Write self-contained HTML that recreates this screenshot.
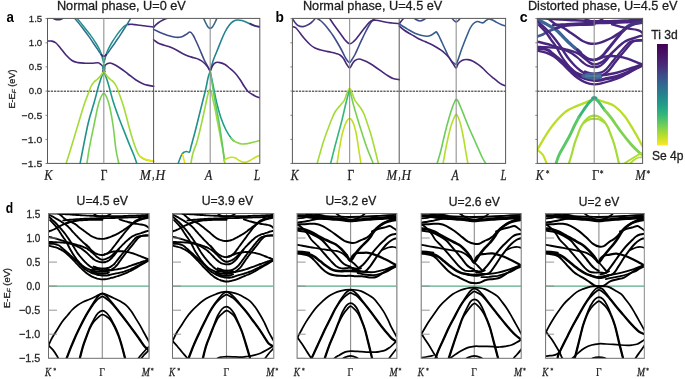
<!DOCTYPE html>
<html><head><meta charset="utf-8"><style>
html,body{margin:0;padding:0;background:#fff;}
svg{display:block;will-change:transform;}
</style></head><body>
<svg width="685" height="379" viewBox="0 0 685 379">
<rect width="685" height="379" fill="#fff"/>
<defs><clipPath id="ca"><rect x="47.50" y="18.40" width="212.30" height="145.00"/></clipPath><clipPath id="cb"><rect x="292.40" y="18.40" width="213.20" height="145.00"/></clipPath><clipPath id="cc"><rect x="537.30" y="18.40" width="105.30" height="145.00"/></clipPath><clipPath id="cd0"><rect x="48.50" y="213.50" width="100.60" height="144.80"/></clipPath><clipPath id="cd1"><rect x="172.50" y="213.50" width="101.20" height="144.80"/></clipPath><clipPath id="cd2"><rect x="297.10" y="213.50" width="99.70" height="144.80"/></clipPath><clipPath id="cd3"><rect x="421.20" y="213.50" width="100.10" height="144.80"/></clipPath><clipPath id="cd4"><rect x="545.60" y="213.50" width="98.80" height="144.80"/></clipPath>
<linearGradient id="vir" x1="0" y1="1" x2="0" y2="0">
<stop offset="0" stop-color="#fde725"/><stop offset="0.1" stop-color="#b5de2b"/><stop offset="0.2" stop-color="#6ece58"/>
<stop offset="0.3" stop-color="#35b779"/><stop offset="0.4" stop-color="#1f9e89"/><stop offset="0.5" stop-color="#26828e"/>
<stop offset="0.6" stop-color="#31688e"/><stop offset="0.7" stop-color="#3e4989"/><stop offset="0.8" stop-color="#482878"/>
<stop offset="0.9" stop-color="#471365"/><stop offset="1" stop-color="#440154"/>
</linearGradient></defs>
<line x1="47.50" y1="91.20" x2="259.80" y2="91.20" stroke="#1e1e1e" stroke-width="1.00" stroke-dasharray="2.3,0.95"/>
<line x1="292.40" y1="91.20" x2="505.60" y2="91.20" stroke="#1e1e1e" stroke-width="1.00" stroke-dasharray="2.3,0.95"/>
<line x1="537.30" y1="91.20" x2="642.60" y2="91.20" stroke="#1e1e1e" stroke-width="1.00" stroke-dasharray="2.3,0.95"/>
<line x1="48.50" y1="286.10" x2="149.10" y2="286.10" stroke="#5aad88" stroke-width="1.30"/>
<line x1="172.50" y1="286.10" x2="273.70" y2="286.10" stroke="#5aad88" stroke-width="1.30"/>
<line x1="297.10" y1="286.10" x2="396.80" y2="286.10" stroke="#5aad88" stroke-width="1.30"/>
<line x1="421.20" y1="286.10" x2="521.30" y2="286.10" stroke="#5aad88" stroke-width="1.30"/>
<line x1="545.60" y1="286.10" x2="644.40" y2="286.10" stroke="#5aad88" stroke-width="1.30"/>
<line x1="102.30" y1="213.50" x2="102.30" y2="358.30" stroke="#8c8c8c" stroke-width="1.10"/>
<line x1="226.50" y1="213.50" x2="226.50" y2="358.30" stroke="#8c8c8c" stroke-width="1.10"/>
<line x1="350.60" y1="213.50" x2="350.60" y2="358.30" stroke="#8c8c8c" stroke-width="1.10"/>
<line x1="474.30" y1="213.50" x2="474.30" y2="358.30" stroke="#8c8c8c" stroke-width="1.10"/>
<line x1="598.90" y1="213.50" x2="598.90" y2="358.30" stroke="#8c8c8c" stroke-width="1.10"/>
<g clip-path="url(#ca)">
<path d="M52.0,17.6 C52.5,17.9 54.0,18.9 55.0,19.3 C56.0,19.7 57.0,19.8 58.0,19.8 C59.0,19.8 60.0,19.7 61.0,19.3 C62.0,18.9 63.5,17.9 64.0,17.6" stroke="#472878" stroke-width="1.60" fill="none" stroke-linecap="round" stroke-linejoin="round"/>
<path d="M47.0,41.1 C47.8,41.1 50.5,40.8 52.0,41.1 C53.5,41.4 54.7,41.9 56.0,43.0 C57.3,44.1 58.3,45.5 60.0,47.5 C61.7,49.5 64.0,52.8 66.0,55.0 C68.0,57.2 70.0,59.2 72.0,60.5 C74.0,61.8 75.8,62.1 78.0,62.6 C80.2,63.1 82.7,63.1 85.0,63.2 C87.3,63.3 89.8,63.3 92.0,63.2 C94.2,63.1 96.5,62.6 98.0,62.8 C99.5,63.0 100.0,63.7 101.0,64.5 C102.0,65.3 103.3,67.2 103.8,67.7" stroke="#472878" stroke-width="1.60" fill="none" stroke-linecap="round" stroke-linejoin="round"/>
<path d="M103.8,67.7 C104.2,67.2 105.2,65.2 106.0,64.5 C106.8,63.8 107.5,63.5 108.5,63.3 C109.5,63.1 110.1,62.7 112.0,63.5 C113.9,64.3 117.3,66.2 120.0,68.0 C122.7,69.8 125.3,72.0 128.0,74.0 C130.7,76.0 133.3,78.3 136.0,80.0 C138.7,81.7 141.1,83.2 144.0,84.2 C146.9,85.2 152.1,86.0 153.7,86.3" stroke="#472878" stroke-width="1.60" fill="none" stroke-linecap="round" stroke-linejoin="round"/>
<path d="M73.8,17.5 C74.4,18.1 76.1,20.0 77.2,21.3 C78.3,22.6 79.4,24.0 80.6,25.5 C81.8,27.0 83.1,28.7 84.4,30.5 C85.7,32.3 87.2,34.2 88.6,36.1 C90.0,38.0 91.4,40.2 92.6,42.0 C93.8,43.8 95.0,45.6 96.0,47.0 C97.0,48.4 97.7,49.6 98.4,50.6 C99.1,51.6 99.7,52.5 100.3,53.3 C100.9,54.1 101.4,54.8 102.0,55.3 C102.6,55.8 103.2,56.3 103.8,56.3 C104.4,56.3 105.0,55.8 105.6,55.3 C106.2,54.8 106.8,54.1 107.5,53.3 C108.2,52.5 108.8,51.6 109.5,50.6 C110.2,49.6 111.0,48.4 112.0,47.0 C113.0,45.6 114.3,43.8 115.5,42.0 C116.7,40.2 118.2,38.1 119.4,36.4 C120.6,34.6 121.5,33.1 122.5,31.5 C123.5,29.9 124.4,28.5 125.4,27.0 C126.4,25.5 127.3,23.9 128.3,22.3 C129.3,20.7 130.7,18.3 131.2,17.5" stroke="#2d6f8e" stroke-width="1.50" fill="none" stroke-linecap="round" stroke-linejoin="round"/>
<path d="M76.4,17.5 C77.0,18.2 78.7,20.2 79.8,21.6 C80.9,23.0 82.1,24.5 83.3,26.0 C84.5,27.5 85.5,28.8 86.8,30.5 C88.1,32.2 89.8,34.1 91.2,36.1 C92.7,38.1 94.2,40.5 95.5,42.5 C96.8,44.5 97.9,46.4 98.8,48.1 C99.7,49.8 100.3,51.2 100.8,52.5 C101.3,53.8 101.6,54.9 101.9,56.0 C102.2,57.1 102.5,58.5 102.6,59.0" stroke="#22908c" stroke-width="1.50" fill="none" stroke-linecap="round" stroke-linejoin="round"/>
<path d="M105.0,59.0 C105.1,58.5 105.4,57.1 105.7,56.0 C106.0,54.9 106.3,53.8 106.8,52.5 C107.3,51.2 107.9,49.8 108.8,48.1 C109.7,46.4 110.7,44.5 111.9,42.5 C113.1,40.5 114.6,38.3 115.9,36.4 C117.2,34.5 118.6,32.5 119.8,31.0 C121.0,29.5 122.1,28.2 123.1,27.2 C124.1,26.2 124.9,25.7 125.8,25.2 C126.7,24.7 128.1,24.5 128.5,24.4" stroke="#22908c" stroke-width="1.50" fill="none" stroke-linecap="round" stroke-linejoin="round"/>
<path d="M102.6,59.0 C102.7,59.4 103.0,60.7 103.2,61.5 C103.4,62.3 103.6,62.9 103.8,63.6 C104.0,64.3 104.2,64.9 104.4,65.7 C104.6,66.5 105.0,67.5 105.0,68.3 C105.0,69.1 104.6,69.8 104.4,70.3 C104.2,70.8 103.9,71.0 103.8,71.2" stroke="#2a9a8a" stroke-width="1.40" fill="none" stroke-linecap="round" stroke-linejoin="round"/>
<path d="M105.0,59.0 C104.9,59.4 104.6,60.7 104.4,61.5 C104.2,62.3 104.0,62.9 103.8,63.6 C103.6,64.3 103.4,64.9 103.2,65.7 C103.0,66.5 102.6,67.5 102.6,68.3 C102.6,69.1 103.0,69.8 103.2,70.3 C103.4,70.8 103.7,71.0 103.8,71.2" stroke="#2a9a8a" stroke-width="1.40" fill="none" stroke-linecap="round" stroke-linejoin="round"/>
<path d="M102.9,71.2 C103.1,71.3 103.5,71.6 103.8,71.6 C104.1,71.6 104.5,71.3 104.7,71.2" stroke="#3b1c6e" stroke-width="2.00" fill="none" stroke-linecap="round" stroke-linejoin="round"/>
<path d="M101.2,54.6 C101.4,54.8 102.1,55.6 102.5,55.9 C102.9,56.2 103.4,56.4 103.8,56.4 C104.2,56.4 104.7,56.2 105.1,55.9 C105.5,55.6 106.2,54.8 106.4,54.6" stroke="#3a2a75" stroke-width="1.60" fill="none" stroke-linecap="round" stroke-linejoin="round"/>
<path d="M128.5,24.4 C129.2,24.4 131.1,24.2 133.0,24.4 C134.9,24.5 137.7,25.0 140.0,25.3 C142.3,25.6 144.7,26.0 147.0,26.3 C149.3,26.6 152.6,26.9 153.7,27.0" stroke="#472878" stroke-width="1.60" fill="none" stroke-linecap="round" stroke-linejoin="round"/>
<path d="M103.8,71.2 C103.4,72.2 102.2,75.0 101.5,77.0 C100.8,79.0 100.1,81.2 99.5,83.0 C98.9,84.8 98.9,84.7 98.0,88.0 C97.1,91.3 95.7,97.0 94.0,103.0 C92.3,109.0 90.3,113.8 88.0,124.0 C85.7,134.2 81.3,157.3 80.0,164.0" stroke="#21918c" stroke-width="1.60" fill="none" stroke-linecap="round" stroke-linejoin="round"/>
<path d="M103.8,71.2 C104.2,72.2 105.3,75.0 106.0,77.0 C106.7,79.0 107.2,80.5 108.0,83.0 C108.8,85.5 109.7,89.0 110.5,92.0 C111.3,95.0 111.8,97.1 113.0,101.0 C114.2,104.9 116.1,110.4 118.0,115.5 C119.9,120.6 122.2,126.4 124.2,131.4 C126.2,136.4 128.2,141.6 129.8,145.5 C131.4,149.4 132.6,152.0 133.8,155.0 C135.0,158.0 136.2,161.7 136.8,163.5 C137.4,165.3 137.4,165.6 137.5,166.0" stroke="#1f9a8a" stroke-width="1.60" fill="none" stroke-linecap="round" stroke-linejoin="round"/>
<path d="M103.8,71.2 C103.2,72.0 101.6,74.6 100.5,76.0 C99.4,77.4 98.1,78.5 97.0,79.5 C95.9,80.5 95.0,80.8 94.0,82.0 C93.0,83.2 91.9,84.7 91.0,86.5 C90.1,88.3 89.7,89.9 88.5,93.0 C87.3,96.1 85.9,99.2 84.0,105.0 C82.1,110.8 79.2,120.8 77.0,128.0 C74.8,135.2 72.8,142.0 71.0,148.0 C69.2,154.0 66.8,161.3 66.0,164.0" stroke="#a5db36" stroke-width="1.60" fill="none" stroke-linecap="round" stroke-linejoin="round"/>
<path d="M103.8,71.2 C104.3,72.0 105.9,74.6 107.0,76.0 C108.1,77.4 109.4,78.5 110.5,79.5 C111.6,80.5 112.5,80.8 113.5,82.0 C114.5,83.2 115.6,84.7 116.5,86.5 C117.4,88.3 117.8,89.4 119.0,93.0 C120.2,96.6 122.0,101.2 124.0,108.0 C126.0,114.8 129.0,127.2 131.0,134.0 C133.0,140.8 134.5,145.2 136.0,149.0 C137.5,152.8 138.3,154.7 140.0,156.5 C141.7,158.3 143.7,159.2 146.0,160.0 C148.3,160.8 152.4,161.0 153.7,161.2" stroke="#a5db36" stroke-width="1.60" fill="none" stroke-linecap="round" stroke-linejoin="round"/>
<path d="M86.0,170.0 C86.5,166.7 87.7,157.5 89.0,150.0 C90.3,142.5 92.5,132.3 94.0,125.0 C95.5,117.7 96.8,110.7 98.0,106.0 C99.2,101.3 100.0,99.1 101.0,97.0 C102.0,94.9 102.9,93.2 103.8,93.2 C104.7,93.2 105.5,94.9 106.5,97.0 C107.5,99.1 108.4,101.3 109.5,106.0 C110.6,110.7 111.9,117.7 113.0,125.0 C114.1,132.3 115.0,143.5 116.0,150.0 C117.0,156.5 118.5,161.7 119.0,164.0" stroke="#7ad151" stroke-width="1.60" fill="none" stroke-linecap="round" stroke-linejoin="round"/>
<path d="M103.3,63.6 L104.3,63.6" stroke="#c8e020" stroke-width="1.60" fill="none" stroke-linecap="round" stroke-linejoin="round"/>
</g>
<g clip-path="url(#ca)">
<path d="M153.6,27.2 C154.3,26.5 156.4,24.2 158.0,23.0 C159.6,21.8 161.3,20.8 163.0,20.0 C164.7,19.2 166.5,18.6 168.0,18.0 C169.5,17.4 171.3,16.8 172.0,16.5" stroke="#472878" stroke-width="1.60" fill="none" stroke-linecap="round" stroke-linejoin="round"/>
<path d="M153.6,29.4 C154.3,29.8 156.3,30.7 158.0,31.5 C159.7,32.3 162.0,33.2 164.0,34.0 C166.0,34.8 168.0,35.5 170.0,36.0 C172.0,36.5 174.2,37.1 176.0,37.3 C177.8,37.5 179.3,37.5 181.0,37.0 C182.7,36.5 184.5,35.3 186.0,34.5 C187.5,33.7 188.8,31.9 190.0,32.0 C191.2,32.1 192.0,33.5 193.0,35.0 C194.0,36.5 194.8,38.5 196.0,41.0 C197.2,43.5 198.7,46.9 200.0,50.0 C201.3,53.1 202.8,56.8 204.0,59.5 C205.2,62.2 206.5,64.0 207.5,66.0 C208.5,68.0 209.8,70.3 210.2,71.2" stroke="#3e4c8a" stroke-width="1.60" fill="none" stroke-linecap="round" stroke-linejoin="round"/>
<path d="M153.6,39.8 C154.3,40.3 156.3,42.1 158.0,43.0 C159.7,43.9 162.0,44.5 164.0,45.2 C166.0,45.9 168.0,46.2 170.0,47.0 C172.0,47.8 174.0,48.8 176.0,49.8 C178.0,50.8 180.0,52.3 182.0,53.3 C184.0,54.3 186.0,55.2 188.0,56.0 C190.0,56.8 192.2,57.2 194.0,57.8 C195.8,58.4 197.5,58.8 199.0,59.5 C200.5,60.2 201.7,60.9 203.0,62.0 C204.3,63.1 205.8,64.5 207.0,66.0 C208.2,67.5 209.7,70.3 210.2,71.2" stroke="#472878" stroke-width="1.60" fill="none" stroke-linecap="round" stroke-linejoin="round"/>
<path d="M210.2,71.2 C210.7,69.5 211.9,64.4 213.0,61.0 C214.1,57.6 215.7,54.3 217.0,51.0 C218.3,47.7 219.7,44.2 221.0,41.0 C222.3,37.8 223.7,34.6 225.0,32.0 C226.3,29.4 227.7,27.2 229.0,25.5 C230.3,23.8 231.7,22.4 233.0,21.5 C234.3,20.6 235.5,20.2 237.0,20.0 C238.5,19.8 240.3,20.1 242.0,20.5 C243.7,20.9 245.3,21.8 247.0,22.5 C248.7,23.2 250.5,24.4 252.0,25.0 C253.5,25.6 254.7,26.0 256.0,26.3 C257.3,26.6 259.3,26.7 260.0,26.8" stroke="#26828e" stroke-width="1.60" fill="none" stroke-linecap="round" stroke-linejoin="round"/>
<path d="M250.0,23.5 C250.8,23.9 253.3,25.2 255.0,25.8 C256.7,26.4 259.2,26.6 260.0,26.8" stroke="#472878" stroke-width="1.60" fill="none" stroke-linecap="round" stroke-linejoin="round"/>
<path d="M210.2,71.2 C210.7,70.2 212.0,66.5 213.0,65.0 C214.0,63.5 214.8,62.9 216.0,62.5 C217.2,62.1 218.5,62.3 220.0,62.6 C221.5,62.9 223.3,63.5 225.0,64.5 C226.7,65.5 228.3,67.1 230.0,68.5 C231.7,69.9 233.3,71.2 235.0,73.0 C236.7,74.8 238.5,77.3 240.0,79.5 C241.5,81.7 242.7,84.0 244.0,86.0 C245.3,88.0 246.7,90.1 248.0,91.5 C249.3,92.9 250.7,93.4 252.0,94.2 C253.3,95.0 254.7,95.9 256.0,96.5 C257.3,97.1 259.3,97.6 260.0,97.8" stroke="#472878" stroke-width="1.60" fill="none" stroke-linecap="round" stroke-linejoin="round"/>
<path d="M203.0,17.0 C203.4,17.9 204.7,20.8 205.5,22.5 C206.3,24.2 207.2,26.0 208.0,27.0 C208.8,28.0 209.5,28.4 210.2,28.4 C210.9,28.4 211.6,28.0 212.4,27.0 C213.2,26.0 214.2,24.2 215.0,22.5 C215.8,20.8 217.1,17.9 217.5,17.0" stroke="#31688e" stroke-width="1.60" fill="none" stroke-linecap="round" stroke-linejoin="round"/>
<path d="M210.2,71.2 C209.8,72.3 208.7,75.2 208.0,78.0 C207.3,80.8 206.8,84.3 206.0,88.0 C205.2,91.7 204.2,95.3 203.0,100.0 C201.8,104.7 200.3,110.7 199.0,116.0 C197.7,121.3 196.3,127.0 195.0,132.0 C193.7,137.0 192.1,142.7 191.2,146.0 C190.3,149.3 190.3,151.1 189.5,152.0 C188.7,152.9 187.5,151.4 186.5,151.5 C185.5,151.6 184.4,151.8 183.5,152.5 C182.6,153.2 181.9,154.1 181.0,156.0 C180.1,157.9 178.5,162.7 178.0,164.0" stroke="#21918c" stroke-width="1.60" fill="none" stroke-linecap="round" stroke-linejoin="round"/>
<path d="M190.5,166.0 C190.7,165.0 191.1,162.2 191.5,160.0 C191.9,157.8 192.2,155.8 193.0,153.0 C193.8,150.2 195.5,146.5 196.6,143.0 C197.7,139.5 198.6,135.7 199.5,132.0 C200.4,128.3 201.3,124.5 202.1,120.8 C202.9,117.1 203.8,113.2 204.5,110.0 C205.2,106.8 205.7,104.2 206.3,101.5 C206.9,98.8 207.6,95.5 208.2,93.5 C208.8,91.5 209.3,89.3 209.9,89.3 C210.5,89.3 211.0,91.5 211.6,93.5 C212.2,95.5 212.8,98.8 213.4,101.5 C214.0,104.2 214.7,106.8 215.3,110.0 C216.0,113.2 216.6,117.1 217.3,120.8 C218.0,124.5 218.8,128.3 219.5,132.0 C220.2,135.7 220.9,139.7 221.5,143.0 C222.1,146.3 222.9,149.5 223.3,152.0 C223.8,154.5 223.9,156.2 224.2,158.0 C224.4,159.8 224.7,162.2 224.8,163.0" stroke="#9bd93c" stroke-width="1.60" fill="none" stroke-linecap="round" stroke-linejoin="round"/>
<path d="M210.2,71.2 C210.5,72.7 211.4,76.9 212.0,80.0 C212.6,83.1 213.2,86.0 214.0,90.0 C214.8,94.0 215.8,99.3 217.0,104.0 C218.2,108.7 219.5,113.7 221.0,118.0 C222.5,122.3 224.3,126.7 226.0,130.0 C227.7,133.3 229.7,136.2 231.0,138.0 C232.3,139.8 233.5,140.5 234.0,141.0" stroke="#1f9e89" stroke-width="1.60" fill="none" stroke-linecap="round" stroke-linejoin="round"/>
<path d="M231.0,138.0 C231.5,138.5 233.2,140.3 234.0,141.0 C234.8,141.7 234.7,141.5 236.0,142.0 C237.3,142.5 240.0,143.8 242.0,144.0 C244.0,144.2 246.0,143.8 248.0,143.5 C250.0,143.2 252.0,142.5 254.0,142.0 C256.0,141.5 259.0,140.8 260.0,140.5" stroke="#8ed645" stroke-width="1.60" fill="none" stroke-linecap="round" stroke-linejoin="round"/>
<path d="M210.2,71.2 C210.4,72.7 210.9,76.5 211.5,80.0 C212.1,83.5 212.8,87.7 213.5,92.0 C214.2,96.3 215.1,101.0 216.0,106.0 C216.9,111.0 218.0,116.0 219.0,122.0 C220.0,128.0 221.1,135.7 222.0,142.0 C222.9,148.3 223.9,157.0 224.3,160.0" stroke="#5ec962" stroke-width="1.60" fill="none" stroke-linecap="round" stroke-linejoin="round"/>
<path d="M223.5,161.0 C223.6,160.8 223.7,160.4 224.3,160.0 C224.9,159.6 225.9,158.9 227.0,158.5 C228.1,158.1 229.7,157.4 231.0,157.3 C232.3,157.2 233.5,157.1 235.0,157.7 C236.5,158.3 238.3,160.2 240.0,161.0 C241.7,161.8 243.3,162.5 245.0,162.4 C246.7,162.3 248.3,161.3 250.0,160.5 C251.7,159.7 253.3,158.4 255.0,157.5 C256.7,156.6 259.2,155.6 260.0,155.2" stroke="#c8e020" stroke-width="1.60" fill="none" stroke-linecap="round" stroke-linejoin="round"/>
<path d="M185.0,164.0 C184.8,163.0 183.9,159.6 183.5,158.0 C183.1,156.4 182.7,155.1 182.5,154.5" stroke="#e5e419" stroke-width="1.60" fill="none" stroke-linecap="round" stroke-linejoin="round"/>
<path d="M140.0,156.2 C141.0,156.8 143.7,158.7 146.0,159.5 C148.3,160.3 152.3,160.9 153.6,161.2" stroke="#e5e419" stroke-width="1.60" fill="none" stroke-linecap="round" stroke-linejoin="round"/>
</g>
<g clip-path="url(#cb)">
<path d="M292.6,19.0 C293.0,19.6 294.1,21.4 295.0,22.5 C295.9,23.6 296.7,24.8 298.0,25.5 C299.3,26.2 301.2,26.8 303.0,26.6 C304.8,26.4 307.3,25.1 309.0,24.2 C310.7,23.3 311.8,22.1 313.0,21.0 C314.2,19.9 315.5,18.1 316.0,17.5" stroke="#443a83" stroke-width="1.60" fill="none" stroke-linecap="round" stroke-linejoin="round"/>
<path d="M316.0,17.8 C316.8,18.3 319.5,19.8 321.0,21.0 C322.5,22.2 323.7,23.5 325.0,25.0 C326.3,26.5 327.7,28.2 329.0,30.0 C330.3,31.8 331.7,33.5 333.0,35.5 C334.3,37.5 335.7,39.8 337.0,42.0 C338.3,44.2 339.8,46.8 341.0,49.0 C342.2,51.2 343.1,53.2 344.0,55.0 C344.9,56.8 345.6,58.2 346.5,59.5 C347.4,60.8 348.7,62.6 349.6,62.6 C350.5,62.6 351.1,60.9 352.0,59.5 C352.9,58.1 354.0,56.4 355.0,54.5 C356.0,52.6 357.0,50.2 358.0,48.0 C359.0,45.8 359.8,43.8 361.0,41.3 C362.2,38.8 363.7,35.6 365.0,33.0 C366.3,30.4 367.8,27.5 369.0,25.5 C370.2,23.5 371.0,22.2 372.0,21.0 C373.0,19.8 374.5,18.5 375.0,18.0" stroke="#3e4c8a" stroke-width="1.60" fill="none" stroke-linecap="round" stroke-linejoin="round"/>
<path d="M329.0,17.5 C329.7,18.5 331.7,21.6 333.0,23.5 C334.3,25.4 335.7,27.2 337.0,29.0 C338.3,30.8 339.7,32.7 341.0,34.5 C342.3,36.3 343.6,38.5 345.0,40.0 C346.4,41.5 348.1,43.6 349.6,43.8 C351.1,44.0 352.6,42.4 354.0,41.2 C355.4,40.0 356.5,38.4 358.0,36.5 C359.5,34.6 361.5,31.9 363.0,30.0 C364.5,28.1 365.7,26.5 367.0,25.0 C368.3,23.5 369.5,21.8 371.0,21.0 C372.5,20.2 373.7,20.0 376.0,20.2 C378.3,20.4 382.3,21.5 385.0,22.0 C387.7,22.5 389.6,22.7 392.0,23.0 C394.4,23.3 398.1,23.5 399.3,23.6" stroke="#472878" stroke-width="1.60" fill="none" stroke-linecap="round" stroke-linejoin="round"/>
<path d="M292.6,26.6 C293.2,26.8 294.8,26.9 296.0,28.0 C297.2,29.1 298.5,31.1 300.0,33.0 C301.5,34.9 303.3,37.3 305.0,39.2 C306.7,41.1 308.3,43.0 310.0,44.5 C311.7,46.0 313.3,47.1 315.0,48.0 C316.7,48.9 318.3,49.3 320.0,49.8 C321.7,50.3 323.2,50.6 325.0,51.0 C326.8,51.4 329.2,51.8 331.0,52.2 C332.8,52.6 334.5,52.9 336.0,53.4 C337.5,53.9 338.8,54.1 340.0,55.0 C341.2,55.9 342.4,57.0 343.5,58.5 C344.6,60.0 345.5,62.4 346.5,64.0 C347.5,65.6 348.6,68.1 349.6,68.0 C350.6,67.9 351.6,64.8 352.5,63.5 C353.4,62.2 353.9,61.2 355.0,60.5 C356.1,59.8 357.5,59.0 359.0,59.0 C360.5,59.0 362.2,59.8 364.0,60.5 C365.8,61.2 368.0,62.3 370.0,63.5 C372.0,64.7 374.0,66.1 376.0,67.5 C378.0,68.9 380.0,70.3 382.0,71.7 C384.0,73.1 386.2,74.7 388.0,75.8 C389.8,76.9 391.1,77.8 393.0,78.4 C394.9,79.0 398.2,79.4 399.3,79.6" stroke="#472878" stroke-width="1.60" fill="none" stroke-linecap="round" stroke-linejoin="round"/>
<path d="M349.6,89.0 C349.2,89.7 347.9,91.2 347.0,93.0 C346.1,94.8 345.5,98.1 344.5,100.0 C343.5,101.9 342.1,103.2 341.0,104.5 C339.9,105.8 339.0,106.8 338.0,108.0 C337.0,109.2 336.0,110.2 335.0,112.0 C334.0,113.8 333.1,115.9 332.0,118.5 C330.9,121.1 329.7,124.4 328.5,127.5 C327.3,130.6 326.2,133.6 325.0,137.0 C323.8,140.4 322.8,143.5 321.5,148.0 C320.2,152.5 317.8,161.3 317.0,164.0" stroke="#a5db36" stroke-width="1.60" fill="none" stroke-linecap="round" stroke-linejoin="round"/>
<path d="M349.6,89.0 C350.0,89.7 351.1,91.2 352.0,93.0 C352.9,94.8 353.8,98.1 354.8,100.0 C355.8,101.9 357.0,103.1 358.0,104.5 C359.0,105.9 360.0,106.9 361.0,108.5 C362.0,110.1 363.0,111.7 364.0,114.0 C365.0,116.3 365.9,119.3 367.0,122.5 C368.1,125.7 369.3,129.1 370.5,133.0 C371.7,136.9 372.7,140.8 374.0,146.0 C375.3,151.2 377.8,161.0 378.5,164.0" stroke="#a5db36" stroke-width="1.60" fill="none" stroke-linecap="round" stroke-linejoin="round"/>
<path d="M349.6,89.0 C349.0,91.3 347.3,97.8 346.0,103.0 C344.7,108.2 343.3,114.7 342.0,120.0 C340.7,125.3 339.3,130.0 338.0,135.0 C336.7,140.0 335.2,145.2 334.0,150.0 C332.8,154.8 331.1,161.7 330.5,164.0" stroke="#35b779" stroke-width="1.60" fill="none" stroke-linecap="round" stroke-linejoin="round"/>
<path d="M349.6,89.0 C350.2,91.3 351.8,98.3 353.0,103.0 C354.2,107.7 355.5,112.0 357.0,117.0 C358.5,122.0 360.3,127.8 362.0,133.0 C363.7,138.2 365.1,142.8 367.0,148.0 C368.9,153.2 372.4,161.3 373.5,164.0" stroke="#7ad151" stroke-width="1.60" fill="none" stroke-linecap="round" stroke-linejoin="round"/>
<path d="M337.0,164.0 C337.4,161.3 338.7,152.8 339.5,148.0 C340.3,143.2 341.1,138.8 342.0,135.0 C342.9,131.2 344.1,127.5 345.0,125.0 C345.9,122.5 346.7,121.1 347.5,120.0 C348.3,118.9 348.9,118.5 349.6,118.5 C350.3,118.5 351.0,118.9 351.7,120.0 C352.4,121.1 353.2,122.5 354.0,125.0 C354.8,127.5 355.8,131.2 356.5,135.0 C357.2,138.8 357.8,143.2 358.5,148.0 C359.2,152.8 360.6,161.3 361.0,164.0" stroke="#c2df23" stroke-width="1.60" fill="none" stroke-linecap="round" stroke-linejoin="round"/>
<path d="M348.4,89.6 C348.6,89.5 349.2,89.2 349.6,89.2 C350.0,89.2 350.6,89.5 350.8,89.6" stroke="#d8e219" stroke-width="1.90" fill="none" stroke-linecap="round" stroke-linejoin="round"/>
</g>
<g clip-path="url(#cb)">
<path d="M399.3,23.6 C399.6,23.2 400.4,22.3 401.0,21.5 C401.6,20.7 402.3,19.8 403.0,19.0 C403.7,18.2 404.7,17.3 405.0,17.0" stroke="#472878" stroke-width="1.60" fill="none" stroke-linecap="round" stroke-linejoin="round"/>
<path d="M413.0,17.0 C413.5,17.4 414.8,18.8 416.0,19.5 C417.2,20.2 418.7,21.0 420.0,21.0 C421.3,21.0 422.8,20.2 424.0,19.5 C425.2,18.8 426.5,17.4 427.0,17.0" stroke="#3e4c8a" stroke-width="1.60" fill="none" stroke-linecap="round" stroke-linejoin="round"/>
<path d="M451.0,17.0 C451.5,17.6 453.1,19.7 454.0,20.5 C454.9,21.3 455.5,22.0 456.2,22.0 C456.9,22.0 457.6,21.3 458.4,20.5 C459.2,19.7 460.6,17.6 461.0,17.0" stroke="#3e4c8a" stroke-width="1.60" fill="none" stroke-linecap="round" stroke-linejoin="round"/>
<path d="M399.3,24.0 C400.1,24.5 402.4,26.0 404.0,27.0 C405.6,28.0 407.5,29.1 409.0,30.0 C410.5,30.9 411.7,31.6 413.0,32.3 C414.3,33.0 415.5,33.5 417.0,34.0 C418.5,34.5 420.3,35.1 422.0,35.5 C423.7,35.9 425.5,36.2 427.0,36.2 C428.5,36.2 429.8,35.8 431.0,35.3 C432.2,34.8 433.6,33.5 434.5,33.0 C435.4,32.5 435.8,31.5 436.5,32.0 C437.2,32.5 438.1,34.2 439.0,36.0 C439.9,37.8 441.0,40.3 442.0,42.5 C443.0,44.7 444.0,46.8 445.0,49.0 C446.0,51.2 447.0,53.6 448.0,55.5 C449.0,57.4 450.0,59.2 451.0,60.5 C452.0,61.8 453.1,62.6 454.0,63.2 C454.9,63.8 455.4,64.8 456.2,64.0 C456.9,63.2 457.7,60.7 458.5,58.5 C459.3,56.3 460.1,53.6 461.0,51.0 C461.9,48.4 463.0,45.6 464.0,43.0 C465.0,40.4 466.0,37.9 467.0,35.5 C468.0,33.1 469.0,30.4 470.0,28.5 C471.0,26.6 471.8,25.2 473.0,24.0 C474.2,22.8 475.8,21.8 477.0,21.5 C478.2,21.2 479.0,22.0 480.0,22.2 C481.0,22.4 482.0,23.1 483.0,22.8 C484.0,22.5 485.0,21.1 486.0,20.5 C487.0,19.9 488.0,19.1 489.0,19.0 C490.0,18.9 490.8,19.3 492.0,19.8 C493.2,20.3 494.5,21.2 496.0,22.0 C497.5,22.8 499.3,23.8 501.0,24.5 C502.7,25.2 505.2,25.8 506.0,26.0" stroke="#365d8d" stroke-width="1.60" fill="none" stroke-linecap="round" stroke-linejoin="round"/>
<path d="M399.3,26.0 C400.1,26.7 402.4,28.8 404.0,30.0 C405.6,31.2 407.3,32.2 409.0,33.2 C410.7,34.2 412.3,35.0 414.0,36.0 C415.7,37.0 417.2,38.1 419.0,39.0 C420.8,39.9 423.0,40.6 425.0,41.5 C427.0,42.4 429.2,43.3 431.0,44.2 C432.8,45.1 434.3,46.0 436.0,47.0 C437.7,48.0 439.5,49.1 441.0,50.2 C442.5,51.3 443.7,52.3 445.0,53.5 C446.3,54.7 447.8,56.1 449.0,57.5 C450.2,58.9 451.1,60.6 452.0,62.0 C452.9,63.4 453.8,65.0 454.5,66.0 C455.2,67.0 455.6,68.3 456.2,68.0 C456.8,67.7 457.2,65.1 458.0,64.0 C458.8,62.9 460.0,61.9 461.0,61.2 C462.0,60.5 462.8,60.1 464.0,59.8 C465.2,59.5 466.5,59.4 468.0,59.6 C469.5,59.8 471.3,60.4 473.0,61.2 C474.7,62.0 476.3,63.1 478.0,64.3 C479.7,65.5 481.3,67.0 483.0,68.5 C484.7,70.0 486.3,72.0 488.0,73.5 C489.7,75.0 491.3,76.4 493.0,77.8 C494.7,79.2 496.5,80.7 498.0,81.8 C499.5,82.9 500.7,83.8 502.0,84.5 C503.3,85.2 505.3,85.9 506.0,86.2" stroke="#472878" stroke-width="1.60" fill="none" stroke-linecap="round" stroke-linejoin="round"/>
<path d="M437.0,164.0 C437.7,161.7 439.7,155.2 441.0,150.0 C442.3,144.8 443.7,138.3 445.0,133.0 C446.3,127.7 447.8,122.3 449.0,118.0 C450.2,113.7 451.5,109.8 452.5,107.0 C453.5,104.2 454.4,102.3 455.0,101.0 C455.6,99.7 455.7,99.2 456.2,99.2 C456.7,99.2 457.2,99.5 458.0,101.0 C458.8,102.5 459.8,105.2 461.0,108.0 C462.2,110.8 463.6,114.5 465.0,118.0 C466.4,121.5 468.0,125.5 469.5,129.0 C471.0,132.5 472.6,135.8 474.0,139.0 C475.4,142.2 476.7,145.0 478.0,148.0 C479.3,151.0 480.7,154.3 482.0,157.0 C483.3,159.7 485.3,162.8 486.0,164.0" stroke="#6ccd5a" stroke-width="1.60" fill="none" stroke-linecap="round" stroke-linejoin="round"/>
<path d="M443.0,164.0 C443.4,161.7 444.7,154.3 445.5,150.0 C446.3,145.7 447.1,142.0 448.0,138.0 C448.9,134.0 450.0,129.3 451.0,126.0 C452.0,122.7 453.1,120.0 454.0,118.0 C454.9,116.0 455.4,114.2 456.2,114.2 C456.9,114.2 457.7,116.0 458.5,118.0 C459.3,120.0 460.2,122.7 461.0,126.0 C461.8,129.3 462.8,134.0 463.5,138.0 C464.2,142.0 464.8,145.7 465.5,150.0 C466.2,154.3 467.6,161.7 468.0,164.0" stroke="#b5de2b" stroke-width="1.60" fill="none" stroke-linecap="round" stroke-linejoin="round"/>
</g>
<g clip-path="url(#cc)">
<path d="M537.3,18.3 C538.6,18.3 542.4,18.4 545.0,18.5 C547.6,18.6 550.4,18.8 553.0,18.9 C555.6,19.0 558.2,19.2 560.7,19.4 C563.2,19.6 565.6,19.8 568.0,19.9 C570.4,20.0 572.2,20.1 575.0,20.3 C577.8,20.5 581.8,20.7 585.0,20.8 C588.2,20.9 591.0,21.1 594.3,21.2 C597.6,21.3 601.5,21.2 605.0,21.2 C608.5,21.2 611.7,21.1 615.0,21.0 C618.3,20.9 621.7,20.7 625.0,20.6 C628.3,20.5 632.1,20.3 635.0,20.2 C637.9,20.1 641.3,19.9 642.6,19.8" stroke="#48267f" stroke-width="2.58" fill="none" stroke-linecap="round" stroke-linejoin="round"/>
<path d="M553.0,25.3 C553.8,25.2 556.6,24.9 558.0,24.8 C559.4,24.7 559.8,24.7 561.3,24.6 C562.8,24.5 564.8,24.4 567.1,24.2 C569.4,24.0 572.0,23.8 575.0,23.7 C578.0,23.6 581.8,23.4 585.0,23.3 C588.2,23.2 591.0,23.2 594.3,23.1 C597.6,23.0 601.5,23.0 605.0,22.9 C608.5,22.8 611.7,22.7 615.0,22.6 C618.3,22.5 621.7,22.3 625.0,22.2 C628.3,22.1 632.1,21.9 635.0,21.8 C637.9,21.7 641.3,21.6 642.6,21.5" stroke="#48267f" stroke-width="2.58" fill="none" stroke-linecap="round" stroke-linejoin="round"/>
<path d="M583.0,16.8 C583.7,17.3 585.8,19.1 587.0,19.8 C588.2,20.5 589.3,20.9 590.5,21.2 C591.7,21.5 593.0,21.4 594.3,21.4 C595.5,21.4 596.8,21.5 598.0,21.2 C599.2,20.9 600.3,20.3 601.5,19.6 C602.7,18.9 604.4,17.3 605.0,16.8" stroke="#48267f" stroke-width="2.24" fill="none" stroke-linecap="round" stroke-linejoin="round"/>
<path d="M545.0,15.8 C545.8,16.5 548.2,18.5 550.0,20.0 C551.8,21.5 553.6,23.2 556.0,24.6 C558.4,26.0 561.8,26.9 564.2,28.3 C566.7,29.7 568.5,31.3 570.7,32.8 C572.9,34.3 575.2,35.9 577.2,37.3 C579.2,38.7 580.9,40.0 582.7,41.0 C584.6,42.0 586.4,42.7 588.3,43.2 C590.2,43.7 592.4,43.8 594.3,43.8 C596.1,43.8 597.6,43.4 599.4,42.9 C601.2,42.4 603.0,41.6 605.0,40.8 C607.0,40.0 609.2,39.1 611.3,38.0 C613.4,36.9 615.7,35.3 617.7,34.0 C619.7,32.7 621.6,31.3 623.2,30.2 C624.8,29.1 626.0,28.2 627.5,27.4 C629.0,26.6 630.4,25.8 632.0,25.2 C633.6,24.6 635.2,24.0 637.0,23.6 C638.8,23.2 641.7,22.8 642.6,22.6" stroke="#48267f" stroke-width="2.46" fill="none" stroke-linecap="round" stroke-linejoin="round"/>
<path d="M537.3,19.2 C538.0,19.6 540.1,20.7 541.5,21.4 C542.9,22.1 544.1,22.7 545.6,23.6 C547.1,24.5 549.0,25.6 550.8,26.6 C552.5,27.7 554.6,28.8 556.1,29.9 C557.6,31.0 558.4,31.9 559.5,33.0 C560.6,34.1 561.6,35.3 562.8,36.5 C564.0,37.7 565.3,39.0 566.5,40.2 C567.7,41.4 568.7,42.4 569.9,43.5 C571.1,44.6 572.3,45.7 573.5,46.8 C574.7,47.9 576.2,49.0 577.3,49.9 C578.4,50.8 579.5,52.0 580.0,52.4" stroke="#3d6597" stroke-width="3.36" fill="none" stroke-linecap="round" stroke-linejoin="round"/>
<path d="M577.3,49.9 C577.8,50.3 579.0,51.5 580.0,52.4 C581.0,53.3 581.8,54.4 583.0,55.4 C584.2,56.4 585.7,57.5 587.0,58.2 C588.3,58.9 589.8,59.3 591.0,59.6 C592.2,59.9 593.0,60.0 594.3,59.9 C595.5,59.8 597.1,59.5 598.5,58.8 C599.9,58.1 601.2,57.1 602.5,55.8 C603.8,54.5 605.0,52.8 606.5,51.0 C608.0,49.2 609.4,47.3 611.3,45.0 C613.2,42.7 615.7,39.6 617.7,37.2 C619.7,34.8 621.5,32.6 623.2,30.8 C624.9,29.0 627.2,27.1 628.0,26.3" stroke="#48267f" stroke-width="2.91" fill="none" stroke-linecap="round" stroke-linejoin="round"/>
<path d="M623.2,30.8 C624.0,30.1 626.4,27.5 628.0,26.3 C629.6,25.1 631.0,24.4 632.7,23.8 C634.4,23.2 636.6,23.1 638.3,22.8 C639.9,22.5 641.9,22.2 642.6,22.1" stroke="#46337f" stroke-width="3.14" fill="none" stroke-linecap="round" stroke-linejoin="round"/>
<path d="M537.3,36.4 C538.2,36.1 540.9,35.3 542.9,34.4 C544.9,33.5 547.2,32.0 549.3,31.0 C551.4,30.0 553.8,29.1 555.6,28.4 C557.4,27.7 559.3,27.2 560.0,27.0" stroke="#3f5a8f" stroke-width="2.69" fill="none" stroke-linecap="round" stroke-linejoin="round"/>
<path d="M555.6,28.4 C556.7,28.1 559.6,26.9 562.0,26.4 C564.4,25.9 567.0,25.6 570.0,25.3 C573.0,25.0 576.0,24.9 580.0,24.8 C584.0,24.7 591.9,24.6 594.3,24.6" stroke="#48267f" stroke-width="2.46" fill="none" stroke-linecap="round" stroke-linejoin="round"/>
<path d="M537.3,21.3 C538.3,22.2 541.2,24.5 543.5,26.6 C545.8,28.7 548.7,31.7 550.8,34.0 C552.9,36.3 554.3,38.1 556.1,40.4 C557.9,42.7 559.9,45.5 561.4,47.7 C562.9,49.9 563.7,51.5 565.0,53.5 C566.3,55.5 567.7,57.6 569.3,59.6 C570.9,61.6 572.8,63.7 574.6,65.5 C576.4,67.3 578.1,68.9 580.0,70.3 C581.9,71.7 583.6,73.0 586.0,73.8 C588.4,74.6 592.0,75.1 594.3,75.3 C596.6,75.5 598.0,75.3 600.0,75.2 C602.0,75.1 603.3,75.2 606.1,74.8 C608.9,74.4 613.2,73.7 616.7,72.8 C620.2,71.9 624.1,70.4 627.3,69.4 C630.5,68.4 633.2,67.4 635.7,66.6 C638.2,65.8 641.5,64.8 642.6,64.5" stroke="#48267f" stroke-width="2.46" fill="none" stroke-linecap="round" stroke-linejoin="round"/>
<path d="M539.0,25.0 C540.1,26.1 543.6,29.5 545.6,31.9 C547.6,34.3 549.0,36.8 550.8,39.3 C552.5,41.8 554.5,44.2 556.1,46.7 C557.7,49.2 558.9,52.0 560.4,54.5 C561.9,57.0 563.4,59.3 565.0,61.5 C566.6,63.7 568.2,65.7 570.0,67.5 C571.8,69.3 573.5,71.1 576.0,72.5 C578.5,73.9 582.0,75.1 585.0,75.8 C588.0,76.5 591.5,76.9 594.3,76.8 C597.1,76.7 599.6,76.2 601.9,75.3 C604.2,74.4 606.3,73.0 608.2,71.2 C610.1,69.4 611.7,66.8 613.5,64.5 C615.3,62.2 616.9,60.1 618.8,57.7 C620.7,55.3 623.3,52.4 625.1,50.3 C626.9,48.2 628.1,46.5 629.4,45.0 C630.7,43.5 631.7,42.4 633.0,41.6 C634.3,40.8 635.4,40.5 637.0,40.3 C638.6,40.1 641.7,40.3 642.6,40.3" stroke="#48267f" stroke-width="2.35" fill="none" stroke-linecap="round" stroke-linejoin="round"/>
<path d="M537.3,41.6 C538.9,42.0 543.6,43.1 546.9,44.0 C550.2,44.9 553.9,46.2 557.2,47.1 C560.5,48.0 564.0,48.9 566.7,49.6 C569.4,50.4 571.5,50.9 573.5,51.6 C575.5,52.3 577.0,52.9 578.8,54.0 C580.6,55.1 582.3,56.6 584.1,58.0 C585.9,59.4 587.7,61.3 589.4,62.4 C591.1,63.5 592.4,64.6 594.3,64.6 C596.2,64.6 598.8,63.6 600.8,62.6 C602.8,61.6 604.3,60.2 606.1,58.7 C607.9,57.2 609.6,55.2 611.4,53.5 C613.2,51.8 615.1,49.8 616.7,48.3 C618.3,46.8 619.6,45.6 621.0,44.5 C622.4,43.4 623.7,42.3 625.0,41.5 C626.3,40.7 627.5,40.2 629.0,39.6 C630.5,39.0 632.6,38.5 634.3,38.0 C636.0,37.5 637.6,36.8 639.0,36.4 C640.4,36.0 642.0,35.7 642.6,35.6" stroke="#48267f" stroke-width="2.46" fill="none" stroke-linecap="round" stroke-linejoin="round"/>
<path d="M585.0,71.5 C585.8,71.8 588.5,72.7 590.0,73.0 C591.5,73.3 592.5,73.7 594.3,73.6 C596.1,73.5 598.8,73.3 600.8,72.6 C602.8,71.9 604.3,70.9 606.1,69.3 C607.9,67.7 609.6,65.1 611.4,63.0 C613.2,60.9 614.9,58.7 616.7,56.6 C618.5,54.5 620.4,52.1 622.0,50.3 C623.6,48.4 624.9,46.9 626.2,45.5 C627.5,44.1 628.4,42.8 630.0,42.0 C631.6,41.2 633.8,41.1 635.9,40.8 C638.0,40.5 641.5,40.4 642.6,40.3" stroke="#48267f" stroke-width="2.24" fill="none" stroke-linecap="round" stroke-linejoin="round"/>
<path d="M594.3,59.9 C595.2,59.6 598.0,58.8 599.8,58.2 C601.6,57.7 603.2,57.0 605.1,56.6 C607.0,56.2 609.1,56.1 611.4,56.1 C613.7,56.1 616.1,56.2 618.8,56.6 C621.4,57.0 624.5,57.8 627.3,58.7 C630.1,59.6 633.2,60.9 635.7,61.9 C638.2,62.9 641.5,64.1 642.6,64.5" stroke="#48267f" stroke-width="2.46" fill="none" stroke-linecap="round" stroke-linejoin="round"/>
<path d="M537.3,48.7 C538.2,48.7 541.0,48.5 542.9,48.8 C544.8,49.1 546.9,49.6 548.5,50.4 C550.1,51.2 550.9,52.3 552.4,53.5 C553.9,54.7 555.5,55.9 557.2,57.4 C558.9,58.9 560.9,60.6 562.7,62.2 C564.6,63.8 566.8,65.6 568.3,66.9 C569.8,68.2 570.0,68.7 571.4,70.0 C572.8,71.3 574.4,73.2 576.7,74.6 C579.0,76.0 582.2,77.6 585.1,78.6 C588.0,79.6 591.8,80.1 594.3,80.4 C596.8,80.7 598.2,80.4 600.0,80.2 C601.8,80.0 602.2,79.6 605.0,79.0 C607.8,78.4 613.0,77.6 616.7,76.5 C620.4,75.4 624.1,73.9 627.3,72.5 C630.5,71.1 633.2,69.4 635.7,68.2 C638.2,67.0 641.5,65.6 642.6,65.1" stroke="#48267f" stroke-width="3.14" fill="none" stroke-linecap="round" stroke-linejoin="round"/>
<path d="M537.3,46.8 C538.7,46.9 542.5,47.0 545.6,47.2 C548.7,47.4 552.9,47.3 556.1,47.8 C559.3,48.3 562.0,49.0 564.6,50.0 C567.2,51.0 569.8,52.2 572.0,53.5 C574.2,54.8 576.2,56.5 578.0,58.0 C579.8,59.5 581.3,61.2 583.0,62.5 C584.7,63.8 586.1,65.0 588.0,65.8 C589.9,66.6 592.5,67.1 594.3,67.2 C596.1,67.3 597.5,67.0 599.0,66.4 C600.5,65.8 601.7,65.0 603.0,63.8 C604.3,62.6 605.6,61.1 607.0,59.5 C608.4,57.9 610.7,54.9 611.4,54.0" stroke="#48267f" stroke-width="2.24" fill="none" stroke-linecap="round" stroke-linejoin="round"/>
<path d="M537.3,50.6 C538.8,50.9 543.2,51.6 546.0,52.6 C548.8,53.6 551.3,54.8 554.0,56.6 C556.7,58.4 559.3,61.0 562.0,63.5 C564.7,66.0 567.3,68.9 570.0,71.4 C572.7,73.9 575.3,76.4 578.0,78.3 C580.7,80.2 583.3,81.6 586.0,82.6 C588.7,83.6 591.6,84.2 594.3,84.3 C597.0,84.4 599.4,83.8 602.0,83.2 C604.6,82.7 607.0,82.0 610.0,81.0 C613.0,80.0 616.7,79.0 620.0,77.5 C623.3,76.0 626.2,74.2 630.0,72.2 C633.8,70.2 640.5,66.4 642.6,65.2" stroke="#48267f" stroke-width="2.35" fill="none" stroke-linecap="round" stroke-linejoin="round"/>
<path d="M612.0,24.3 C613.5,24.7 618.0,26.2 620.8,26.9 C623.6,27.6 626.1,28.1 628.8,28.6 C631.4,29.1 634.8,29.4 636.7,29.8 C638.6,30.2 639.0,30.4 640.0,31.0 C641.0,31.6 642.2,32.8 642.6,33.2" stroke="#48267f" stroke-width="2.24" fill="none" stroke-linecap="round" stroke-linejoin="round"/>
<path d="M582.5,75.5 C583.2,75.3 585.6,74.5 587.0,74.2 C588.4,73.9 589.8,73.7 591.0,73.6 C592.2,73.5 593.2,73.5 594.3,73.5 C595.4,73.5 596.4,73.5 597.5,73.7 C598.6,73.9 600.4,74.3 601.0,74.4" stroke="#3f6596" stroke-width="2.24" fill="none" stroke-linecap="round" stroke-linejoin="round"/>
<path d="M583.0,76.5 C583.8,76.7 586.2,77.5 587.5,77.8 C588.8,78.1 589.9,78.3 591.0,78.5 C592.1,78.7 593.2,78.7 594.3,78.7 C595.4,78.7 596.4,78.6 597.5,78.4 C598.6,78.2 600.4,77.6 601.0,77.4" stroke="#3f6596" stroke-width="2.24" fill="none" stroke-linecap="round" stroke-linejoin="round"/>
<path d="M586.0,76.0 C587.4,76.0 592.0,76.1 594.3,76.1 C596.6,76.1 599.0,75.9 600.0,75.9" stroke="#4a78a0" stroke-width="2.46" fill="none" stroke-linecap="round" stroke-linejoin="round"/>
<path d="M594.3,98.5 C593.1,99.1 590.0,100.6 587.0,101.9 C584.0,103.2 580.0,104.5 576.5,106.1 C573.0,107.7 569.4,108.8 565.9,111.5 C562.4,114.2 558.6,118.3 555.4,122.0 C552.2,125.7 549.8,129.2 546.9,133.6 C544.0,138.0 540.0,145.2 538.0,148.4 C536.0,151.6 535.5,152.2 535.0,153.0" stroke="#bade28" stroke-width="2.30" fill="none" stroke-linecap="round" stroke-linejoin="round"/>
<path d="M594.3,98.5 C595.9,99.1 600.6,100.6 604.0,101.9 C607.4,103.2 611.0,103.6 614.5,106.1 C618.0,108.6 621.6,112.1 625.1,116.7 C628.6,121.3 632.7,128.7 635.6,133.6 C638.5,138.5 641.0,143.6 642.6,146.3 C644.2,149.0 644.6,149.4 645.0,150.0" stroke="#bade28" stroke-width="2.30" fill="none" stroke-linecap="round" stroke-linejoin="round"/>
<path d="M594.3,98.2 C593.8,98.6 592.1,99.6 591.0,100.6 C589.9,101.6 589.1,102.5 587.8,104.2 C586.5,105.9 584.5,108.8 583.0,111.0 C581.5,113.2 579.6,116.2 578.9,117.2" stroke="#35b779" stroke-width="2.90" fill="none" stroke-linecap="round" stroke-linejoin="round"/>
<path d="M578.9,117.2 C578.2,118.6 575.9,122.7 574.5,125.5 C573.1,128.3 571.9,131.1 570.6,133.8 C569.3,136.5 567.9,139.0 566.5,141.5 C565.1,144.0 563.7,146.4 562.4,148.7 C561.1,151.0 559.9,153.0 558.8,155.5 C557.7,158.0 556.5,162.0 555.9,163.9 C555.3,165.8 555.1,166.5 555.0,167.0" stroke="#5ac864" stroke-width="2.90" fill="none" stroke-linecap="round" stroke-linejoin="round"/>
<path d="M594.3,98.2 C594.8,98.6 596.6,99.6 597.6,100.6 C598.6,101.6 599.2,102.6 600.4,104.2 C601.5,105.8 603.8,109.0 604.5,110.0" stroke="#45bf70" stroke-width="2.90" fill="none" stroke-linecap="round" stroke-linejoin="round"/>
<path d="M604.5,110.0 C605.5,111.2 607.8,113.5 610.6,117.2 C613.4,120.9 617.8,127.5 621.2,132.0 C624.6,136.6 628.2,141.0 631.2,144.5 C634.2,148.0 637.4,150.9 639.5,152.8 C641.6,154.7 643.2,155.5 644.0,156.0" stroke="#7ed34f" stroke-width="2.80" fill="none" stroke-linecap="round" stroke-linejoin="round"/>
<path d="M568.6,164.5 C569.1,162.9 570.5,158.4 571.5,155.0 C572.5,151.6 573.4,147.4 574.4,144.2 C575.4,140.9 576.5,138.3 577.5,135.5 C578.5,132.7 579.6,129.6 580.7,127.3 C581.8,125.0 582.9,123.5 584.0,122.0 C585.1,120.5 586.4,119.3 587.5,118.3 C588.6,117.3 589.7,116.7 590.8,116.2 C591.9,115.8 593.1,115.6 594.3,115.6 C595.5,115.6 596.7,115.8 597.8,116.2 C598.9,116.7 600.0,117.3 601.1,118.3 C602.2,119.3 603.5,120.5 604.6,122.0 C605.7,123.5 606.8,125.0 607.9,127.3 C609.0,129.6 610.0,132.7 611.1,135.5 C612.2,138.3 613.2,140.9 614.2,144.2 C615.2,147.4 616.2,151.6 617.0,155.0 C617.8,158.4 618.8,162.9 619.2,164.5" stroke="#a5db36" stroke-width="2.20" fill="none" stroke-linecap="round" stroke-linejoin="round"/>
<path d="M584.6,122.4 C585.2,122.0 586.9,120.6 588.0,120.0 C589.1,119.4 590.0,119.2 591.0,119.0 C592.0,118.8 593.2,118.8 594.3,118.8 C595.4,118.8 596.5,118.8 597.6,119.0 C598.7,119.2 599.5,119.4 600.6,120.0 C601.7,120.6 603.4,122.0 604.0,122.4" stroke="#a5db36" stroke-width="2.00" fill="none" stroke-linecap="round" stroke-linejoin="round"/>
<path d="M536.0,149.0 C536.3,149.2 536.9,149.6 538.0,150.5 C539.1,151.4 541.2,152.5 542.7,154.7 C544.2,156.9 546.2,162.3 546.9,163.8" stroke="#c8e020" stroke-width="2.10" fill="none" stroke-linecap="round" stroke-linejoin="round"/>
<path d="M623.0,164.5 C624.4,163.6 628.9,160.6 631.4,159.0 C633.9,157.4 636.1,156.1 638.0,155.0 C639.9,153.9 642.2,153.0 643.0,152.6" stroke="#b0dd2f" stroke-width="2.00" fill="none" stroke-linecap="round" stroke-linejoin="round"/>
<path d="M629.0,164.5 C629.8,163.8 632.4,161.2 634.0,160.0 C635.6,158.8 637.0,157.9 638.5,157.5 C640.0,157.1 642.2,157.5 643.0,157.5" stroke="#b0dd2f" stroke-width="1.80" fill="none" stroke-linecap="round" stroke-linejoin="round"/>
<path d="M592.5,97.9 C592.8,97.8 593.7,97.4 594.3,97.4 C594.9,97.4 595.8,97.8 596.1,97.9" stroke="#26a784" stroke-width="2.60" fill="none" stroke-linecap="round" stroke-linejoin="round"/>
</g>
<g clip-path="url(#cd0)">
<path d="M48.5,213.4 C48.8,213.4 49.6,213.4 50.4,213.4 C51.1,213.5 52.2,213.5 53.1,213.5 C54.0,213.5 54.9,213.6 55.8,213.6 C56.7,213.6 57.4,213.7 58.3,213.7 C59.1,213.8 60.0,213.8 60.8,213.9 C61.7,213.9 62.5,213.9 63.3,214.0 C64.2,214.1 65.0,214.1 65.8,214.2 C66.6,214.2 67.4,214.3 68.2,214.3 C69.0,214.4 69.8,214.4 70.6,214.5 C71.4,214.6 72.2,214.6 73.0,214.7 C73.7,214.7 74.5,214.8 75.3,214.8 C76.0,214.9 76.8,215.0 77.5,215.0 C78.3,215.0 78.9,215.1 79.6,215.1 C80.4,215.2 81.0,215.2 81.7,215.3 C82.5,215.3 83.3,215.4 84.1,215.4 C85.0,215.4 86.1,215.5 87.1,215.6 C88.2,215.6 89.3,215.7 90.4,215.7 C91.5,215.8 92.6,215.8 93.6,215.9 C94.6,216.0 95.6,216.0 96.5,216.1 C97.5,216.1 98.4,216.2 99.4,216.2 C100.4,216.2 101.3,216.3 102.4,216.3 C103.5,216.3 104.6,216.3 105.8,216.3 C106.9,216.3 108.1,216.3 109.3,216.3 C110.5,216.3 111.6,216.3 112.7,216.3 C113.9,216.3 114.9,216.3 116.0,216.3 C117.1,216.2 118.1,216.2 119.2,216.2 C120.3,216.2 121.3,216.1 122.4,216.1 C123.5,216.1 124.6,216.0 125.6,216.0 C126.7,215.9 127.8,215.9 128.9,215.8 C129.9,215.8 131.0,215.7 132.1,215.7 C133.2,215.7 134.3,215.6 135.4,215.6 C136.5,215.5 137.6,215.5 138.7,215.4 C139.8,215.4 140.8,215.3 141.8,215.3 C142.7,215.3 143.7,215.2 144.6,215.2 C145.6,215.1 146.5,215.0 147.3,215.0 C148.0,215.0 148.8,214.9 149.1,214.9" stroke="#000" stroke-width="1.90" fill="none" stroke-linecap="round" stroke-linejoin="round"/>
<path d="M63.3,220.4 C63.6,220.4 64.1,220.3 64.6,220.3 C65.1,220.2 65.9,220.1 66.4,220.1 C67.0,220.0 67.6,219.9 68.1,219.9 C68.5,219.9 68.8,219.8 69.1,219.8 C69.5,219.8 69.7,219.8 70.0,219.8 C70.4,219.8 70.7,219.7 71.2,219.7 C71.6,219.7 72.2,219.6 72.8,219.6 C73.3,219.5 74.0,219.5 74.6,219.4 C75.3,219.4 76.0,219.4 76.7,219.3 C77.4,219.2 78.2,219.2 78.9,219.1 C79.7,219.1 80.6,219.0 81.4,219.0 C82.3,218.9 83.2,218.9 84.1,218.8 C85.1,218.7 86.1,218.7 87.2,218.7 C88.2,218.6 89.4,218.6 90.4,218.5 C91.5,218.5 92.6,218.4 93.6,218.4 C94.6,218.4 95.6,218.3 96.5,218.3 C97.5,218.3 98.4,218.3 99.4,218.3 C100.4,218.2 101.3,218.2 102.4,218.2 C103.5,218.2 104.6,218.2 105.8,218.1 C106.9,218.1 108.1,218.1 109.3,218.1 C110.5,218.1 111.6,218.0 112.7,218.0 C113.9,218.0 114.9,217.9 116.0,217.9 C117.1,217.9 118.1,217.8 119.2,217.8 C120.3,217.8 121.3,217.7 122.4,217.7 C123.5,217.7 124.6,217.6 125.6,217.6 C126.7,217.5 127.8,217.5 128.9,217.4 C129.9,217.4 131.0,217.3 132.1,217.3 C133.2,217.3 134.3,217.2 135.4,217.2 C136.5,217.1 137.6,217.1 138.7,217.0 C139.8,217.0 140.8,216.9 141.8,216.9 C142.7,216.9 143.7,216.8 144.6,216.8 C145.6,216.7 146.5,216.7 147.3,216.7 C148.0,216.6 148.8,216.6 149.1,216.6" stroke="#000" stroke-width="1.90" fill="none" stroke-linecap="round" stroke-linejoin="round"/>
<path d="M91.7,211.9 C91.9,212.0 92.3,212.4 92.7,212.7 C93.1,213.1 93.7,213.5 94.1,213.9 C94.6,214.3 95.1,214.6 95.5,214.9 C95.9,215.2 96.3,215.3 96.6,215.5 C97.0,215.7 97.3,215.9 97.7,216.0 C98.1,216.1 98.4,216.2 98.8,216.3 C99.2,216.4 99.6,216.4 100.0,216.5 C100.4,216.5 100.8,216.5 101.2,216.5 C101.6,216.5 102.0,216.5 102.4,216.5 C102.8,216.5 103.2,216.5 103.6,216.5 C104.0,216.5 104.4,216.5 104.8,216.5 C105.2,216.4 105.6,216.4 106.0,216.3 C106.4,216.2 106.7,216.1 107.1,215.9 C107.5,215.8 107.9,215.6 108.2,215.4 C108.6,215.2 109.0,215.0 109.4,214.7 C109.8,214.4 110.2,214.1 110.6,213.8 C111.0,213.4 111.5,213.0 111.9,212.7 C112.2,212.4 112.6,212.0 112.7,211.9" stroke="#000" stroke-width="1.90" fill="none" stroke-linecap="round" stroke-linejoin="round"/>
<path d="M55.8,210.9 C56.0,211.1 56.5,211.5 57.0,212.0 C57.5,212.4 58.1,213.0 58.7,213.5 C59.3,214.0 59.9,214.6 60.5,215.1 C61.1,215.6 61.7,216.1 62.3,216.6 C62.9,217.2 63.4,217.7 64.1,218.2 C64.8,218.7 65.4,219.2 66.2,219.7 C66.9,220.2 67.8,220.6 68.7,221.0 C69.5,221.4 70.5,221.7 71.4,222.1 C72.3,222.5 73.1,223.0 73.9,223.4 C74.7,223.8 75.4,224.3 76.1,224.8 C76.8,225.3 77.4,225.9 78.1,226.4 C78.8,226.9 79.4,227.4 80.1,227.9 C80.8,228.4 81.5,228.9 82.2,229.4 C82.9,229.9 83.6,230.5 84.2,231.0 C84.9,231.5 85.6,231.9 86.2,232.4 C86.9,232.9 87.4,233.3 88.0,233.7 C88.6,234.2 89.2,234.6 89.7,235.0 C90.3,235.4 90.9,235.8 91.4,236.1 C92.0,236.4 92.6,236.7 93.2,237.0 C93.8,237.3 94.3,237.5 94.9,237.7 C95.5,238.0 96.1,238.1 96.7,238.3 C97.3,238.5 98.0,238.6 98.6,238.7 C99.3,238.8 99.9,238.8 100.6,238.9 C101.2,238.9 101.8,238.9 102.4,238.9 C103.0,238.9 103.5,238.8 104.1,238.8 C104.6,238.7 105.1,238.6 105.7,238.4 C106.2,238.3 106.8,238.2 107.3,238.0 C107.9,237.8 108.5,237.6 109.1,237.4 C109.7,237.2 110.3,236.9 110.9,236.7 C111.5,236.4 112.1,236.2 112.7,235.9 C113.4,235.6 114.0,235.4 114.7,235.1 C115.4,234.8 116.1,234.5 116.8,234.1 C117.5,233.8 118.1,233.5 118.8,233.1 C119.5,232.7 120.2,232.3 120.9,231.8 C121.6,231.4 122.3,230.9 123.0,230.5 C123.7,230.0 124.4,229.5 125.0,229.1 C125.7,228.7 126.3,228.2 126.9,227.8 C127.5,227.3 128.1,226.9 128.7,226.5 C129.3,226.1 129.8,225.7 130.3,225.3 C130.9,224.9 131.3,224.6 131.8,224.3 C132.3,223.9 132.7,223.6 133.1,223.4 C133.6,223.1 134.0,222.8 134.5,222.5 C135.0,222.2 135.4,222.0 135.9,221.7 C136.4,221.4 136.9,221.2 137.4,221.0 C137.8,220.7 138.3,220.5 138.9,220.3 C139.4,220.1 139.9,219.9 140.4,219.7 C140.9,219.5 141.5,219.3 142.0,219.2 C142.6,219.0 143.1,218.8 143.7,218.7 C144.3,218.6 145.0,218.4 145.6,218.3 C146.3,218.2 147.1,218.0 147.7,217.9 C148.3,217.8 148.9,217.7 149.1,217.7" stroke="#000" stroke-width="1.90" fill="none" stroke-linecap="round" stroke-linejoin="round"/>
<path d="M48.5,214.3 C48.7,214.4 49.1,214.6 49.5,214.9 C50.0,215.1 50.5,215.4 51.0,215.7 C51.5,216.0 52.0,216.2 52.5,216.5 C52.9,216.8 53.3,217.0 53.7,217.2 C54.2,217.4 54.5,217.7 55.0,217.9 C55.4,218.2 55.9,218.4 56.3,218.7 C56.8,219.0 57.4,219.3 57.9,219.6 C58.4,220.0 59.0,220.3 59.6,220.6 C60.1,221.0 60.7,221.3 61.3,221.7 C61.8,222.1 62.4,222.4 63.0,222.8 C63.6,223.2 64.2,223.5 64.7,223.9 C65.3,224.3 65.8,224.6 66.3,225.0 C66.7,225.4 67.1,225.7 67.5,226.0 C67.9,226.4 68.2,226.7 68.5,227.0 C68.8,227.4 69.2,227.7 69.5,228.1 C69.8,228.5 70.2,228.8 70.5,229.2 C70.9,229.6 71.2,230.0 71.5,230.4 C71.9,230.8 72.2,231.2 72.6,231.6 C73.0,232.0 73.4,232.4 73.8,232.8 C74.1,233.2 74.6,233.7 75.0,234.1 C75.3,234.5 75.7,234.9 76.1,235.3 C76.5,235.7 76.8,236.1 77.2,236.4 C77.6,236.8 77.9,237.2 78.2,237.5 C78.6,237.9 79.0,238.2 79.3,238.6 C79.7,239.0 80.1,239.3 80.4,239.7 C80.8,240.1 81.2,240.4 81.6,240.8 C82.0,241.2 82.3,241.5 82.7,241.9 C83.1,242.3 83.5,242.6 83.9,243.0 C84.4,243.3 84.8,243.7 85.2,244.0 C85.6,244.4 86.0,244.7 86.3,245.0 C86.7,245.3 87.0,245.7 87.3,246.0 C87.7,246.3 88.0,246.6 88.3,246.9 C88.5,247.1 88.8,247.4 88.9,247.5" stroke="#000" stroke-width="1.90" fill="none" stroke-linecap="round" stroke-linejoin="round"/>
<path d="M86.3,245.0 C86.4,245.1 86.7,245.4 87.0,245.6 C87.2,245.9 87.6,246.2 87.9,246.5 C88.2,246.8 88.6,247.2 88.9,247.5 C89.2,247.8 89.5,248.1 89.8,248.5 C90.1,248.8 90.4,249.2 90.7,249.5 C91.0,249.8 91.3,250.2 91.7,250.5 C92.1,250.8 92.5,251.2 92.9,251.5 C93.3,251.8 93.8,252.2 94.2,252.5 C94.6,252.8 95.1,253.1 95.5,253.3 C95.9,253.5 96.3,253.7 96.8,253.9 C97.2,254.1 97.6,254.2 98.1,254.4 C98.5,254.5 98.9,254.6 99.3,254.7 C99.7,254.8 100.0,254.9 100.3,254.9 C100.7,255.0 101.0,255.0 101.3,255.0 C101.7,255.1 102.0,255.0 102.4,255.0 C102.8,255.0 103.2,254.9 103.7,254.8 C104.1,254.7 104.6,254.6 105.1,254.5 C105.5,254.3 106.0,254.1 106.5,253.9 C106.9,253.7 107.3,253.4 107.8,253.1 C108.2,252.8 108.6,252.5 109.0,252.1 C109.5,251.7 109.9,251.3 110.3,250.9 C110.7,250.5 111.2,250.0 111.6,249.5 C112.0,249.0 112.4,248.4 112.8,247.9 C113.3,247.3 113.7,246.7 114.2,246.1 C114.7,245.5 115.1,244.9 115.6,244.3 C116.1,243.6 116.6,243.0 117.1,242.3 C117.7,241.6 118.2,240.9 118.8,240.1 C119.4,239.3 120.1,238.5 120.8,237.6 C121.5,236.7 122.3,235.7 123.0,234.9 C123.7,234.0 124.4,233.1 125.0,232.3 C125.7,231.5 126.3,230.7 126.9,230.0 C127.5,229.2 128.1,228.5 128.7,227.8 C129.2,227.2 129.8,226.5 130.3,225.9 C130.9,225.3 131.5,224.7 132.1,224.1 C132.7,223.5 133.3,222.9 133.8,222.5 C134.3,222.0 134.8,221.6 135.0,221.4" stroke="#000" stroke-width="1.90" fill="none" stroke-linecap="round" stroke-linejoin="round"/>
<path d="M130.3,225.9 C130.5,225.7 131.1,225.2 131.5,224.7 C132.0,224.2 132.7,223.5 133.3,222.9 C133.8,222.4 134.4,221.8 135.0,221.4 C135.5,221.0 136.0,220.7 136.5,220.4 C137.0,220.1 137.4,219.8 138.0,219.5 C138.5,219.3 139.0,219.1 139.5,218.9 C140.1,218.7 140.7,218.6 141.3,218.4 C141.9,218.3 142.6,218.2 143.2,218.2 C143.8,218.1 144.4,218.0 144.9,217.9 C145.5,217.8 146.1,217.7 146.6,217.6 C147.1,217.5 147.6,217.4 148.1,217.4 C148.5,217.3 148.9,217.2 149.1,217.2" stroke="#000" stroke-width="1.90" fill="none" stroke-linecap="round" stroke-linejoin="round"/>
<path d="M48.5,231.5 C48.7,231.4 49.3,231.2 49.8,231.0 C50.4,230.8 51.1,230.6 51.8,230.3 C52.4,230.1 53.1,229.8 53.8,229.5 C54.5,229.2 55.1,228.8 55.8,228.4 C56.4,228.1 57.1,227.6 57.8,227.2 C58.5,226.8 59.2,226.4 59.8,226.1 C60.5,225.8 61.2,225.4 61.9,225.1 C62.6,224.8 63.3,224.5 64.0,224.2 C64.6,224.0 65.2,223.7 65.8,223.5 C66.4,223.3 67.0,223.1 67.5,222.9 C68.0,222.7 68.5,222.6 69.0,222.4 C69.4,222.3 69.8,222.2 70.0,222.1" stroke="#000" stroke-width="1.90" fill="none" stroke-linecap="round" stroke-linejoin="round"/>
<path d="M65.8,223.5 C66.1,223.4 66.7,223.2 67.3,222.9 C67.9,222.7 68.7,222.4 69.5,222.2 C70.3,221.9 71.1,221.7 71.9,221.5 C72.6,221.3 73.4,221.2 74.2,221.0 C75.0,220.9 75.8,220.8 76.7,220.7 C77.6,220.6 78.5,220.5 79.4,220.4 C80.3,220.3 81.3,220.2 82.3,220.2 C83.3,220.1 84.3,220.1 85.4,220.0 C86.4,220.0 87.5,219.9 88.9,219.9 C90.2,219.9 91.9,219.8 93.6,219.8 C95.2,219.8 97.3,219.8 98.7,219.7 C100.2,219.7 101.8,219.7 102.4,219.7" stroke="#000" stroke-width="1.90" fill="none" stroke-linecap="round" stroke-linejoin="round"/>
<path d="M48.5,216.4 C48.7,216.6 49.4,217.2 50.0,217.7 C50.6,218.2 51.4,218.9 52.1,219.6 C52.8,220.2 53.6,221.0 54.4,221.7 C55.1,222.4 55.9,223.2 56.7,224.0 C57.4,224.9 58.3,225.8 59.1,226.6 C59.8,227.5 60.6,228.3 61.3,229.1 C61.9,229.9 62.5,230.6 63.1,231.3 C63.6,232.0 64.1,232.6 64.7,233.3 C65.2,234.0 65.7,234.7 66.3,235.5 C66.8,236.3 67.4,237.1 68.0,237.9 C68.6,238.7 69.2,239.6 69.7,240.4 C70.3,241.3 70.8,242.1 71.3,242.8 C71.8,243.5 72.1,244.2 72.5,244.8 C72.9,245.5 73.2,246.1 73.6,246.7 C73.9,247.3 74.3,247.9 74.7,248.6 C75.1,249.3 75.5,249.9 76.0,250.6 C76.4,251.3 76.8,252.0 77.3,252.7 C77.8,253.4 78.2,254.0 78.8,254.7 C79.3,255.4 79.8,256.1 80.4,256.7 C80.9,257.4 81.5,258.1 82.1,258.7 C82.6,259.4 83.2,260.0 83.8,260.6 C84.3,261.2 84.9,261.8 85.4,262.3 C86.0,262.9 86.6,263.4 87.1,263.9 C87.7,264.4 88.3,264.9 88.9,265.4 C89.5,265.9 90.0,266.3 90.6,266.7 C91.2,267.2 91.8,267.6 92.5,267.9 C93.1,268.3 93.8,268.6 94.5,268.9 C95.3,269.2 96.2,269.4 97.1,269.6 C98.0,269.8 99.0,270.0 99.9,270.1 C100.8,270.2 101.6,270.3 102.4,270.4 C103.2,270.5 103.8,270.5 104.4,270.5 C105.0,270.5 105.6,270.4 106.1,270.4 C106.7,270.4 107.3,270.3 107.9,270.3 C108.5,270.3 109.1,270.3 109.7,270.2 C110.3,270.2 110.8,270.2 111.5,270.2 C112.2,270.1 112.9,270.0 113.8,269.9 C114.7,269.8 115.8,269.6 116.9,269.4 C118.0,269.2 119.3,269.0 120.5,268.7 C121.7,268.5 122.9,268.2 124.1,267.9 C125.2,267.6 126.4,267.2 127.6,266.8 C128.7,266.5 129.9,266.0 131.0,265.6 C132.2,265.2 133.3,264.9 134.3,264.5 C135.3,264.1 136.3,263.8 137.2,263.5 C138.2,263.2 139.0,262.9 139.9,262.6 C140.8,262.3 141.6,262.0 142.4,261.7 C143.3,261.4 144.2,261.1 145.0,260.9 C145.8,260.6 146.7,260.3 147.4,260.1 C148.1,259.9 148.8,259.7 149.1,259.6" stroke="#000" stroke-width="1.90" fill="none" stroke-linecap="round" stroke-linejoin="round"/>
<path d="M50.1,220.1 C50.4,220.4 51.1,221.2 51.8,221.9 C52.4,222.6 53.4,223.6 54.1,224.4 C54.9,225.3 55.7,226.2 56.3,227.0 C57.0,227.8 57.5,228.6 58.1,229.4 C58.6,230.2 59.1,231.1 59.7,231.9 C60.2,232.7 60.7,233.6 61.3,234.4 C61.8,235.2 62.4,236.0 63.0,236.9 C63.5,237.7 64.1,238.5 64.7,239.3 C65.2,240.1 65.8,241.0 66.3,241.8 C66.8,242.6 67.2,243.5 67.7,244.4 C68.1,245.3 68.6,246.2 69.0,247.0 C69.4,247.9 69.9,248.8 70.3,249.6 C70.8,250.4 71.3,251.2 71.8,252.0 C72.2,252.8 72.7,253.6 73.2,254.4 C73.7,255.1 74.2,255.9 74.7,256.6 C75.2,257.3 75.7,258.0 76.2,258.7 C76.7,259.4 77.2,260.1 77.8,260.7 C78.3,261.4 78.9,262.0 79.4,262.6 C80.0,263.2 80.5,263.8 81.1,264.4 C81.7,265.0 82.3,265.6 83.0,266.1 C83.6,266.6 84.3,267.1 85.1,267.6 C85.9,268.1 86.8,268.5 87.7,268.9 C88.6,269.3 89.7,269.7 90.6,270.0 C91.6,270.4 92.6,270.7 93.6,270.9 C94.6,271.1 95.6,271.3 96.6,271.5 C97.6,271.7 98.6,271.8 99.6,271.8 C100.5,271.9 101.5,271.9 102.4,271.9 C103.3,271.9 104.2,271.8 105.0,271.7 C105.9,271.6 106.7,271.4 107.4,271.2 C108.2,271.0 109.0,270.7 109.7,270.4 C110.5,270.1 111.2,269.7 111.9,269.3 C112.6,268.9 113.3,268.5 113.9,268.0 C114.6,267.5 115.2,266.9 115.8,266.3 C116.5,265.7 117.0,265.0 117.6,264.3 C118.2,263.5 118.7,262.7 119.3,261.9 C119.8,261.2 120.4,260.4 121.0,259.6 C121.5,258.8 122.1,258.1 122.6,257.4 C123.2,256.6 123.7,255.9 124.3,255.1 C124.9,254.4 125.5,253.6 126.1,252.8 C126.7,252.0 127.4,251.1 128.1,250.3 C128.8,249.5 129.6,248.6 130.3,247.7 C130.9,246.9 131.6,246.1 132.2,245.4 C132.8,244.7 133.3,244.0 133.7,243.4 C134.2,242.8 134.6,242.2 135.1,241.6 C135.5,241.1 135.9,240.6 136.3,240.1 C136.7,239.6 137.1,239.2 137.5,238.7 C137.9,238.3 138.3,237.9 138.7,237.6 C139.0,237.3 139.4,237.0 139.8,236.7 C140.2,236.4 140.6,236.2 141.0,236.1 C141.4,235.9 141.8,235.8 142.3,235.7 C142.7,235.5 143.1,235.5 143.7,235.4 C144.2,235.3 144.9,235.3 145.6,235.3 C146.2,235.3 147.1,235.3 147.6,235.4 C148.2,235.4 148.9,235.4 149.1,235.4" stroke="#000" stroke-width="1.90" fill="none" stroke-linecap="round" stroke-linejoin="round"/>
<path d="M48.5,236.7 C48.9,236.8 49.9,237.1 50.8,237.3 C51.8,237.5 53.0,237.9 54.2,238.2 C55.3,238.5 56.5,238.8 57.6,239.1 C58.7,239.4 59.7,239.8 60.8,240.1 C61.9,240.5 63.0,240.8 64.1,241.2 C65.2,241.5 66.3,241.9 67.3,242.2 C68.4,242.5 69.4,242.8 70.5,243.1 C71.5,243.4 72.5,243.7 73.5,243.9 C74.5,244.2 75.4,244.5 76.3,244.7 C77.2,244.9 77.9,245.2 78.7,245.4 C79.4,245.6 80.1,245.8 80.8,246.0 C81.5,246.2 82.1,246.5 82.7,246.7 C83.3,246.9 83.9,247.2 84.5,247.4 C85.1,247.7 85.6,247.9 86.1,248.2 C86.7,248.4 87.2,248.7 87.7,249.1 C88.3,249.5 88.9,249.9 89.4,250.3 C90.0,250.7 90.5,251.2 91.1,251.7 C91.6,252.1 92.2,252.6 92.8,253.1 C93.3,253.6 93.9,254.1 94.4,254.6 C95.0,255.1 95.6,255.7 96.1,256.2 C96.7,256.7 97.2,257.1 97.8,257.5 C98.3,257.9 98.8,258.2 99.3,258.6 C99.8,258.9 100.2,259.2 100.8,259.4 C101.3,259.6 101.8,259.7 102.4,259.7 C103.0,259.7 103.7,259.6 104.4,259.4 C105.1,259.2 105.9,258.9 106.6,258.7 C107.3,258.4 108.0,258.0 108.7,257.7 C109.3,257.4 109.9,257.0 110.5,256.6 C111.1,256.2 111.6,255.7 112.1,255.3 C112.7,254.8 113.2,254.3 113.8,253.8 C114.4,253.3 114.9,252.7 115.5,252.2 C116.1,251.6 116.7,251.0 117.2,250.4 C117.8,249.8 118.4,249.2 118.9,248.6 C119.5,248.0 120.1,247.4 120.7,246.8 C121.3,246.2 121.9,245.6 122.4,245.0 C123.0,244.5 123.5,243.9 124.1,243.4 C124.6,242.9 125.1,242.4 125.5,242.0 C126.0,241.6 126.4,241.2 126.9,240.8 C127.3,240.4 127.8,240.0 128.2,239.6 C128.7,239.2 129.1,238.9 129.5,238.5 C130.0,238.1 130.4,237.8 130.8,237.5 C131.2,237.2 131.7,236.9 132.1,236.6 C132.5,236.3 132.9,236.1 133.3,235.9 C133.7,235.7 134.1,235.5 134.6,235.3 C135.0,235.1 135.4,234.9 135.9,234.7 C136.5,234.5 137.0,234.3 137.6,234.1 C138.2,234.0 138.8,233.8 139.4,233.6 C139.9,233.4 140.5,233.3 141.1,233.1 C141.6,232.9 142.1,232.7 142.7,232.5 C143.2,232.3 143.7,232.1 144.2,232.0 C144.7,231.8 145.2,231.6 145.6,231.5 C146.1,231.4 146.6,231.2 147.0,231.1 C147.4,231.0 147.9,231.0 148.2,230.9 C148.6,230.8 149.0,230.7 149.1,230.7" stroke="#000" stroke-width="1.90" fill="none" stroke-linecap="round" stroke-linejoin="round"/>
<path d="M93.6,266.6 C93.8,266.7 94.3,266.9 94.9,267.0 C95.4,267.2 96.0,267.4 96.6,267.6 C97.2,267.8 97.8,268.0 98.3,268.1 C98.8,268.2 99.2,268.3 99.7,268.4 C100.1,268.5 100.5,268.6 100.9,268.7 C101.4,268.7 101.8,268.7 102.4,268.7 C103.0,268.7 103.7,268.6 104.4,268.6 C105.1,268.5 105.9,268.4 106.6,268.3 C107.3,268.1 108.0,267.9 108.7,267.7 C109.3,267.5 109.9,267.2 110.5,266.9 C111.1,266.6 111.6,266.2 112.1,265.8 C112.7,265.4 113.2,264.9 113.8,264.4 C114.4,263.9 114.9,263.2 115.5,262.5 C116.1,261.8 116.7,261.1 117.2,260.3 C117.8,259.6 118.4,258.8 118.9,258.1 C119.5,257.4 120.1,256.7 120.6,256.0 C121.2,255.3 121.8,254.5 122.3,253.8 C122.9,253.1 123.5,252.4 124.1,251.7 C124.6,251.0 125.2,250.3 125.8,249.5 C126.4,248.8 127.0,248.1 127.6,247.4 C128.1,246.7 128.7,246.0 129.2,245.4 C129.7,244.8 130.2,244.2 130.6,243.6 C131.1,243.1 131.5,242.6 132.0,242.0 C132.4,241.5 132.8,241.1 133.2,240.6 C133.7,240.1 134.0,239.7 134.4,239.3 C134.8,238.8 135.1,238.4 135.6,238.0 C136.0,237.7 136.4,237.4 136.9,237.1 C137.4,236.8 138.0,236.7 138.6,236.5 C139.3,236.3 139.9,236.3 140.6,236.2 C141.3,236.1 141.9,236.0 142.6,235.9 C143.4,235.8 144.2,235.7 145.0,235.7 C145.8,235.6 146.7,235.5 147.4,235.5 C148.1,235.5 148.8,235.4 149.1,235.4" stroke="#000" stroke-width="1.90" fill="none" stroke-linecap="round" stroke-linejoin="round"/>
<path d="M102.4,255.0 C102.6,254.9 103.2,254.7 103.8,254.6 C104.3,254.4 105.1,254.1 105.8,253.9 C106.4,253.7 107.1,253.5 107.7,253.3 C108.3,253.1 108.8,252.9 109.4,252.7 C110.0,252.5 110.5,252.3 111.1,252.1 C111.6,252.0 112.2,251.8 112.8,251.7 C113.5,251.6 114.1,251.5 114.8,251.4 C115.4,251.3 116.1,251.3 116.8,251.3 C117.5,251.2 118.2,251.2 118.9,251.2 C119.7,251.2 120.4,251.2 121.2,251.2 C122.0,251.3 122.8,251.3 123.6,251.4 C124.4,251.5 125.2,251.6 126.1,251.7 C126.9,251.8 127.8,252.0 128.8,252.2 C129.7,252.5 130.6,252.7 131.5,253.0 C132.5,253.2 133.4,253.5 134.3,253.8 C135.2,254.1 136.2,254.5 137.1,254.8 C138.0,255.2 138.9,255.6 139.8,255.9 C140.7,256.3 141.6,256.7 142.4,257.0 C143.3,257.3 144.2,257.7 145.0,258.0 C145.8,258.3 146.7,258.7 147.4,258.9 C148.1,259.2 148.8,259.5 149.1,259.6" stroke="#000" stroke-width="1.90" fill="none" stroke-linecap="round" stroke-linejoin="round"/>
<path d="M48.5,243.8 C48.7,243.8 49.3,243.8 49.9,243.8 C50.4,243.8 51.2,243.7 51.8,243.8 C52.5,243.8 53.2,243.8 53.8,243.9 C54.4,244.0 55.0,244.1 55.6,244.3 C56.2,244.4 56.9,244.6 57.4,244.8 C58.0,245.0 58.6,245.2 59.1,245.5 C59.6,245.8 60.0,246.1 60.4,246.4 C60.8,246.7 61.1,247.1 61.5,247.5 C61.9,247.8 62.3,248.2 62.8,248.6 C63.2,249.0 63.7,249.4 64.2,249.8 C64.7,250.2 65.2,250.7 65.7,251.1 C66.2,251.6 66.8,252.0 67.3,252.5 C67.9,253.0 68.4,253.5 69.0,254.0 C69.6,254.6 70.2,255.1 70.8,255.7 C71.3,256.2 71.9,256.8 72.5,257.3 C73.1,257.8 73.7,258.4 74.4,258.9 C75.0,259.5 75.6,260.0 76.2,260.6 C76.8,261.1 77.4,261.6 77.8,262.0 C78.3,262.4 78.6,262.8 78.9,263.1 C79.2,263.4 79.4,263.7 79.7,264.0 C80.0,264.3 80.3,264.7 80.7,265.1 C81.2,265.5 81.6,266.0 82.1,266.5 C82.7,267.1 83.2,267.6 83.8,268.2 C84.4,268.7 85.0,269.2 85.8,269.7 C86.5,270.2 87.3,270.7 88.2,271.2 C89.0,271.6 90.0,272.1 90.9,272.6 C91.8,273.0 92.7,273.4 93.7,273.7 C94.7,274.0 95.7,274.3 96.7,274.5 C97.7,274.8 98.8,275.0 99.7,275.1 C100.7,275.3 101.6,275.4 102.4,275.5 C103.2,275.6 103.9,275.6 104.5,275.6 C105.2,275.6 105.7,275.6 106.2,275.5 C106.8,275.5 107.4,275.4 107.9,275.3 C108.4,275.2 108.9,275.1 109.3,275.0 C109.8,274.9 110.1,274.8 110.7,274.6 C111.2,274.5 111.8,274.3 112.7,274.1 C113.6,273.9 114.8,273.7 116.1,273.4 C117.3,273.2 118.8,272.9 120.1,272.6 C121.5,272.3 122.8,272.0 124.1,271.6 C125.3,271.2 126.5,270.8 127.6,270.4 C128.8,270.0 130.0,269.5 131.1,269.0 C132.2,268.5 133.3,268.1 134.3,267.6 C135.3,267.1 136.3,266.6 137.2,266.1 C138.2,265.7 139.0,265.1 139.9,264.7 C140.8,264.2 141.6,263.7 142.4,263.3 C143.3,262.9 144.2,262.5 145.0,262.1 C145.8,261.7 146.7,261.3 147.4,261.0 C148.1,260.6 148.8,260.3 149.1,260.2" stroke="#000" stroke-width="1.90" fill="none" stroke-linecap="round" stroke-linejoin="round"/>
<path d="M48.5,241.9 C48.8,241.9 49.7,242.0 50.5,242.0 C51.3,242.0 52.3,242.1 53.3,242.1 C54.3,242.2 55.3,242.3 56.3,242.3 C57.4,242.3 58.5,242.4 59.6,242.4 C60.7,242.5 61.9,242.5 63.0,242.6 C64.1,242.7 65.3,242.8 66.3,242.9 C67.3,243.0 68.2,243.2 69.1,243.5 C70.1,243.7 70.9,243.9 71.8,244.2 C72.6,244.5 73.5,244.8 74.3,245.1 C75.1,245.4 76.0,245.8 76.8,246.1 C77.6,246.5 78.4,246.9 79.1,247.3 C79.9,247.7 80.6,248.1 81.3,248.6 C82.0,249.1 82.7,249.5 83.3,250.0 C84.0,250.5 84.6,251.1 85.2,251.6 C85.8,252.1 86.4,252.6 87.0,253.1 C87.6,253.6 88.1,254.1 88.6,254.6 C89.2,255.2 89.7,255.7 90.2,256.2 C90.7,256.7 91.2,257.2 91.7,257.6 C92.2,258.0 92.7,258.5 93.2,258.9 C93.8,259.3 94.2,259.6 94.8,260.0 C95.3,260.3 95.8,260.6 96.4,260.9 C97.0,261.2 97.7,261.4 98.4,261.6 C99.1,261.8 99.8,261.9 100.5,262.1 C101.1,262.2 101.8,262.3 102.4,262.3 C103.0,262.3 103.5,262.3 104.1,262.3 C104.6,262.2 105.1,262.1 105.5,262.0 C106.0,261.9 106.5,261.7 106.9,261.5 C107.4,261.3 107.8,261.1 108.3,260.8 C108.7,260.6 109.1,260.3 109.5,260.0 C110.0,259.6 110.4,259.3 110.8,258.9 C111.2,258.5 111.7,258.1 112.1,257.6 C112.5,257.2 112.9,256.7 113.4,256.2 C113.8,255.7 114.2,255.2 114.7,254.6 C115.2,254.0 115.7,253.3 116.2,252.7 C116.7,252.0 117.4,251.2 117.8,250.6 C118.3,250.0 118.7,249.3 118.9,249.1" stroke="#000" stroke-width="1.90" fill="none" stroke-linecap="round" stroke-linejoin="round"/>
<path d="M48.5,245.7 C48.9,245.8 49.8,246.0 50.7,246.1 C51.5,246.3 52.7,246.6 53.7,246.8 C54.7,247.1 55.8,247.4 56.7,247.7 C57.7,248.0 58.5,248.4 59.3,248.8 C60.1,249.2 61.0,249.6 61.8,250.1 C62.6,250.6 63.5,251.1 64.3,251.7 C65.1,252.3 66.0,253.0 66.8,253.7 C67.7,254.5 68.5,255.3 69.3,256.1 C70.2,256.9 71.0,257.8 71.9,258.6 C72.7,259.4 73.5,260.3 74.4,261.2 C75.2,262.1 76.1,263.0 76.9,263.9 C77.7,264.8 78.6,265.7 79.4,266.5 C80.3,267.3 81.1,268.2 81.9,269.0 C82.8,269.8 83.6,270.6 84.5,271.3 C85.3,272.1 86.1,272.8 87.0,273.4 C87.8,274.0 88.7,274.6 89.5,275.1 C90.3,275.6 91.2,276.1 92.0,276.6 C92.8,277.0 93.7,277.4 94.5,277.7 C95.4,278.0 96.3,278.3 97.2,278.6 C98.0,278.8 98.9,279.0 99.8,279.1 C100.7,279.3 101.5,279.4 102.4,279.4 C103.2,279.4 104.1,279.4 104.9,279.3 C105.7,279.2 106.5,279.0 107.4,278.9 C108.2,278.7 109.0,278.5 109.8,278.3 C110.7,278.1 111.5,277.9 112.3,277.7 C113.2,277.5 114.0,277.2 114.8,277.0 C115.7,276.7 116.6,276.4 117.6,276.1 C118.5,275.8 119.6,275.5 120.7,275.1 C121.7,274.7 122.9,274.4 124.0,273.9 C125.1,273.5 126.2,273.1 127.2,272.6 C128.3,272.1 129.3,271.6 130.4,271.0 C131.4,270.5 132.4,269.9 133.5,269.3 C134.6,268.6 135.6,268.0 136.9,267.3 C138.2,266.6 139.8,265.7 141.2,264.8 C142.7,264.0 144.5,262.9 145.8,262.2 C147.2,261.4 148.6,260.6 149.1,260.3" stroke="#000" stroke-width="1.90" fill="none" stroke-linecap="round" stroke-linejoin="round"/>
<path d="M119.5,219.4 C119.9,219.5 120.8,219.8 121.7,220.1 C122.6,220.4 123.9,220.8 124.9,221.1 C126.0,221.4 127.1,221.7 128.0,222.0 C129.0,222.3 129.8,222.5 130.7,222.7 C131.5,222.9 132.4,223.0 133.2,223.2 C134.1,223.4 134.9,223.5 135.8,223.7 C136.6,223.9 137.6,224.0 138.5,224.1 C139.4,224.3 140.4,224.4 141.2,224.5 C142.0,224.6 142.8,224.8 143.4,224.9 C144.0,225.0 144.4,225.1 144.8,225.3 C145.2,225.4 145.4,225.5 145.7,225.6 C146.0,225.8 146.3,225.9 146.6,226.1 C146.9,226.3 147.3,226.6 147.6,226.8 C147.9,227.1 148.2,227.4 148.5,227.7 C148.7,227.9 149.0,228.2 149.1,228.3" stroke="#000" stroke-width="1.90" fill="none" stroke-linecap="round" stroke-linejoin="round"/>
<path d="M91.2,270.6 C91.4,270.5 91.9,270.4 92.4,270.2 C92.8,270.1 93.4,269.9 94.0,269.7 C94.5,269.6 95.0,269.4 95.5,269.3 C96.0,269.2 96.4,269.1 96.8,269.0 C97.2,269.0 97.7,268.9 98.1,268.8 C98.5,268.8 98.9,268.7 99.3,268.7 C99.7,268.7 100.0,268.6 100.4,268.6 C100.7,268.6 101.0,268.6 101.4,268.6 C101.7,268.6 102.1,268.6 102.4,268.6 C102.7,268.6 103.1,268.6 103.4,268.6 C103.8,268.6 104.1,268.7 104.4,268.7 C104.8,268.7 105.1,268.7 105.5,268.8 C105.9,268.9 106.3,268.9 106.7,269.0 C107.1,269.1 107.6,269.2 108.0,269.3 C108.3,269.4 108.7,269.5 108.9,269.5" stroke="#000" stroke-width="1.90" fill="none" stroke-linecap="round" stroke-linejoin="round"/>
<path d="M91.7,271.6 C91.9,271.7 92.4,271.8 92.8,272.0 C93.3,272.1 93.9,272.3 94.5,272.5 C95.0,272.6 95.5,272.8 96.0,272.9 C96.4,273.0 96.8,273.1 97.1,273.2 C97.5,273.3 97.9,273.4 98.2,273.4 C98.6,273.5 98.9,273.6 99.3,273.6 C99.6,273.6 100.0,273.7 100.3,273.7 C100.7,273.8 101.0,273.8 101.4,273.8 C101.7,273.8 102.1,273.8 102.4,273.8 C102.7,273.8 103.1,273.8 103.4,273.8 C103.8,273.7 104.1,273.7 104.4,273.7 C104.8,273.6 105.1,273.6 105.5,273.5 C105.9,273.4 106.3,273.3 106.7,273.2 C107.1,273.1 107.6,272.9 108.0,272.8 C108.3,272.7 108.7,272.5 108.9,272.5" stroke="#000" stroke-width="1.90" fill="none" stroke-linecap="round" stroke-linejoin="round"/>
<path d="M46.0,349.0 C46.4,348.4 47.5,347.2 48.5,345.4 C49.5,343.6 50.5,340.6 52.0,338.0 C53.5,335.4 55.5,332.4 57.2,329.7 C58.9,327.0 60.3,324.4 62.0,322.0 C63.7,319.6 65.7,317.5 67.4,315.5 C69.1,313.5 70.3,311.7 72.0,310.0 C73.7,308.3 75.6,306.7 77.5,305.3 C79.4,303.9 81.5,302.8 83.5,301.8 C85.5,300.8 87.5,300.2 89.7,299.2 C91.9,298.2 94.4,297.0 96.5,296.0 C98.6,295.0 100.5,293.5 102.5,293.4 C104.5,293.3 106.6,294.8 108.5,295.6 C110.4,296.4 112.1,297.2 114.1,298.2 C116.1,299.1 118.3,300.1 120.3,301.3 C122.3,302.5 124.4,303.6 126.3,305.3 C128.2,307.0 129.8,309.1 131.5,311.5 C133.2,313.9 134.9,317.1 136.5,319.6 C138.1,322.1 139.5,324.3 140.8,326.7 C142.2,329.1 143.2,331.3 144.6,333.8 C146.0,336.3 148.0,339.9 149.1,341.9 C150.2,343.9 150.7,345.3 151.0,346.0" stroke="#000" stroke-width="1.75" fill="none" stroke-linecap="round" stroke-linejoin="round"/>
<path d="M64.0,364.0 C64.4,363.0 65.3,360.9 66.4,358.2 C67.5,355.4 69.0,351.2 70.5,347.5 C72.0,343.8 73.8,339.5 75.5,335.8 C77.2,332.1 78.8,328.7 80.5,325.3 C82.2,321.9 84.0,318.6 85.7,315.5 C87.4,312.4 89.1,309.7 90.8,307.0 C92.5,304.3 94.3,301.2 95.8,299.2 C97.2,297.2 98.4,295.9 99.5,295.0 C100.6,294.1 101.5,293.5 102.5,293.6 C103.5,293.7 104.5,294.4 105.8,295.5 C107.1,296.6 108.4,298.3 110.1,300.3 C111.8,302.3 114.0,305.0 116.0,307.5 C118.0,310.0 120.2,312.8 122.3,315.5 C124.4,318.2 126.5,321.0 128.5,323.7 C130.5,326.4 132.6,329.2 134.5,331.8 C136.4,334.4 138.0,336.6 139.7,339.0 C141.4,341.4 143.0,344.1 144.6,346.0 C146.2,347.9 147.9,349.1 149.1,350.1 C150.3,351.1 151.5,351.7 152.0,352.0" stroke="#000" stroke-width="1.75" fill="none" stroke-linecap="round" stroke-linejoin="round"/>
<path d="M64.5,364.0 C65.0,363.0 65.9,360.9 67.0,358.2 C68.0,355.5 69.5,351.3 71.0,347.6 C72.6,343.9 74.4,339.7 76.0,336.0 C77.7,332.3 79.3,328.9 81.0,325.6 C82.7,322.2 84.4,318.9 86.1,315.8 C87.8,312.8 89.5,309.9 91.2,307.4 C92.9,304.8 95.1,302.0 96.6,300.4 C98.1,298.8 99.2,298.3 100.2,297.6 C101.2,296.9 101.7,296.4 102.5,296.4 C103.3,296.4 103.8,297.0 105.0,297.8 C106.2,298.6 107.6,299.4 109.4,301.1 C111.2,302.8 113.6,305.5 115.6,307.9 C117.7,310.4 119.8,313.2 121.9,315.9 C124.0,318.6 126.1,321.4 128.1,324.1 C130.1,326.8 132.2,329.6 134.1,332.2 C136.0,334.7 137.6,337.0 139.3,339.4 C141.0,341.7 142.6,344.5 144.2,346.4 C145.8,348.2 147.4,349.4 148.7,350.5 C150.0,351.5 151.4,352.2 152.0,352.6" stroke="#000" stroke-width="1.75" fill="none" stroke-linecap="round" stroke-linejoin="round"/>
<path d="M78.0,364.0 C78.3,363.0 78.8,361.0 79.6,358.2 C80.3,355.4 81.5,350.4 82.5,347.0 C83.5,343.6 84.5,341.1 85.7,337.9 C86.9,334.7 88.2,331.1 89.5,328.0 C90.8,324.9 92.4,322.1 93.8,319.6 C95.2,317.1 96.5,314.7 98.0,313.2 C99.5,311.7 101.1,310.7 102.5,310.6 C103.9,310.5 105.2,311.7 106.5,312.8 C107.8,313.9 108.8,315.5 110.1,317.5 C111.4,319.5 112.8,322.3 114.2,325.0 C115.6,327.7 116.9,330.5 118.2,333.8 C119.5,337.1 120.6,340.9 121.8,345.0 C123.0,349.1 124.5,355.0 125.3,358.2 C126.1,361.4 126.3,363.0 126.5,364.0" stroke="#000" stroke-width="1.75" fill="none" stroke-linecap="round" stroke-linejoin="round"/>
<path d="M78.5,364.0 C78.8,363.0 79.4,361.0 80.1,358.2 C80.9,355.4 82.0,350.6 83.0,347.3 C84.0,344.0 85.0,341.4 86.1,338.2 C87.3,335.1 88.6,331.1 89.9,328.4 C91.2,325.7 92.2,323.8 93.8,321.8 C95.4,319.8 97.9,317.5 99.3,316.3 C100.7,315.1 101.4,314.6 102.5,314.6 C103.6,314.6 104.7,315.3 106.0,316.1 C107.3,317.0 108.8,317.9 110.2,319.8 C111.6,321.6 113.3,324.5 114.7,327.3 C116.0,330.1 117.4,333.5 118.6,336.5 C119.7,339.5 120.4,341.8 121.4,345.4 C122.5,349.0 124.0,355.1 124.8,358.2 C125.5,361.3 125.8,363.0 126.0,364.0" stroke="#000" stroke-width="1.75" fill="none" stroke-linecap="round" stroke-linejoin="round"/>
<path d="M46.0,342.0 C46.4,342.6 47.3,344.0 48.5,345.4 C49.7,346.8 51.6,348.3 53.1,350.1 C54.6,351.9 56.2,354.6 57.2,356.2 C58.2,357.8 58.7,359.4 59.0,360.0" stroke="#000" stroke-width="1.75" fill="none" stroke-linecap="round" stroke-linejoin="round"/>
<path d="M140.0,360.0 C140.7,359.2 142.7,356.5 144.0,355.0 C145.3,353.5 147.0,352.0 148.0,351.0 C149.0,350.0 149.7,349.3 150.0,349.0" stroke="#000" stroke-width="1.75" fill="none" stroke-linecap="round" stroke-linejoin="round"/>
<path d="M137.0,360.0 C137.8,359.1 140.0,356.2 141.5,354.5 C143.0,352.8 144.6,350.9 146.0,349.5 C147.4,348.1 149.3,346.6 150.0,346.0" stroke="#000" stroke-width="1.75" fill="none" stroke-linecap="round" stroke-linejoin="round"/>
</g>
<g clip-path="url(#cd1)">
<path d="M172.5,213.4 C172.8,213.4 173.6,213.4 174.4,213.4 C175.1,213.5 176.2,213.5 177.1,213.5 C178.0,213.5 178.9,213.6 179.8,213.6 C180.7,213.6 181.5,213.7 182.3,213.7 C183.2,213.8 184.0,213.8 184.9,213.9 C185.7,213.9 186.6,213.9 187.4,214.0 C188.2,214.1 189.1,214.1 189.9,214.2 C190.7,214.2 191.5,214.3 192.3,214.3 C193.1,214.4 193.9,214.4 194.7,214.5 C195.5,214.6 196.3,214.6 197.1,214.7 C197.8,214.7 198.6,214.8 199.4,214.8 C200.1,214.9 200.9,215.0 201.6,215.0 C202.4,215.0 203.1,215.1 203.8,215.1 C204.5,215.2 205.1,215.2 205.9,215.3 C206.6,215.3 207.4,215.4 208.3,215.4 C209.2,215.4 210.2,215.5 211.3,215.6 C212.3,215.6 213.5,215.7 214.5,215.7 C215.6,215.8 216.7,215.8 217.8,215.9 C218.8,216.0 219.7,216.0 220.7,216.1 C221.7,216.1 222.6,216.2 223.6,216.2 C224.6,216.2 225.5,216.3 226.6,216.3 C227.7,216.3 228.8,216.3 230.0,216.3 C231.2,216.3 232.4,216.3 233.6,216.3 C234.7,216.3 235.9,216.3 237.0,216.3 C238.2,216.3 239.2,216.3 240.3,216.3 C241.4,216.2 242.5,216.2 243.6,216.2 C244.6,216.2 245.7,216.1 246.8,216.1 C247.9,216.1 249.0,216.0 250.0,216.0 C251.1,215.9 252.2,215.9 253.3,215.8 C254.4,215.8 255.4,215.7 256.5,215.7 C257.6,215.7 258.8,215.6 259.9,215.6 C261.0,215.5 262.1,215.5 263.2,215.4 C264.3,215.4 265.3,215.3 266.3,215.3 C267.3,215.3 268.3,215.2 269.2,215.2 C270.1,215.1 271.1,215.0 271.9,215.0 C272.6,215.0 273.4,214.9 273.7,214.9" stroke="#000" stroke-width="1.90" fill="none" stroke-linecap="round" stroke-linejoin="round"/>
<path d="M187.4,220.4 C187.6,220.4 188.2,220.3 188.7,220.3 C189.2,220.2 189.9,220.1 190.5,220.1 C191.1,220.0 191.7,219.9 192.1,219.9 C192.6,219.9 192.9,219.8 193.2,219.8 C193.5,219.8 193.8,219.8 194.1,219.8 C194.5,219.8 194.8,219.7 195.3,219.7 C195.7,219.7 196.3,219.6 196.9,219.6 C197.4,219.5 198.1,219.5 198.7,219.4 C199.4,219.4 200.1,219.4 200.8,219.3 C201.5,219.2 202.3,219.2 203.1,219.1 C203.9,219.1 204.7,219.0 205.6,219.0 C206.4,218.9 207.3,218.9 208.3,218.8 C209.2,218.7 210.3,218.7 211.3,218.7 C212.4,218.6 213.5,218.6 214.6,218.5 C215.7,218.5 216.7,218.4 217.8,218.4 C218.8,218.4 219.7,218.3 220.7,218.3 C221.7,218.3 222.6,218.3 223.6,218.3 C224.6,218.2 225.5,218.2 226.6,218.2 C227.7,218.2 228.8,218.2 230.0,218.1 C231.2,218.1 232.4,218.1 233.6,218.1 C234.7,218.1 235.9,218.0 237.0,218.0 C238.2,218.0 239.2,217.9 240.3,217.9 C241.4,217.9 242.5,217.8 243.6,217.8 C244.6,217.8 245.7,217.7 246.8,217.7 C247.9,217.7 249.0,217.6 250.0,217.6 C251.1,217.5 252.2,217.5 253.3,217.4 C254.4,217.4 255.4,217.3 256.5,217.3 C257.6,217.3 258.8,217.2 259.9,217.2 C261.0,217.1 262.1,217.1 263.2,217.0 C264.3,217.0 265.3,216.9 266.3,216.9 C267.3,216.9 268.3,216.8 269.2,216.8 C270.1,216.7 271.1,216.7 271.9,216.7 C272.6,216.6 273.4,216.6 273.7,216.6" stroke="#000" stroke-width="1.90" fill="none" stroke-linecap="round" stroke-linejoin="round"/>
<path d="M215.9,211.9 C216.0,212.0 216.5,212.4 216.9,212.7 C217.3,213.1 217.8,213.5 218.3,213.9 C218.8,214.3 219.2,214.6 219.7,214.9 C220.1,215.2 220.4,215.3 220.8,215.5 C221.2,215.7 221.5,215.9 221.9,216.0 C222.2,216.1 222.6,216.2 223.0,216.3 C223.4,216.4 223.8,216.4 224.2,216.5 C224.6,216.5 225.0,216.5 225.4,216.5 C225.8,216.5 226.2,216.5 226.6,216.5 C227.0,216.5 227.4,216.5 227.8,216.5 C228.2,216.5 228.6,216.5 229.0,216.5 C229.4,216.4 229.8,216.4 230.2,216.3 C230.6,216.2 231.0,216.1 231.4,215.9 C231.7,215.8 232.1,215.6 232.5,215.4 C232.9,215.2 233.2,215.0 233.6,214.7 C234.0,214.4 234.5,214.1 234.9,213.8 C235.3,213.4 235.8,213.0 236.1,212.7 C236.5,212.4 236.9,212.0 237.0,211.9" stroke="#000" stroke-width="1.90" fill="none" stroke-linecap="round" stroke-linejoin="round"/>
<path d="M179.8,210.9 C180.0,211.1 180.5,211.5 181.0,212.0 C181.5,212.4 182.1,213.0 182.7,213.5 C183.3,214.0 184.0,214.6 184.6,215.1 C185.1,215.6 185.7,216.1 186.3,216.6 C186.9,217.2 187.5,217.7 188.2,218.2 C188.8,218.7 189.5,219.2 190.2,219.7 C191.0,220.2 191.9,220.6 192.7,221.0 C193.6,221.4 194.6,221.7 195.5,222.2 C196.4,222.6 197.2,223.0 198.0,223.4 C198.8,223.9 199.5,224.4 200.2,224.9 C200.9,225.4 201.5,226.0 202.2,226.5 C202.9,227.0 203.5,227.6 204.2,228.1 C204.9,228.7 205.6,229.2 206.3,229.8 C207.0,230.3 207.7,230.9 208.4,231.5 C209.1,232.0 209.7,232.6 210.4,233.1 C211.0,233.7 211.6,234.2 212.2,234.7 C212.8,235.2 213.3,235.7 213.9,236.2 C214.4,236.7 215.0,237.1 215.6,237.5 C216.2,237.9 216.8,238.3 217.3,238.7 C217.9,239.0 218.5,239.3 219.1,239.5 C219.7,239.8 220.3,240.0 220.9,240.2 C221.5,240.4 222.2,240.6 222.8,240.7 C223.4,240.8 224.1,240.9 224.7,241.0 C225.4,241.0 226.0,241.0 226.6,241.0 C227.2,241.0 227.8,240.9 228.3,240.8 C228.9,240.8 229.4,240.6 229.9,240.5 C230.5,240.3 231.0,240.2 231.6,240.0 C232.1,239.8 232.7,239.5 233.3,239.3 C233.9,239.0 234.5,238.7 235.1,238.4 C235.8,238.1 236.4,237.7 237.0,237.4 C237.7,237.0 238.3,236.6 239.0,236.3 C239.7,235.9 240.4,235.5 241.1,235.1 C241.8,234.7 242.5,234.3 243.2,233.9 C243.9,233.4 244.6,232.9 245.3,232.4 C246.0,231.9 246.7,231.4 247.4,230.9 C248.1,230.3 248.8,229.8 249.4,229.4 C250.1,228.9 250.7,228.4 251.3,228.0 C251.9,227.5 252.5,227.0 253.1,226.6 C253.7,226.2 254.3,225.7 254.8,225.4 C255.3,225.0 255.8,224.6 256.3,224.3 C256.7,224.0 257.2,223.7 257.6,223.4 C258.1,223.1 258.5,222.8 259.0,222.5 C259.4,222.2 259.9,222.0 260.4,221.7 C260.9,221.4 261.4,221.2 261.9,221.0 C262.3,220.7 262.9,220.5 263.4,220.3 C263.9,220.1 264.4,219.9 264.9,219.7 C265.5,219.5 266.0,219.3 266.6,219.2 C267.1,219.0 267.6,218.8 268.2,218.7 C268.8,218.6 269.5,218.4 270.2,218.3 C270.9,218.2 271.7,218.0 272.3,217.9 C272.8,217.8 273.5,217.7 273.7,217.7" stroke="#000" stroke-width="1.90" fill="none" stroke-linecap="round" stroke-linejoin="round"/>
<path d="M172.5,214.3 C172.7,214.4 173.1,214.6 173.5,214.9 C174.0,215.1 174.5,215.4 175.0,215.7 C175.5,216.0 176.0,216.2 176.5,216.5 C176.9,216.8 177.3,217.0 177.8,217.2 C178.2,217.4 178.6,217.7 179.0,217.9 C179.4,218.2 179.9,218.4 180.4,218.7 C180.9,219.0 181.4,219.3 181.9,219.6 C182.5,220.0 183.1,220.3 183.6,220.6 C184.2,221.0 184.7,221.3 185.3,221.7 C185.9,222.1 186.5,222.4 187.0,222.8 C187.6,223.2 188.2,223.5 188.8,223.9 C189.3,224.3 189.9,224.7 190.3,225.0 C190.8,225.4 191.2,225.7 191.6,226.1 C191.9,226.4 192.2,226.7 192.6,227.1 C192.9,227.4 193.2,227.8 193.6,228.1 C193.9,228.5 194.3,228.9 194.6,229.3 C194.9,229.7 195.3,230.1 195.6,230.5 C196.0,230.9 196.3,231.3 196.7,231.7 C197.1,232.1 197.5,232.6 197.9,233.0 C198.2,233.4 198.7,233.9 199.0,234.3 C199.4,234.7 199.8,235.2 200.2,235.6 C200.6,236.0 200.9,236.4 201.3,236.8 C201.7,237.2 202.0,237.5 202.4,237.9 C202.7,238.3 203.1,238.7 203.4,239.1 C203.8,239.5 204.2,239.9 204.6,240.3 C204.9,240.7 205.3,241.1 205.7,241.4 C206.1,241.8 206.5,242.2 206.9,242.6 C207.3,243.0 207.7,243.4 208.1,243.8 C208.5,244.2 208.9,244.6 209.3,244.9 C209.7,245.3 210.1,245.7 210.5,246.0 C210.8,246.4 211.2,246.8 211.5,247.1 C211.8,247.4 212.1,247.8 212.4,248.1 C212.7,248.4 212.9,248.7 213.0,248.8" stroke="#000" stroke-width="1.90" fill="none" stroke-linecap="round" stroke-linejoin="round"/>
<path d="M210.5,246.0 C210.6,246.1 210.8,246.4 211.1,246.7 C211.4,247.0 211.7,247.4 212.1,247.7 C212.4,248.1 212.7,248.4 213.0,248.8 C213.3,249.1 213.6,249.5 213.9,249.8 C214.2,250.2 214.5,250.6 214.8,250.9 C215.2,251.3 215.5,251.7 215.9,252.0 C216.2,252.4 216.6,252.8 217.1,253.1 C217.5,253.5 217.9,253.9 218.4,254.2 C218.8,254.6 219.2,254.9 219.7,255.1 C220.1,255.4 220.5,255.6 221.0,255.8 C221.4,256.0 221.8,256.2 222.2,256.4 C222.7,256.5 223.1,256.6 223.5,256.7 C223.8,256.9 224.2,256.9 224.5,257.0 C224.9,257.1 225.2,257.1 225.5,257.1 C225.9,257.2 226.2,257.1 226.6,257.1 C227.0,257.1 227.5,257.0 227.9,256.9 C228.4,256.8 228.8,256.7 229.3,256.5 C229.8,256.4 230.2,256.2 230.7,255.9 C231.1,255.7 231.6,255.4 232.0,255.0 C232.4,254.7 232.9,254.4 233.3,254.0 C233.7,253.6 234.2,253.1 234.6,252.7 C235.0,252.2 235.4,251.7 235.9,251.1 C236.3,250.6 236.7,250.0 237.1,249.4 C237.6,248.8 238.0,248.2 238.5,247.5 C239.0,246.9 239.4,246.2 239.9,245.6 C240.4,244.9 240.9,244.2 241.5,243.4 C242.0,242.7 242.6,241.9 243.2,241.1 C243.8,240.3 244.5,239.4 245.2,238.4 C245.9,237.5 246.6,236.4 247.3,235.4 C248.1,234.5 248.8,233.5 249.4,232.7 C250.1,231.8 250.7,231.0 251.3,230.2 C251.9,229.4 252.5,228.7 253.1,228.0 C253.7,227.3 254.2,226.6 254.8,226.0 C255.4,225.3 256.0,224.7 256.6,224.1 C257.1,223.6 257.8,223.0 258.3,222.5 C258.8,222.1 259.3,221.6 259.5,221.4" stroke="#000" stroke-width="1.90" fill="none" stroke-linecap="round" stroke-linejoin="round"/>
<path d="M254.8,226.0 C255.0,225.8 255.5,225.2 256.0,224.7 C256.5,224.2 257.2,223.5 257.7,222.9 C258.3,222.4 258.9,221.8 259.5,221.4 C260.0,221.0 260.5,220.7 261.0,220.4 C261.5,220.1 261.9,219.8 262.5,219.5 C263.0,219.3 263.5,219.1 264.0,218.9 C264.6,218.7 265.2,218.6 265.8,218.4 C266.5,218.3 267.1,218.2 267.7,218.2 C268.4,218.1 268.9,218.0 269.5,217.9 C270.1,217.8 270.6,217.7 271.2,217.6 C271.7,217.5 272.2,217.4 272.7,217.4 C273.1,217.3 273.5,217.2 273.7,217.2" stroke="#000" stroke-width="1.90" fill="none" stroke-linecap="round" stroke-linejoin="round"/>
<path d="M172.5,231.5 C172.7,231.4 173.3,231.2 173.8,231.0 C174.4,230.8 175.1,230.6 175.8,230.3 C176.5,230.1 177.1,229.8 177.8,229.5 C178.5,229.2 179.1,228.8 179.8,228.4 C180.5,228.1 181.2,227.6 181.8,227.2 C182.5,226.8 183.2,226.5 183.9,226.1 C184.6,225.8 185.3,225.4 186.0,225.1 C186.6,224.8 187.4,224.5 188.0,224.3 C188.7,224.0 189.3,223.7 189.9,223.5 C190.5,223.3 191.0,223.1 191.5,222.9 C192.1,222.7 192.6,222.6 193.0,222.4 C193.4,222.3 193.9,222.2 194.0,222.1" stroke="#000" stroke-width="1.90" fill="none" stroke-linecap="round" stroke-linejoin="round"/>
<path d="M189.9,223.5 C190.1,223.4 190.8,223.2 191.4,223.0 C192.0,222.7 192.8,222.4 193.6,222.2 C194.3,221.9 195.2,221.7 195.9,221.5 C196.7,221.3 197.5,221.2 198.3,221.0 C199.1,220.9 199.9,220.8 200.8,220.7 C201.7,220.6 202.6,220.5 203.5,220.4 C204.5,220.3 205.4,220.2 206.4,220.2 C207.4,220.1 208.4,220.1 209.5,220.0 C210.6,220.0 211.6,219.9 213.0,219.9 C214.4,219.9 216.1,219.8 217.7,219.8 C219.4,219.8 221.5,219.8 222.9,219.7 C224.4,219.7 226.0,219.7 226.6,219.7" stroke="#000" stroke-width="1.90" fill="none" stroke-linecap="round" stroke-linejoin="round"/>
<path d="M172.5,216.4 C172.7,216.6 173.4,217.2 174.0,217.7 C174.6,218.2 175.4,218.9 176.1,219.6 C176.9,220.2 177.6,221.0 178.4,221.7 C179.1,222.4 179.9,223.2 180.7,224.0 C181.5,224.9 182.3,225.8 183.1,226.6 C183.9,227.5 184.6,228.3 185.3,229.1 C186.0,229.9 186.6,230.6 187.1,231.3 C187.7,232.0 188.2,232.7 188.7,233.4 C189.3,234.1 189.8,234.8 190.3,235.6 C190.9,236.3 191.5,237.2 192.1,238.0 C192.7,238.8 193.3,239.7 193.8,240.6 C194.4,241.4 194.9,242.2 195.4,242.9 C195.8,243.7 196.2,244.3 196.6,245.0 C197.0,245.7 197.3,246.3 197.7,246.9 C198.0,247.5 198.4,248.2 198.8,248.8 C199.2,249.5 199.6,250.2 200.1,250.9 C200.5,251.6 200.9,252.3 201.4,253.0 C201.9,253.7 202.4,254.4 202.9,255.1 C203.4,255.9 203.9,256.6 204.5,257.3 C205.0,258.0 205.6,258.7 206.2,259.4 C206.8,260.1 207.3,260.8 207.9,261.4 C208.5,262.1 209.0,262.7 209.6,263.3 C210.1,263.9 210.7,264.5 211.3,265.0 C211.8,265.6 212.4,266.1 213.0,266.7 C213.6,267.2 214.2,267.7 214.8,268.2 C215.4,268.7 216.0,269.1 216.6,269.5 C217.3,269.9 217.9,270.3 218.7,270.7 C219.5,271.0 220.4,271.3 221.3,271.6 C222.2,271.8 223.2,272.0 224.1,272.2 C225.0,272.3 225.8,272.4 226.6,272.5 C227.4,272.6 228.0,272.6 228.6,272.6 C229.3,272.6 229.8,272.5 230.4,272.4 C231.0,272.4 231.6,272.3 232.2,272.2 C232.8,272.2 233.3,272.1 233.9,272.1 C234.6,272.0 235.1,272.0 235.8,271.8 C236.5,271.7 237.2,271.6 238.1,271.4 C239.0,271.2 240.1,270.9 241.2,270.6 C242.3,270.3 243.6,269.9 244.8,269.6 C246.0,269.2 247.3,268.9 248.4,268.5 C249.6,268.1 250.8,267.7 252.0,267.2 C253.1,266.8 254.4,266.3 255.5,265.9 C256.6,265.4 257.7,265.0 258.8,264.6 C259.8,264.3 260.8,263.9 261.7,263.6 C262.7,263.2 263.6,262.9 264.4,262.6 C265.3,262.3 266.1,262.0 267.0,261.7 C267.8,261.4 268.7,261.2 269.6,260.9 C270.4,260.6 271.3,260.3 272.0,260.1 C272.7,259.9 273.4,259.7 273.7,259.6" stroke="#000" stroke-width="1.90" fill="none" stroke-linecap="round" stroke-linejoin="round"/>
<path d="M174.1,220.1 C174.4,220.4 175.1,221.2 175.8,221.9 C176.5,222.6 177.4,223.6 178.2,224.4 C178.9,225.3 179.7,226.2 180.4,227.0 C181.0,227.8 181.6,228.6 182.1,229.4 C182.7,230.3 183.2,231.1 183.7,231.9 C184.2,232.8 184.8,233.6 185.3,234.4 C185.9,235.2 186.4,236.1 187.0,236.9 C187.6,237.7 188.2,238.5 188.7,239.3 C189.3,240.2 189.8,241.0 190.3,241.9 C190.8,242.7 191.3,243.6 191.8,244.5 C192.2,245.4 192.6,246.3 193.1,247.1 C193.5,248.0 194.0,248.9 194.4,249.7 C194.9,250.6 195.4,251.4 195.8,252.2 C196.3,253.0 196.8,253.8 197.3,254.6 C197.8,255.3 198.3,256.1 198.8,256.8 C199.3,257.6 199.8,258.3 200.3,259.0 C200.8,259.7 201.3,260.4 201.9,261.1 C202.4,261.8 203.0,262.4 203.5,263.1 C204.1,263.7 204.7,264.4 205.3,265.0 C205.8,265.6 206.4,266.2 207.1,266.8 C207.7,267.4 208.4,268.0 209.2,268.5 C210.0,269.1 210.9,269.6 211.9,270.1 C212.8,270.6 213.8,271.0 214.8,271.5 C215.8,271.9 216.8,272.3 217.8,272.6 C218.8,272.9 219.8,273.2 220.7,273.4 C221.7,273.6 222.8,273.8 223.8,273.9 C224.7,274.0 225.7,274.0 226.6,274.0 C227.5,274.0 228.4,273.9 229.2,273.7 C230.1,273.6 230.9,273.4 231.7,273.1 C232.5,272.9 233.3,272.6 234.0,272.2 C234.8,271.8 235.5,271.4 236.2,271.0 C236.9,270.5 237.6,270.0 238.2,269.4 C238.9,268.9 239.5,268.3 240.2,267.6 C240.8,266.9 241.4,266.2 241.9,265.4 C242.5,264.6 243.1,263.7 243.6,262.9 C244.2,262.1 244.8,261.2 245.3,260.4 C245.9,259.6 246.4,258.8 247.0,258.1 C247.6,257.3 248.1,256.5 248.7,255.7 C249.3,254.9 249.8,254.1 250.5,253.3 C251.1,252.4 251.8,251.5 252.5,250.7 C253.2,249.8 254.0,248.8 254.7,248.0 C255.4,247.1 256.0,246.3 256.6,245.6 C257.2,244.9 257.7,244.2 258.2,243.6 C258.7,242.9 259.1,242.3 259.6,241.8 C260.0,241.2 260.4,240.7 260.8,240.2 C261.2,239.7 261.6,239.2 262.0,238.8 C262.4,238.4 262.8,238.0 263.2,237.7 C263.5,237.3 263.9,237.0 264.3,236.7 C264.7,236.5 265.1,236.3 265.6,236.1 C266.0,235.9 266.4,235.8 266.8,235.7 C267.3,235.6 267.7,235.5 268.2,235.4 C268.8,235.4 269.5,235.3 270.1,235.3 C270.8,235.3 271.6,235.3 272.2,235.4 C272.8,235.4 273.5,235.4 273.7,235.4" stroke="#000" stroke-width="1.90" fill="none" stroke-linecap="round" stroke-linejoin="round"/>
<path d="M172.5,236.7 C172.9,236.8 173.9,237.1 174.8,237.3 C175.8,237.5 177.1,237.9 178.2,238.2 C179.3,238.5 180.5,238.8 181.6,239.1 C182.7,239.4 183.8,239.8 184.8,240.1 C185.9,240.5 187.1,240.9 188.2,241.2 C189.2,241.6 190.3,241.9 191.4,242.3 C192.4,242.6 193.5,242.9 194.5,243.2 C195.6,243.5 196.6,243.8 197.6,244.1 C198.6,244.4 199.5,244.7 200.4,245.0 C201.3,245.3 202.0,245.6 202.8,245.8 C203.5,246.1 204.2,246.3 204.9,246.6 C205.6,246.9 206.2,247.1 206.9,247.4 C207.5,247.7 208.1,248.0 208.6,248.3 C209.2,248.6 209.7,248.8 210.3,249.2 C210.8,249.5 211.3,249.9 211.9,250.3 C212.4,250.7 213.0,251.1 213.6,251.6 C214.1,252.1 214.7,252.6 215.2,253.2 C215.8,253.7 216.4,254.2 216.9,254.7 C217.5,255.3 218.0,255.8 218.6,256.4 C219.2,256.9 219.7,257.6 220.3,258.1 C220.9,258.6 221.4,259.1 221.9,259.5 C222.5,259.9 223.0,260.3 223.5,260.6 C224.0,260.9 224.4,261.2 224.9,261.4 C225.5,261.6 226.0,261.8 226.6,261.8 C227.2,261.8 227.9,261.7 228.6,261.5 C229.3,261.3 230.1,261.0 230.9,260.7 C231.6,260.3 232.3,260.0 232.9,259.6 C233.6,259.2 234.2,258.8 234.7,258.3 C235.3,257.9 235.9,257.4 236.4,256.9 C237.0,256.4 237.5,255.8 238.1,255.3 C238.7,254.7 239.3,254.1 239.8,253.5 C240.4,252.9 241.0,252.2 241.6,251.5 C242.1,250.9 242.7,250.2 243.3,249.6 C243.9,249.0 244.4,248.3 245.0,247.7 C245.6,247.0 246.2,246.4 246.8,245.7 C247.4,245.1 247.9,244.5 248.4,244.0 C249.0,243.5 249.4,243.0 249.9,242.5 C250.4,242.0 250.8,241.6 251.3,241.2 C251.7,240.7 252.2,240.3 252.6,239.9 C253.1,239.6 253.5,239.2 254.0,238.8 C254.4,238.4 254.8,238.1 255.2,237.7 C255.7,237.4 256.1,237.1 256.5,236.8 C257.0,236.5 257.4,236.3 257.8,236.0 C258.2,235.8 258.6,235.6 259.0,235.4 C259.5,235.2 259.9,235.0 260.4,234.8 C260.9,234.6 261.5,234.4 262.1,234.2 C262.7,234.0 263.3,233.8 263.9,233.7 C264.5,233.5 265.0,233.3 265.6,233.1 C266.2,232.9 266.7,232.7 267.2,232.6 C267.7,232.4 268.3,232.2 268.8,232.0 C269.3,231.8 269.7,231.6 270.2,231.5 C270.7,231.4 271.1,231.3 271.6,231.2 C272.0,231.0 272.5,231.0 272.8,230.9 C273.2,230.8 273.6,230.7 273.7,230.7" stroke="#000" stroke-width="1.90" fill="none" stroke-linecap="round" stroke-linejoin="round"/>
<path d="M217.8,268.3 C218.0,268.4 218.5,268.6 219.0,268.8 C219.5,269.0 220.2,269.3 220.8,269.5 C221.4,269.7 222.0,270.0 222.5,270.1 C223.0,270.3 223.4,270.4 223.8,270.5 C224.3,270.6 224.6,270.7 225.1,270.7 C225.6,270.8 226.0,270.8 226.6,270.8 C227.2,270.8 227.9,270.7 228.6,270.6 C229.3,270.6 230.1,270.4 230.8,270.3 C231.6,270.1 232.3,269.9 232.9,269.6 C233.6,269.3 234.2,269.0 234.7,268.6 C235.3,268.3 235.9,267.9 236.4,267.4 C237.0,267.0 237.5,266.5 238.1,265.9 C238.7,265.3 239.3,264.6 239.8,263.8 C240.4,263.1 241.0,262.3 241.6,261.5 C242.1,260.7 242.7,259.9 243.3,259.1 C243.8,258.3 244.4,257.6 245.0,256.8 C245.6,256.1 246.1,255.3 246.7,254.5 C247.3,253.8 247.9,253.0 248.4,252.3 C249.0,251.5 249.6,250.8 250.2,250.0 C250.8,249.3 251.4,248.5 252.0,247.8 C252.5,247.0 253.1,246.4 253.6,245.7 C254.1,245.1 254.6,244.5 255.1,243.9 C255.5,243.3 256.0,242.8 256.4,242.2 C256.8,241.7 257.3,241.2 257.7,240.8 C258.1,240.3 258.5,239.8 258.9,239.4 C259.3,239.0 259.6,238.5 260.0,238.2 C260.5,237.8 260.9,237.5 261.4,237.2 C261.9,236.9 262.5,236.7 263.1,236.6 C263.8,236.4 264.4,236.3 265.1,236.2 C265.8,236.1 266.4,236.0 267.2,235.9 C267.9,235.8 268.7,235.7 269.5,235.7 C270.3,235.6 271.3,235.6 272.0,235.5 C272.7,235.5 273.4,235.4 273.7,235.4" stroke="#000" stroke-width="1.90" fill="none" stroke-linecap="round" stroke-linejoin="round"/>
<path d="M226.6,257.1 C226.8,257.0 227.4,256.8 228.0,256.6 C228.6,256.5 229.3,256.2 230.0,256.0 C230.7,255.7 231.3,255.5 232.0,255.2 C232.6,255.0 233.1,254.8 233.7,254.6 C234.2,254.3 234.8,254.1 235.3,253.9 C235.9,253.6 236.5,253.4 237.1,253.3 C237.8,253.1 238.4,252.9 239.1,252.8 C239.7,252.7 240.4,252.5 241.1,252.5 C241.8,252.4 242.5,252.3 243.3,252.2 C244.0,252.1 244.8,252.1 245.6,252.0 C246.3,252.0 247.1,252.0 248.0,252.0 C248.8,252.0 249.6,252.1 250.5,252.2 C251.4,252.3 252.3,252.4 253.2,252.6 C254.1,252.7 255.1,252.9 256.0,253.2 C256.9,253.4 257.8,253.6 258.8,253.9 C259.7,254.2 260.6,254.5 261.6,254.9 C262.5,255.2 263.5,255.6 264.4,256.0 C265.3,256.3 266.1,256.7 267.0,257.0 C267.8,257.4 268.7,257.7 269.6,258.0 C270.4,258.3 271.3,258.7 272.0,259.0 C272.7,259.2 273.4,259.5 273.7,259.6" stroke="#000" stroke-width="1.90" fill="none" stroke-linecap="round" stroke-linejoin="round"/>
<path d="M172.5,243.8 C172.7,243.8 173.3,243.8 173.9,243.8 C174.4,243.8 175.2,243.7 175.8,243.8 C176.5,243.8 177.2,243.8 177.8,243.9 C178.4,244.0 179.0,244.1 179.6,244.3 C180.3,244.4 180.9,244.6 181.5,244.8 C182.1,245.0 182.6,245.2 183.1,245.5 C183.6,245.8 184.0,246.1 184.5,246.4 C184.9,246.7 185.2,247.1 185.6,247.5 C186.0,247.8 186.4,248.2 186.8,248.6 C187.3,249.0 187.8,249.4 188.3,249.8 C188.8,250.3 189.3,250.7 189.8,251.2 C190.3,251.6 190.8,252.1 191.4,252.6 C191.9,253.1 192.5,253.6 193.1,254.1 C193.6,254.7 194.2,255.2 194.8,255.8 C195.4,256.4 196.0,256.9 196.6,257.5 C197.2,258.0 197.8,258.6 198.5,259.2 C199.1,259.7 199.7,260.3 200.3,260.9 C200.9,261.4 201.5,261.9 201.9,262.4 C202.4,262.8 202.7,263.2 203.0,263.5 C203.3,263.9 203.5,264.2 203.8,264.5 C204.1,264.9 204.5,265.2 204.9,265.7 C205.3,266.1 205.8,266.7 206.3,267.2 C206.8,267.8 207.3,268.4 207.9,269.0 C208.5,269.5 209.2,270.1 209.9,270.7 C210.6,271.2 211.4,271.8 212.3,272.4 C213.2,272.9 214.1,273.5 215.0,274.0 C216.0,274.5 216.9,275.0 217.9,275.4 C218.8,275.8 219.8,276.2 220.8,276.5 C221.8,276.8 222.9,277.0 223.9,277.2 C224.9,277.4 225.8,277.5 226.6,277.6 C227.4,277.7 228.1,277.7 228.7,277.7 C229.4,277.7 229.9,277.6 230.5,277.5 C231.1,277.5 231.6,277.3 232.2,277.2 C232.7,277.1 233.1,277.0 233.6,276.9 C234.1,276.7 234.4,276.6 234.9,276.4 C235.5,276.2 236.1,276.0 237.0,275.7 C237.9,275.4 239.2,275.0 240.4,274.7 C241.6,274.3 243.1,273.9 244.5,273.5 C245.8,273.1 247.2,272.6 248.4,272.2 C249.7,271.7 250.9,271.3 252.0,270.8 C253.2,270.3 254.4,269.7 255.5,269.2 C256.7,268.7 257.7,268.2 258.8,267.7 C259.8,267.2 260.8,266.7 261.7,266.2 C262.7,265.7 263.6,265.2 264.4,264.7 C265.3,264.2 266.1,263.8 267.0,263.3 C267.8,262.9 268.7,262.5 269.6,262.1 C270.4,261.7 271.3,261.3 272.0,261.0 C272.7,260.7 273.4,260.3 273.7,260.2" stroke="#000" stroke-width="1.90" fill="none" stroke-linecap="round" stroke-linejoin="round"/>
<path d="M172.5,241.9 C172.8,241.9 173.7,242.0 174.5,242.0 C175.3,242.0 176.3,242.1 177.3,242.1 C178.3,242.2 179.3,242.3 180.4,242.3 C181.4,242.4 182.5,242.4 183.6,242.4 C184.7,242.5 186.0,242.5 187.1,242.6 C188.2,242.7 189.3,242.8 190.3,243.0 C191.4,243.1 192.3,243.3 193.2,243.6 C194.1,243.8 195.0,244.1 195.9,244.4 C196.7,244.7 197.6,245.0 198.4,245.3 C199.2,245.7 200.1,246.1 200.9,246.5 C201.7,246.9 202.5,247.3 203.2,247.8 C204.0,248.2 204.7,248.7 205.4,249.2 C206.1,249.7 206.8,250.2 207.5,250.8 C208.1,251.3 208.7,251.9 209.3,252.5 C210.0,253.1 210.6,253.6 211.1,254.2 C211.7,254.8 212.2,255.3 212.8,255.9 C213.3,256.5 213.8,257.0 214.3,257.6 C214.8,258.1 215.4,258.6 215.9,259.1 C216.4,259.6 216.9,260.1 217.4,260.5 C217.9,261.0 218.4,261.4 218.9,261.8 C219.5,262.2 220.0,262.5 220.6,262.8 C221.2,263.1 221.9,263.4 222.6,263.6 C223.2,263.8 224.0,264.0 224.7,264.1 C225.3,264.3 226.0,264.4 226.6,264.4 C227.2,264.4 227.7,264.4 228.3,264.3 C228.8,264.3 229.3,264.2 229.8,264.0 C230.2,263.9 230.7,263.7 231.2,263.5 C231.6,263.3 232.1,263.0 232.5,262.7 C233.0,262.5 233.4,262.1 233.8,261.8 C234.2,261.4 234.7,261.1 235.1,260.6 C235.5,260.2 235.9,259.8 236.4,259.3 C236.8,258.8 237.2,258.2 237.7,257.7 C238.1,257.2 238.5,256.6 239.0,256.0 C239.5,255.4 240.0,254.6 240.5,253.9 C241.1,253.2 241.7,252.3 242.1,251.7 C242.6,251.0 243.1,250.4 243.3,250.1" stroke="#000" stroke-width="1.90" fill="none" stroke-linecap="round" stroke-linejoin="round"/>
<path d="M172.5,245.7 C172.9,245.8 173.8,246.0 174.7,246.1 C175.5,246.3 176.7,246.6 177.7,246.8 C178.8,247.1 179.8,247.4 180.8,247.7 C181.7,248.0 182.5,248.4 183.3,248.8 C184.2,249.2 185.0,249.6 185.8,250.1 C186.7,250.6 187.5,251.1 188.3,251.7 C189.2,252.4 190.0,253.1 190.9,253.8 C191.7,254.6 192.6,255.4 193.4,256.2 C194.3,257.0 195.1,257.9 195.9,258.8 C196.8,259.6 197.6,260.5 198.5,261.4 C199.3,262.3 200.2,263.3 201.0,264.2 C201.8,265.2 202.7,266.1 203.5,267.0 C204.4,267.9 205.2,268.8 206.1,269.6 C206.9,270.5 207.8,271.4 208.6,272.2 C209.4,273.0 210.3,273.8 211.1,274.5 C212.0,275.2 212.8,275.8 213.6,276.4 C214.5,277.1 215.3,277.6 216.2,278.1 C217.0,278.6 217.9,279.1 218.7,279.5 C219.6,279.9 220.5,280.2 221.3,280.5 C222.2,280.8 223.1,281.0 224.0,281.2 C224.9,281.4 225.7,281.5 226.6,281.5 C227.5,281.5 228.3,281.5 229.1,281.3 C230.0,281.2 230.8,281.0 231.6,280.8 C232.4,280.6 233.3,280.4 234.1,280.1 C234.9,279.9 235.8,279.6 236.6,279.3 C237.5,279.0 238.3,278.7 239.2,278.3 C240.0,278.0 240.9,277.6 241.9,277.2 C242.9,276.8 243.9,276.4 245.0,275.9 C246.1,275.5 247.2,275.0 248.3,274.5 C249.4,274.1 250.6,273.5 251.7,273.0 C252.7,272.5 253.8,271.9 254.8,271.3 C255.9,270.7 256.9,270.1 258.0,269.4 C259.1,268.8 260.1,268.1 261.4,267.4 C262.7,266.6 264.3,265.7 265.8,264.9 C267.3,264.0 269.1,263.0 270.4,262.2 C271.7,261.4 273.2,260.6 273.7,260.3" stroke="#000" stroke-width="1.90" fill="none" stroke-linecap="round" stroke-linejoin="round"/>
<path d="M243.9,219.4 C244.2,219.5 245.2,219.8 246.1,220.1 C247.0,220.4 248.3,220.8 249.3,221.1 C250.4,221.4 251.5,221.8 252.4,222.0 C253.4,222.3 254.2,222.5 255.1,222.7 C256.0,222.9 256.8,223.1 257.7,223.2 C258.5,223.4 259.4,223.6 260.2,223.7 C261.1,223.9 262.1,224.0 263.0,224.1 C263.9,224.3 264.9,224.4 265.7,224.5 C266.5,224.7 267.3,224.8 267.9,224.9 C268.6,225.0 269.0,225.1 269.4,225.3 C269.8,225.4 270.0,225.5 270.3,225.6 C270.6,225.8 270.9,225.9 271.2,226.1 C271.5,226.3 271.8,226.6 272.2,226.8 C272.5,227.1 272.8,227.5 273.1,227.7 C273.3,227.9 273.6,228.2 273.7,228.3" stroke="#000" stroke-width="1.90" fill="none" stroke-linecap="round" stroke-linejoin="round"/>
<path d="M215.4,272.1 C215.6,272.0 216.1,271.9 216.5,271.8 C217.0,271.7 217.6,271.6 218.1,271.5 C218.6,271.3 219.2,271.2 219.7,271.1 C220.1,271.1 220.6,271.0 221.0,271.0 C221.4,270.9 221.9,270.9 222.3,270.8 C222.7,270.8 223.1,270.8 223.5,270.7 C223.8,270.7 224.2,270.7 224.6,270.7 C224.9,270.7 225.2,270.7 225.6,270.7 C225.9,270.7 226.3,270.7 226.6,270.7 C226.9,270.7 227.3,270.7 227.6,270.7 C228.0,270.7 228.3,270.7 228.7,270.8 C229.0,270.8 229.3,270.8 229.7,270.8 C230.1,270.9 230.5,271.0 231.0,271.0 C231.4,271.1 231.9,271.2 232.2,271.2 C232.6,271.3 233.0,271.3 233.1,271.4" stroke="#000" stroke-width="1.90" fill="none" stroke-linecap="round" stroke-linejoin="round"/>
<path d="M215.9,273.1 C216.1,273.2 216.6,273.4 217.0,273.6 C217.5,273.8 218.1,274.0 218.6,274.2 C219.2,274.4 219.7,274.6 220.1,274.8 C220.6,274.9 220.9,275.0 221.3,275.1 C221.7,275.3 222.0,275.3 222.4,275.4 C222.8,275.5 223.1,275.6 223.5,275.6 C223.8,275.7 224.2,275.8 224.5,275.8 C224.9,275.8 225.2,275.9 225.6,275.9 C225.9,275.9 226.3,275.9 226.6,275.9 C226.9,275.9 227.3,275.9 227.6,275.9 C228.0,275.8 228.3,275.8 228.7,275.7 C229.0,275.7 229.3,275.6 229.7,275.5 C230.1,275.4 230.5,275.3 231.0,275.2 C231.4,275.0 231.9,274.8 232.2,274.7 C232.6,274.6 233.0,274.4 233.1,274.4" stroke="#000" stroke-width="1.90" fill="none" stroke-linecap="round" stroke-linejoin="round"/>
<path d="M46.0,346.0 L48.5,341.0" stroke="#000" stroke-width="1.75" fill="none" stroke-linecap="round" stroke-linejoin="round"/>
<path d="M170.0,345.0 C170.4,344.3 171.4,342.9 172.5,340.9 C173.6,338.9 175.1,335.5 176.5,333.0 C177.9,330.5 179.6,328.2 181.2,325.7 C182.8,323.2 184.3,320.6 186.0,318.2 C187.7,315.8 189.5,313.5 191.4,311.4 C193.3,309.3 195.5,307.2 197.5,305.4 C199.5,303.5 201.6,301.7 203.6,300.3 C205.6,298.9 207.7,297.8 209.7,296.8 C211.7,295.8 213.9,294.9 215.8,294.2 C217.7,293.5 219.2,292.8 221.0,292.4 C222.8,292.0 224.6,291.7 226.5,291.7 C228.4,291.7 230.4,292.2 232.3,292.6 C234.2,293.0 236.1,293.4 238.1,294.2 C240.1,295.0 242.3,296.2 244.3,297.4 C246.3,298.6 248.4,299.6 250.3,301.3 C252.2,303.0 253.8,305.2 255.5,307.6 C257.2,310.0 258.9,312.9 260.5,315.5 C262.1,318.1 263.4,320.8 264.8,323.5 C266.2,326.2 267.2,329.1 268.6,331.8 C270.0,334.5 272.0,337.9 273.1,339.9 C274.2,341.9 274.7,343.3 275.0,344.0" stroke="#000" stroke-width="1.75" fill="none" stroke-linecap="round" stroke-linejoin="round"/>
<path d="M186.0,364.0 C186.4,363.0 187.1,361.4 188.3,358.2 C189.6,355.0 191.6,349.4 193.5,345.0 C195.4,340.6 197.7,335.7 199.5,331.8 C201.3,327.9 202.9,324.8 204.6,321.4 C206.3,318.0 208.0,314.4 209.7,311.4 C211.4,308.4 213.1,306.0 214.8,303.6 C216.5,301.2 218.4,298.9 219.8,297.2 C221.2,295.5 222.4,294.2 223.5,293.4 C224.6,292.6 225.4,292.2 226.5,292.2 C227.6,292.2 228.7,292.6 230.0,293.4 C231.3,294.2 232.4,295.4 234.1,297.2 C235.8,299.0 238.2,301.9 240.2,304.3 C242.2,306.7 244.3,308.9 246.3,311.4 C248.3,313.9 250.4,316.8 252.4,319.5 C254.4,322.2 256.6,325.1 258.5,327.7 C260.4,330.3 261.9,332.8 263.6,335.4 C265.3,337.9 267.0,341.2 268.6,343.0 C270.2,344.8 271.9,345.2 273.1,346.0 C274.3,346.8 275.5,347.7 276.0,348.0" stroke="#000" stroke-width="1.75" fill="none" stroke-linecap="round" stroke-linejoin="round"/>
<path d="M186.6,364.0 C186.9,363.0 187.6,361.3 188.9,358.2 C190.1,355.1 192.2,349.5 194.0,345.1 C195.9,340.8 198.1,336.0 200.0,332.1 C201.8,328.2 203.4,325.1 205.1,321.7 C206.8,318.3 208.4,314.7 210.1,311.7 C211.8,308.8 213.5,306.2 215.2,304.0 C217.0,301.7 219.0,299.7 220.6,298.3 C222.1,296.9 223.3,296.2 224.3,295.6 C225.3,295.0 225.7,294.6 226.5,294.6 C227.3,294.6 227.9,295.1 229.0,295.7 C230.1,296.3 231.4,296.7 233.2,298.2 C235.0,299.7 237.7,302.4 239.8,304.7 C241.9,307.0 243.9,309.2 245.9,311.8 C247.9,314.3 250.0,317.2 252.0,319.9 C254.0,322.6 256.2,325.4 258.1,328.1 C260.0,330.7 261.5,333.2 263.2,335.8 C264.9,338.3 266.6,341.6 268.2,343.4 C269.8,345.1 271.5,345.6 272.8,346.4 C274.1,347.3 275.5,348.2 276.0,348.6" stroke="#000" stroke-width="1.75" fill="none" stroke-linecap="round" stroke-linejoin="round"/>
<path d="M201.0,364.0 C201.3,363.0 201.8,361.2 202.6,358.2 C203.4,355.2 204.6,349.7 205.8,346.0 C207.0,342.3 208.4,339.3 209.7,335.8 C211.0,332.3 212.5,328.6 213.8,325.2 C215.2,321.8 216.4,318.2 217.8,315.5 C219.2,312.8 220.6,310.5 222.0,309.0 C223.4,307.5 225.1,306.7 226.5,306.6 C227.9,306.5 229.0,307.5 230.3,308.6 C231.6,309.8 232.8,311.2 234.1,313.5 C235.4,315.8 236.8,319.2 238.2,322.3 C239.5,325.4 240.8,328.1 242.2,331.8 C243.5,335.5 245.0,340.1 246.3,344.5 C247.7,348.9 249.4,354.9 250.3,358.2 C251.2,361.4 251.3,363.0 251.5,364.0" stroke="#000" stroke-width="1.75" fill="none" stroke-linecap="round" stroke-linejoin="round"/>
<path d="M201.6,364.0 C201.8,363.0 202.4,361.1 203.2,358.2 C203.9,355.3 205.1,350.0 206.3,346.3 C207.4,342.6 208.9,339.2 210.1,336.1 C211.3,333.1 212.0,330.8 213.3,327.8 C214.6,324.8 216.2,320.7 217.8,318.2 C219.5,315.7 221.6,314.1 223.1,312.9 C224.5,311.6 225.3,310.7 226.5,310.6 C227.7,310.5 228.7,311.4 230.0,312.3 C231.4,313.2 232.9,314.1 234.3,316.2 C235.8,318.2 237.4,322.0 238.7,324.6 C239.9,327.3 240.7,328.9 241.9,332.2 C243.1,335.6 244.5,340.5 245.8,344.8 C247.1,349.1 248.9,355.0 249.8,358.2 C250.6,361.4 250.8,363.0 250.9,364.0" stroke="#000" stroke-width="1.75" fill="none" stroke-linecap="round" stroke-linejoin="round"/>
<path d="M170.0,337.0 C170.4,337.6 171.3,339.4 172.5,340.9 C173.7,342.4 175.5,344.1 177.1,346.0 C178.7,347.9 180.3,350.0 182.0,352.0 C183.7,354.0 186.1,356.7 187.3,358.2 C188.5,359.7 188.7,360.5 189.0,361.0" stroke="#000" stroke-width="1.75" fill="none" stroke-linecap="round" stroke-linejoin="round"/>
<path d="M214.0,362.0 C214.6,361.4 216.5,359.0 217.8,358.2 C219.1,357.4 220.6,357.3 222.0,357.0 C223.4,356.7 224.7,356.6 226.5,356.6 C228.3,356.6 230.7,356.7 233.0,356.8 C235.3,356.9 237.9,357.2 240.2,357.2 C242.5,357.1 244.6,356.8 247.0,356.5 C249.4,356.2 252.2,355.8 254.4,355.2 C256.6,354.6 258.5,354.0 260.5,353.2 C262.5,352.4 264.5,351.3 266.6,350.1 C268.7,348.9 271.5,347.0 273.1,346.0 C274.7,345.0 275.5,344.3 276.0,344.0" stroke="#000" stroke-width="1.75" fill="none" stroke-linecap="round" stroke-linejoin="round"/>
<path d="M264.0,360.0 C264.7,359.1 266.7,356.2 268.0,354.5 C269.3,352.8 270.8,351.2 272.0,350.0 C273.2,348.8 274.5,347.5 275.0,347.0" stroke="#000" stroke-width="1.75" fill="none" stroke-linecap="round" stroke-linejoin="round"/>
</g>
<g clip-path="url(#cd2)">
<path d="M296.5,215.2 C297.7,215.3 301.0,215.7 303.5,216.0 C306.0,216.3 308.5,216.7 311.6,217.0 C314.6,217.3 318.2,217.7 321.6,218.0 C324.9,218.3 328.3,218.5 331.6,218.8 C335.0,219.1 339.2,219.3 341.7,219.6 C344.2,219.8 345.2,220.1 346.7,220.3 C348.2,220.5 349.4,220.6 350.7,220.6 C352.0,220.6 352.9,220.5 354.8,220.3 C356.6,220.1 359.0,219.8 361.9,219.6 C364.7,219.3 368.3,219.1 372.0,218.8 C375.7,218.5 379.8,218.3 384.2,218.0 C388.6,217.7 396.1,217.3 398.4,217.2" stroke="#000" stroke-width="3.40" fill="none" stroke-linecap="round" stroke-linejoin="round"/>
<path d="M296.5,213.8 C298.2,213.9 303.2,214.2 306.5,214.5 C309.9,214.8 313.2,215.2 316.6,215.5 C319.9,215.8 322.4,216.1 326.6,216.3 C330.8,216.5 337.7,216.7 341.7,216.8 C345.7,216.9 346.5,217.1 350.7,217.0 C354.9,216.9 361.7,216.7 366.9,216.5 C372.2,216.3 376.9,215.9 382.2,215.6 C387.4,215.3 395.7,214.9 398.4,214.8" stroke="#000" stroke-width="1.90" fill="none" stroke-linecap="round" stroke-linejoin="round"/>
<path d="M334.6,212.5 C335.5,213.1 338.0,215.0 339.7,216.0 C341.3,217.0 342.8,218.0 344.7,218.6 C346.5,219.2 348.7,219.6 350.7,219.6 C352.7,219.6 354.9,219.2 356.8,218.6 C358.7,218.0 360.3,217.0 361.9,216.0 C363.4,215.0 365.3,213.1 365.9,212.5" stroke="#000" stroke-width="1.80" fill="none" stroke-linecap="round" stroke-linejoin="round"/>
<path d="M296.5,218.5 C297.7,218.4 301.3,218.1 303.5,217.8 C305.7,217.5 307.7,216.9 309.5,216.5 C311.4,216.1 312.9,215.6 314.6,215.2 C316.2,214.8 317.7,214.4 319.6,214.0 C321.4,213.6 324.6,213.2 325.6,213.0" stroke="#000" stroke-width="1.80" fill="none" stroke-linecap="round" stroke-linejoin="round"/>
<path d="M296.5,222.7 C297.3,222.6 299.7,222.3 301.5,222.0 C303.4,221.7 305.4,221.4 307.5,221.0 C309.7,220.6 312.2,219.9 314.6,219.5 C316.9,219.1 320.4,218.8 321.6,218.6" stroke="#000" stroke-width="1.90" fill="none" stroke-linecap="round" stroke-linejoin="round"/>
<path d="M296.5,224.5 C297.7,224.4 301.3,224.3 303.5,224.2 C305.7,224.1 307.7,223.9 309.5,223.8 C311.4,223.7 312.6,223.5 314.7,223.8 C316.8,224.1 319.4,224.6 322.1,225.8 C324.8,227.0 328.0,229.2 330.6,231.0 C333.3,232.7 335.8,234.8 338.1,236.4 C340.3,238.1 342.3,239.7 344.4,240.8 C346.5,241.8 348.9,242.4 350.7,242.7 C352.6,243.0 353.8,243.1 355.5,242.6 C357.2,242.2 359.2,240.8 360.9,240.1 C362.5,239.4 363.8,239.2 365.1,238.5 C366.5,237.8 367.5,237.3 369.0,236.0 C370.4,234.8 372.2,232.5 373.8,231.0 C375.3,229.5 376.9,228.0 378.1,227.0 C379.4,226.0 379.8,225.7 381.3,224.8 C382.7,223.9 385.0,222.5 386.6,221.6 C388.3,220.7 389.4,220.2 391.3,219.5 C393.3,218.8 397.2,217.8 398.4,217.5" stroke="#000" stroke-width="2.00" fill="none" stroke-linecap="round" stroke-linejoin="round"/>
<path d="M296.5,228.6 C297.7,228.7 301.4,228.9 303.5,229.3 C305.7,229.7 307.5,230.6 309.3,231.3 C311.2,232.0 312.8,232.9 314.6,233.8 C316.3,234.7 318.1,236.0 320.0,237.0 C321.8,237.9 323.8,238.9 325.6,239.8 C327.4,240.6 328.9,241.3 330.6,242.1 C332.3,242.9 334.2,243.4 335.9,244.5 C337.7,245.7 339.4,247.2 341.2,248.9 C342.9,250.6 344.9,253.0 346.5,254.9 C348.0,256.9 348.9,260.9 350.4,260.7 C351.9,260.5 353.7,255.9 355.5,253.6 C357.2,251.4 359.1,249.1 360.9,247.2 C362.6,245.2 364.7,243.5 366.2,241.9 C367.8,240.3 368.9,239.0 370.0,237.5 C371.1,236.0 372.0,234.3 373.0,232.8 C374.1,231.4 374.9,230.2 376.1,229.0 C377.3,227.8 378.6,226.6 380.1,225.5 C381.7,224.4 383.2,223.3 385.2,222.5 C387.3,221.7 390.1,221.0 392.3,220.5 C394.5,220.0 397.4,219.7 398.4,219.5" stroke="#000" stroke-width="2.60" fill="none" stroke-linecap="round" stroke-linejoin="round"/>
<path d="M296.5,230.5 C297.8,230.7 302.0,231.2 304.1,231.6 C306.3,232.0 307.8,232.3 309.5,233.0 C311.3,233.7 312.6,234.4 314.7,235.6 C316.8,236.8 320.0,238.4 322.1,240.1 C324.2,241.8 325.6,243.9 327.4,245.8 C329.2,247.8 331.0,249.8 332.7,251.8 C334.5,253.8 336.4,255.9 338.1,257.8 C339.7,259.7 341.4,261.8 342.8,263.0 C344.1,264.3 344.9,264.5 346.2,265.1 C347.5,265.7 349.7,266.3 350.4,266.6" stroke="#000" stroke-width="2.00" fill="none" stroke-linecap="round" stroke-linejoin="round"/>
<path d="M296.5,224.0 C297.2,224.4 299.2,225.5 300.5,226.5 C301.9,227.5 303.3,228.7 304.5,230.0 C305.8,231.3 306.9,232.8 308.0,234.5 C309.2,236.2 309.9,238.0 311.6,240.0 C313.2,241.9 315.8,244.0 317.9,246.2 C320.0,248.5 322.1,251.1 324.2,253.5 C326.3,255.9 328.7,258.6 330.6,260.7 C332.6,262.8 334.2,264.6 335.9,265.9 C337.7,267.2 339.4,268.1 341.2,268.4 C342.9,268.8 344.9,268.3 346.5,268.1 C348.0,268.0 349.1,267.7 350.4,267.7 C351.7,267.7 353.0,267.8 354.3,268.1 C355.5,268.3 356.6,268.9 357.7,269.0 C358.8,269.0 360.3,268.4 360.9,268.3" stroke="#000" stroke-width="1.90" fill="none" stroke-linecap="round" stroke-linejoin="round"/>
<path d="M296.5,244.6 C297.5,244.8 300.4,245.4 302.5,245.8 C304.7,246.2 307.3,246.6 309.3,247.0 C311.4,247.3 312.6,247.5 314.7,247.9 C316.7,248.2 319.3,248.7 321.6,249.1 C323.9,249.4 326.5,249.8 328.5,250.1 C330.5,250.3 332.0,250.4 333.6,250.6 C335.2,250.7 336.5,250.8 338.1,251.3 C339.6,251.8 341.2,252.6 342.7,253.5 C344.1,254.5 345.4,255.8 346.7,257.0 C348.0,258.1 349.2,259.6 350.4,260.7 C351.6,261.8 352.5,262.2 353.7,263.3 C355.0,264.4 357.1,266.7 357.8,267.3" stroke="#000" stroke-width="1.90" fill="none" stroke-linecap="round" stroke-linejoin="round"/>
<path d="M296.5,253.0 C297.5,253.0 300.4,253.1 302.5,253.3 C304.7,253.5 307.3,253.7 309.3,254.3 C311.4,254.9 312.9,255.8 314.7,256.9 C316.4,258.0 318.2,259.7 320.0,261.1 C321.8,262.4 323.5,263.9 325.3,265.2 C327.1,266.5 328.9,267.8 330.6,268.8 C332.4,269.7 334.2,270.4 335.9,270.8 C337.7,271.2 339.5,271.2 341.2,271.2 C342.8,271.3 344.1,271.0 345.7,270.9 C347.2,270.9 348.8,270.9 350.4,271.0 C352.0,271.0 353.7,271.1 355.3,271.2 C356.8,271.3 359.1,271.4 359.8,271.4" stroke="#000" stroke-width="2.50" fill="none" stroke-linecap="round" stroke-linejoin="round"/>
<path d="M296.5,251.4 C297.5,251.4 300.4,251.5 302.5,251.7 C304.7,251.9 308.2,252.4 309.3,252.6" stroke="#000" stroke-width="1.80" fill="none" stroke-linecap="round" stroke-linejoin="round"/>
<path d="M296.5,253.5 C297.5,253.6 300.4,253.8 302.5,254.2 C304.7,254.6 307.5,255.1 309.3,256.0 C311.2,256.9 312.1,258.2 313.6,259.6 C315.0,261.0 316.5,262.8 317.9,264.3 C319.2,265.7 320.4,267.0 321.6,268.2 C322.8,269.4 324.0,270.5 325.3,271.5 C326.6,272.5 328.1,273.4 329.6,274.0 C331.1,274.6 332.7,274.9 334.3,275.2 C336.0,275.5 337.7,275.7 339.7,275.8 C341.6,275.9 344.2,275.9 346.0,275.9 C347.8,275.9 348.8,275.8 350.4,275.8 C352.0,275.8 353.6,276.1 355.6,276.2 C357.5,276.3 359.7,276.1 362.0,276.2 C364.3,276.4 367.1,277.2 369.5,277.4 C371.8,277.5 373.6,277.9 376.1,277.0 C378.6,276.1 382.1,273.4 384.5,271.9 C386.9,270.5 388.0,269.7 390.3,268.5 C392.6,267.3 397.1,265.2 398.4,264.5" stroke="#000" stroke-width="2.00" fill="none" stroke-linecap="round" stroke-linejoin="round"/>
<path d="M350.4,260.7 C350.8,259.9 351.8,257.0 352.7,255.7 C353.7,254.5 354.9,253.6 356.3,253.1 C357.6,252.7 358.8,253.0 360.9,252.9 C362.9,252.9 365.7,252.4 368.4,252.8 C371.1,253.3 374.3,254.6 377.0,255.6 C379.7,256.6 382.2,257.9 384.5,259.0 C386.8,260.1 388.9,261.1 390.9,262.2 C393.0,263.3 395.5,264.7 396.8,265.4 C398.1,266.1 398.2,266.1 398.4,266.2" stroke="#000" stroke-width="2.20" fill="none" stroke-linecap="round" stroke-linejoin="round"/>
<path d="M352.3,269.0 C353.2,269.0 355.8,269.4 357.6,268.7 C359.4,268.0 361.2,266.5 363.0,264.8 C364.8,263.0 366.6,260.6 368.4,258.3 C370.2,256.1 372.0,253.4 373.8,251.2 C375.5,249.0 377.3,247.0 379.1,245.1 C380.9,243.3 383.0,241.4 384.5,240.0 C386.0,238.5 387.0,237.4 388.3,236.5 C389.6,235.6 390.6,235.0 392.3,234.5 C394.0,234.0 397.4,233.7 398.4,233.5" stroke="#000" stroke-width="2.00" fill="none" stroke-linecap="round" stroke-linejoin="round"/>
<path d="M357.8,271.1 C359.0,271.2 363.0,272.4 365.1,271.5 C367.2,270.6 368.7,268.0 370.5,265.8 C372.3,263.5 374.1,260.3 375.9,257.8 C377.7,255.3 379.5,252.8 381.3,250.5 C383.1,248.2 384.9,245.9 386.6,244.2 C388.4,242.4 390.5,240.9 391.9,240.0 C393.4,239.1 394.3,238.8 395.4,238.5 C396.5,238.2 397.9,238.1 398.4,238.0" stroke="#000" stroke-width="2.00" fill="none" stroke-linecap="round" stroke-linejoin="round"/>
<path d="M341.7,271.0 C342.4,270.9 344.7,270.9 346.2,270.8 C347.7,270.8 349.1,270.6 350.7,270.6 C352.3,270.6 353.7,270.5 355.8,270.7 C357.8,270.9 360.0,271.6 363.0,271.8 C366.0,272.1 370.2,272.5 373.8,272.1 C377.3,271.7 381.8,270.3 384.5,269.6 C387.3,268.8 388.0,268.2 390.3,267.4 C392.6,266.6 397.1,265.2 398.4,264.8" stroke="#000" stroke-width="1.90" fill="none" stroke-linecap="round" stroke-linejoin="round"/>
<path d="M357.6,273.0 C358.8,273.2 362.2,274.2 364.9,274.5 C367.6,274.9 371.2,275.2 373.8,275.1 C376.3,275.0 378.0,274.4 380.1,273.8 C382.3,273.2 384.6,272.6 386.6,271.7 C388.7,270.8 390.4,269.5 392.3,268.5 C394.3,267.5 397.4,266.2 398.4,265.8" stroke="#000" stroke-width="1.80" fill="none" stroke-linecap="round" stroke-linejoin="round"/>
<path d="M372.0,231.4 C373.0,231.0 376.1,229.6 378.1,229.0 C380.1,228.3 382.3,228.0 384.2,227.5 C386.2,227.0 388.3,225.9 389.8,226.0 C391.3,226.1 391.9,227.1 393.3,228.0 C394.8,228.9 397.6,231.1 398.4,231.7" stroke="#000" stroke-width="1.90" fill="none" stroke-linecap="round" stroke-linejoin="round"/>
<path d="M382.2,249.9 C383.2,249.5 386.4,248.0 388.3,247.5 C390.1,247.0 391.7,246.8 393.3,247.0 C395.0,247.2 397.6,248.2 398.4,248.5" stroke="#000" stroke-width="1.70" fill="none" stroke-linecap="round" stroke-linejoin="round"/>
<path d="M295.0,342.0 C295.4,341.2 296.4,339.6 297.5,337.5 C298.6,335.4 300.4,332.1 301.8,329.5 C303.2,326.9 304.6,324.1 306.2,321.6 C307.8,319.1 309.5,316.7 311.2,314.3 C312.9,311.9 314.5,309.5 316.4,307.4 C318.3,305.2 320.4,303.3 322.4,301.4 C324.4,299.5 326.6,297.6 328.6,296.2 C330.6,294.8 332.6,293.9 334.6,293.0 C336.6,292.1 339.0,291.4 340.8,290.9 C342.6,290.4 344.0,290.1 345.6,289.9 C347.2,289.7 348.8,289.6 350.5,289.6 C352.2,289.6 354.0,289.8 355.8,290.0 C357.6,290.2 359.2,290.4 361.1,291.1 C363.0,291.8 365.2,293.0 367.2,294.2 C369.2,295.4 371.4,296.5 373.3,298.2 C375.2,299.9 376.8,302.1 378.5,304.3 C380.2,306.5 381.9,308.9 383.5,311.4 C385.1,313.9 386.4,316.7 387.8,319.4 C389.2,322.1 390.2,325.0 391.6,327.7 C393.0,330.4 395.0,333.8 396.1,335.8 C397.2,337.9 397.7,339.3 398.0,340.0" stroke="#000" stroke-width="1.75" fill="none" stroke-linecap="round" stroke-linejoin="round"/>
<path d="M309.5,364.0 C309.8,363.0 310.7,359.8 311.3,358.2 C311.9,356.6 312.1,356.8 313.3,354.1 C314.6,351.4 316.9,346.1 318.8,342.0 C320.7,337.9 322.7,333.5 324.5,329.7 C326.3,325.9 328.0,322.8 329.7,319.4 C331.4,316.0 333.1,312.3 334.7,309.4 C336.3,306.5 337.8,304.2 339.3,301.8 C340.8,299.4 342.5,296.9 343.8,295.2 C345.1,293.5 346.2,292.3 347.3,291.5 C348.4,290.7 349.4,290.2 350.5,290.2 C351.6,290.2 352.8,290.6 354.0,291.4 C355.2,292.2 356.4,293.4 358.0,295.2 C359.6,297.0 361.7,299.9 363.6,302.3 C365.5,304.7 367.2,306.9 369.2,309.4 C371.1,311.9 373.3,314.8 375.3,317.5 C377.3,320.2 379.5,323.3 381.4,325.7 C383.3,328.1 384.8,330.0 386.5,332.0 C388.2,334.0 390.0,336.4 391.6,337.9 C393.2,339.4 394.9,340.1 396.1,340.9 C397.3,341.7 398.5,342.2 399.0,342.5" stroke="#000" stroke-width="1.75" fill="none" stroke-linecap="round" stroke-linejoin="round"/>
<path d="M310.1,364.0 C310.4,362.9 311.6,359.1 312.3,357.5 C312.9,355.8 312.7,356.7 313.8,354.2 C315.0,351.6 317.5,346.2 319.3,342.2 C321.2,338.1 323.2,333.7 325.0,329.9 C326.8,326.2 328.5,323.0 330.2,319.7 C331.9,316.3 333.6,312.6 335.1,309.7 C336.7,306.8 338.2,304.3 339.7,302.2 C341.2,300.1 342.7,298.5 344.1,297.1 C345.5,295.7 347.1,294.6 348.2,293.9 C349.3,293.2 349.7,292.8 350.5,292.8 C351.3,292.8 352.1,293.3 353.2,293.9 C354.3,294.5 355.6,294.8 357.3,296.3 C358.9,297.8 361.3,300.5 363.2,302.7 C365.2,305.0 366.9,307.3 368.8,309.8 C370.8,312.3 372.9,315.2 374.9,317.9 C376.9,320.6 379.1,323.7 381.0,326.1 C382.9,328.5 384.4,330.4 386.1,332.4 C387.8,334.4 389.6,336.8 391.2,338.3 C392.8,339.8 394.4,340.5 395.7,341.3 C397.0,342.1 398.5,342.8 399.0,343.1" stroke="#000" stroke-width="1.75" fill="none" stroke-linecap="round" stroke-linejoin="round"/>
<path d="M322.8,364.0 C323.1,363.0 323.4,361.5 324.5,358.2 C325.6,354.9 327.8,348.4 329.5,344.0 C331.2,339.6 333.1,335.6 334.7,331.8 C336.3,328.0 337.5,324.4 338.9,321.0 C340.2,317.6 341.5,314.0 342.8,311.4 C344.1,308.8 345.3,306.8 346.6,305.4 C347.9,304.0 349.2,303.2 350.5,303.1 C351.8,303.0 353.1,303.8 354.3,305.0 C355.6,306.2 356.8,307.9 358.0,310.4 C359.2,312.8 360.4,316.5 361.6,319.7 C362.8,322.9 364.0,325.7 365.2,329.7 C366.4,333.7 367.6,338.8 368.8,343.5 C370.0,348.2 371.5,354.8 372.3,358.2 C373.1,361.6 373.3,363.0 373.5,364.0" stroke="#000" stroke-width="1.75" fill="none" stroke-linecap="round" stroke-linejoin="round"/>
<path d="M323.4,364.0 C323.6,363.0 323.9,361.5 325.1,358.2 C326.2,354.9 328.3,348.6 330.0,344.2 C331.7,339.9 333.7,335.6 335.1,332.1 C336.5,328.7 337.1,326.6 338.4,323.6 C339.7,320.6 341.6,316.7 343.2,314.2 C344.7,311.6 346.4,309.9 347.6,308.6 C348.8,307.3 349.5,306.3 350.5,306.2 C351.5,306.1 352.2,307.1 353.4,308.2 C354.6,309.3 356.3,310.8 357.6,312.8 C358.9,314.7 360.0,317.2 361.2,320.1 C362.4,323.0 363.6,326.1 364.8,330.0 C366.0,334.0 367.1,339.0 368.3,343.7 C369.5,348.4 371.0,354.8 371.8,358.2 C372.5,361.6 372.8,363.0 372.9,364.0" stroke="#000" stroke-width="1.75" fill="none" stroke-linecap="round" stroke-linejoin="round"/>
<path d="M295.0,334.0 C295.4,334.6 296.3,335.8 297.5,337.5 C298.7,339.2 300.6,341.8 302.1,344.0 C303.6,346.2 305.0,348.6 306.5,351.0 C308.0,353.4 310.2,356.5 311.3,358.2 C312.4,359.9 312.7,360.5 313.0,361.0" stroke="#000" stroke-width="1.75" fill="none" stroke-linecap="round" stroke-linejoin="round"/>
<path d="M331.0,364.0 C331.6,363.0 333.4,359.6 334.7,358.2 C336.0,356.8 337.4,356.2 338.8,355.4 C340.2,354.5 341.5,353.7 342.8,353.1 C344.1,352.5 345.3,352.0 346.6,351.7 C347.9,351.4 349.0,351.3 350.5,351.2 C352.0,351.1 354.0,351.2 355.8,351.3 C357.6,351.4 359.0,351.6 361.1,351.7 C363.2,351.8 365.8,352.0 368.2,352.1 C370.6,352.2 373.3,352.2 375.3,352.1 C377.3,352.0 378.7,351.7 380.4,351.4 C382.1,351.1 384.0,350.7 385.5,350.1 C387.0,349.5 388.2,348.6 389.6,347.6 C391.0,346.6 392.5,345.1 393.6,344.0 C394.7,342.9 395.2,342.1 396.1,340.9 C397.0,339.7 398.5,337.6 399.0,337.0" stroke="#000" stroke-width="1.75" fill="none" stroke-linecap="round" stroke-linejoin="round"/>
<path d="M339.0,362.0 C339.9,361.3 342.6,358.6 344.5,357.6 C346.4,356.6 348.5,355.8 350.5,355.8 C352.5,355.8 354.6,356.6 356.5,357.6 C358.4,358.6 361.1,361.3 362.0,362.0" stroke="#000" stroke-width="1.75" fill="none" stroke-linecap="round" stroke-linejoin="round"/>
<path d="M388.0,360.0 C388.7,359.1 390.7,356.2 392.0,354.5 C393.3,352.8 394.8,350.9 396.0,349.5 C397.2,348.1 398.5,346.6 399.0,346.0" stroke="#000" stroke-width="1.75" fill="none" stroke-linecap="round" stroke-linejoin="round"/>
</g>
<g clip-path="url(#cd3)">
<path d="M420.6,215.2 C421.8,215.3 425.1,215.7 427.6,216.0 C430.1,216.3 432.6,216.7 435.5,217.0 C438.5,217.3 442.2,217.7 445.5,218.0 C448.8,218.3 452.2,218.5 455.5,218.8 C458.8,219.1 462.9,219.3 465.4,219.6 C467.9,219.8 468.9,220.1 470.4,220.3 C471.9,220.5 473.0,220.6 474.4,220.6 C475.8,220.6 476.6,220.5 478.5,220.3 C480.4,220.1 482.8,219.8 485.8,219.6 C488.7,219.3 492.3,219.1 496.1,218.8 C499.9,218.5 504.0,218.3 508.5,218.0 C513.0,217.7 520.5,217.3 523.0,217.2" stroke="#000" stroke-width="3.40" fill="none" stroke-linecap="round" stroke-linejoin="round"/>
<path d="M420.6,213.8 C422.3,213.9 427.2,214.2 430.6,214.5 C433.9,214.8 437.2,215.2 440.5,215.5 C443.8,215.8 446.3,216.1 450.5,216.3 C454.6,216.5 461.4,216.7 465.4,216.8 C469.4,216.9 470.2,217.1 474.4,217.0 C478.7,216.9 485.6,216.7 490.9,216.5 C496.3,216.3 501.1,215.9 506.4,215.6 C511.8,215.3 520.2,214.9 523.0,214.8" stroke="#000" stroke-width="1.90" fill="none" stroke-linecap="round" stroke-linejoin="round"/>
<path d="M458.5,212.5 C459.3,213.1 461.8,215.0 463.4,216.0 C465.1,217.0 466.6,218.0 468.4,218.6 C470.2,219.2 472.4,219.6 474.4,219.6 C476.4,219.6 478.7,219.2 480.6,218.6 C482.5,218.0 484.2,217.0 485.8,216.0 C487.3,215.0 489.2,213.1 489.9,212.5" stroke="#000" stroke-width="1.80" fill="none" stroke-linecap="round" stroke-linejoin="round"/>
<path d="M420.6,218.5 C421.8,218.4 425.4,218.1 427.6,217.8 C429.7,217.5 431.7,216.9 433.6,216.5 C435.4,216.1 436.9,215.6 438.5,215.2 C440.2,214.8 441.7,214.4 443.5,214.0 C445.3,213.6 448.5,213.2 449.5,213.0" stroke="#000" stroke-width="1.80" fill="none" stroke-linecap="round" stroke-linejoin="round"/>
<path d="M420.6,222.7 C421.4,222.6 423.8,222.3 425.6,222.0 C427.4,221.7 429.4,221.4 431.6,221.0 C433.7,220.6 436.2,219.9 438.5,219.5 C440.9,219.1 444.3,218.8 445.5,218.6" stroke="#000" stroke-width="1.90" fill="none" stroke-linecap="round" stroke-linejoin="round"/>
<path d="M420.6,224.5 C421.8,224.4 425.4,224.3 427.6,224.2 C429.7,224.1 431.7,223.9 433.6,223.8 C435.4,223.7 436.6,223.5 438.6,223.8 C440.7,224.1 443.4,224.6 446.0,225.8 C448.6,227.0 451.8,229.2 454.5,231.0 C457.1,232.9 459.6,235.1 461.8,236.9 C464.1,238.6 466.0,240.5 468.1,241.7 C470.2,242.8 472.5,243.5 474.4,243.8 C476.3,244.1 477.5,244.2 479.3,243.7 C481.0,243.2 483.1,241.6 484.7,240.8 C486.4,240.1 487.7,239.7 489.1,239.0 C490.4,238.2 491.5,237.6 493.0,236.3 C494.5,234.9 496.3,232.6 497.9,231.1 C499.4,229.5 501.0,228.0 502.3,227.0 C503.6,226.0 504.0,225.7 505.5,224.8 C506.9,223.9 509.3,222.5 511.0,221.6 C512.7,220.7 513.7,220.2 515.7,219.5 C517.7,218.8 521.7,217.8 523.0,217.5" stroke="#000" stroke-width="2.00" fill="none" stroke-linecap="round" stroke-linejoin="round"/>
<path d="M420.6,228.6 C421.8,228.7 425.5,228.9 427.6,229.3 C429.7,229.7 431.5,230.6 433.4,231.3 C435.2,232.0 436.8,232.9 438.5,233.8 C440.3,234.7 442.1,236.0 443.9,237.0 C445.7,238.0 447.7,239.0 449.5,239.9 C451.3,240.8 452.8,241.6 454.5,242.5 C456.2,243.4 458.0,244.0 459.8,245.3 C461.5,246.5 463.2,248.1 464.9,249.9 C466.7,251.8 468.7,254.3 470.2,256.4 C471.7,258.4 472.6,262.6 474.1,262.4 C475.6,262.2 477.5,257.4 479.3,255.0 C481.0,252.6 482.9,250.2 484.7,248.1 C486.6,246.1 488.7,244.2 490.2,242.5 C491.8,240.8 492.9,239.4 494.0,237.8 C495.2,236.2 496.1,234.4 497.1,232.9 C498.2,231.5 499.0,230.2 500.2,229.0 C501.4,227.8 502.8,226.6 504.4,225.5 C505.9,224.4 507.5,223.3 509.5,222.5 C511.6,221.7 514.5,221.0 516.8,220.5 C519.0,220.0 521.9,219.7 523.0,219.5" stroke="#000" stroke-width="2.60" fill="none" stroke-linecap="round" stroke-linejoin="round"/>
<path d="M420.6,230.5 C421.9,230.7 426.0,231.2 428.2,231.6 C430.3,232.0 431.8,232.3 433.6,233.0 C435.3,233.7 436.6,234.4 438.6,235.6 C440.7,236.8 443.9,238.4 446.0,240.2 C448.1,241.9 449.5,244.1 451.3,246.1 C453.0,248.2 454.8,250.3 456.6,252.4 C458.3,254.5 460.2,256.7 461.8,258.7 C463.5,260.8 465.2,263.2 466.5,264.7 C467.9,266.2 468.7,266.7 469.9,267.5 C471.2,268.2 473.4,269.1 474.1,269.5" stroke="#000" stroke-width="2.00" fill="none" stroke-linecap="round" stroke-linejoin="round"/>
<path d="M420.6,224.0 C421.3,224.4 423.3,225.5 424.6,226.5 C425.9,227.5 427.3,228.7 428.6,230.0 C429.8,231.3 430.9,232.8 432.1,234.5 C433.2,236.2 433.9,238.0 435.5,240.0 C437.2,242.0 439.7,244.0 441.8,246.3 C443.9,248.6 446.0,251.2 448.1,253.7 C450.2,256.1 452.5,258.8 454.5,261.1 C456.4,263.3 458.0,265.4 459.8,267.0 C461.5,268.6 463.2,270.0 464.9,270.7 C466.7,271.3 468.7,271.1 470.2,271.1 C471.7,271.1 472.8,270.8 474.1,270.8 C475.4,270.8 476.8,270.9 478.0,271.1 C479.3,271.2 480.4,271.8 481.5,271.7 C482.6,271.6 484.2,270.6 484.7,270.4" stroke="#000" stroke-width="1.90" fill="none" stroke-linecap="round" stroke-linejoin="round"/>
<path d="M420.6,244.6 C421.6,244.8 424.5,245.4 426.6,245.8 C428.7,246.2 431.3,246.7 433.4,247.0 C435.4,247.3 436.6,247.5 438.6,247.9 C440.7,248.3 443.2,248.7 445.5,249.2 C447.8,249.6 450.4,250.1 452.4,250.4 C454.4,250.8 455.9,250.9 457.5,251.2 C459.0,251.4 460.4,251.5 461.8,252.1 C463.3,252.7 465.0,253.7 466.4,254.7 C467.9,255.8 469.1,257.2 470.4,258.4 C471.7,259.7 472.9,261.2 474.1,262.4 C475.3,263.6 476.2,264.2 477.5,265.5 C478.8,266.7 480.9,269.1 481.6,269.8" stroke="#000" stroke-width="1.90" fill="none" stroke-linecap="round" stroke-linejoin="round"/>
<path d="M420.6,253.0 C421.6,253.0 424.5,253.1 426.6,253.3 C428.7,253.5 431.3,253.7 433.4,254.3 C435.4,254.9 436.9,255.8 438.6,256.9 C440.4,258.0 442.2,259.7 443.9,261.1 C445.7,262.5 447.4,264.0 449.2,265.4 C451.0,266.8 452.7,268.3 454.5,269.4 C456.2,270.6 458.0,271.6 459.8,272.3 C461.5,273.1 463.3,273.5 464.9,273.9 C466.5,274.3 467.9,274.4 469.4,274.7 C470.9,274.9 472.5,275.3 474.1,275.4 C475.7,275.5 477.5,275.4 479.1,275.2 C480.7,275.0 482.9,274.4 483.7,274.2" stroke="#000" stroke-width="2.50" fill="none" stroke-linecap="round" stroke-linejoin="round"/>
<path d="M420.6,251.4 C421.6,251.4 424.5,251.5 426.6,251.7 C428.7,251.9 432.2,252.4 433.4,252.6" stroke="#000" stroke-width="1.80" fill="none" stroke-linecap="round" stroke-linejoin="round"/>
<path d="M420.6,253.5 C421.6,253.6 424.5,253.8 426.6,254.2 C428.7,254.6 431.5,255.1 433.4,256.0 C435.2,256.9 436.1,258.2 437.5,259.6 C438.9,261.0 440.5,262.9 441.8,264.3 C443.2,265.7 444.3,267.0 445.5,268.3 C446.7,269.5 447.9,270.8 449.2,271.8 C450.5,272.9 452.0,273.9 453.5,274.8 C455.0,275.6 456.5,276.2 458.2,277.0 C459.8,277.8 461.5,278.6 463.4,279.6 C465.4,280.5 467.9,281.9 469.7,282.5 C471.5,283.1 472.5,283.0 474.1,283.1 C475.7,283.2 477.4,283.3 479.4,282.8 C481.3,282.3 483.5,280.6 485.9,280.0 C488.2,279.3 491.1,279.3 493.5,278.9 C495.9,278.5 497.7,278.7 500.2,277.5 C502.8,276.4 506.4,273.5 508.8,272.0 C511.2,270.5 512.3,269.7 514.7,268.5 C517.0,267.3 521.6,265.2 523.0,264.5" stroke="#000" stroke-width="2.00" fill="none" stroke-linecap="round" stroke-linejoin="round"/>
<path d="M474.1,262.4 C474.5,261.5 475.5,258.6 476.5,257.2 C477.5,255.9 478.7,255.0 480.1,254.5 C481.5,253.9 482.7,254.2 484.7,254.0 C486.8,253.8 489.6,253.1 492.4,253.4 C495.1,253.7 498.4,254.8 501.2,255.8 C503.9,256.7 506.4,257.9 508.8,259.0 C511.2,260.1 513.2,261.1 515.3,262.2 C517.4,263.3 520.0,264.7 521.3,265.4 C522.6,266.1 522.7,266.1 523.0,266.2" stroke="#000" stroke-width="2.20" fill="none" stroke-linecap="round" stroke-linejoin="round"/>
<path d="M476.1,272.4 C477.0,272.2 479.6,272.5 481.4,271.4 C483.2,270.4 485.1,268.2 486.9,266.1 C488.7,264.0 490.6,261.3 492.4,258.9 C494.2,256.4 496.0,253.7 497.9,251.5 C499.7,249.2 501.5,247.2 503.3,245.3 C505.2,243.3 507.3,241.5 508.8,240.0 C510.4,238.5 511.3,237.4 512.6,236.5 C513.9,235.6 515.0,235.0 516.8,234.5 C518.5,234.0 521.9,233.7 523.0,233.5" stroke="#000" stroke-width="2.00" fill="none" stroke-linecap="round" stroke-linejoin="round"/>
<path d="M481.6,274.4 C482.9,274.2 486.9,274.5 489.1,273.2 C491.2,271.8 492.7,268.8 494.5,266.3 C496.4,263.8 498.2,260.6 500.0,258.0 C501.8,255.3 503.7,252.9 505.5,250.6 C507.3,248.3 509.2,246.0 511.0,244.2 C512.8,242.4 514.9,240.9 516.3,240.0 C517.8,239.1 518.8,238.8 519.9,238.5 C521.0,238.2 522.4,238.1 523.0,238.0" stroke="#000" stroke-width="2.00" fill="none" stroke-linecap="round" stroke-linejoin="round"/>
<path d="M465.4,273.7 C466.2,273.8 468.4,274.4 469.9,274.6 C471.4,274.8 472.8,274.8 474.4,274.8 C476.0,274.7 477.5,274.5 479.6,274.3 C481.7,274.2 483.9,274.3 486.9,274.0 C489.9,273.7 494.2,273.3 497.9,272.6 C501.5,271.9 506.0,270.5 508.8,269.6 C511.6,268.7 512.3,268.2 514.7,267.4 C517.0,266.6 521.6,265.2 523.0,264.8" stroke="#000" stroke-width="1.90" fill="none" stroke-linecap="round" stroke-linejoin="round"/>
<path d="M481.4,277.2 C482.7,277.1 486.1,277.0 488.9,276.8 C491.6,276.5 495.3,276.2 497.9,275.8 C500.4,275.3 502.2,274.7 504.4,274.0 C506.5,273.3 508.9,272.6 511.0,271.7 C513.0,270.8 514.8,269.5 516.8,268.5 C518.8,267.5 521.9,266.2 523.0,265.8" stroke="#000" stroke-width="1.80" fill="none" stroke-linecap="round" stroke-linejoin="round"/>
<path d="M496.1,231.4 C497.1,231.0 500.2,229.7 502.3,229.0 C504.4,228.3 506.5,228.0 508.5,227.5 C510.5,227.0 512.6,225.9 514.2,226.0 C515.7,226.1 516.3,227.1 517.8,228.0 C519.3,228.9 522.1,231.1 523.0,231.7" stroke="#000" stroke-width="1.90" fill="none" stroke-linecap="round" stroke-linejoin="round"/>
<path d="M506.4,250.0 C507.5,249.6 510.7,248.0 512.6,247.5 C514.5,247.0 516.1,246.8 517.8,247.0 C519.5,247.2 522.1,248.2 523.0,248.5" stroke="#000" stroke-width="1.70" fill="none" stroke-linecap="round" stroke-linejoin="round"/>
<path d="M419.0,338.0 C419.4,337.3 420.4,335.7 421.5,333.8 C422.6,331.9 424.4,328.9 425.8,326.5 C427.2,324.1 428.6,322.0 430.2,319.6 C431.8,317.2 433.6,314.6 435.3,312.2 C437.0,309.8 438.5,307.4 440.4,305.3 C442.3,303.2 444.5,301.2 446.5,299.4 C448.5,297.5 450.6,295.6 452.6,294.2 C454.6,292.8 456.7,291.9 458.7,291.0 C460.7,290.1 463.0,289.4 464.8,288.9 C466.6,288.4 467.9,288.1 469.5,287.9 C471.1,287.7 472.6,287.6 474.3,287.6 C476.0,287.6 477.9,287.8 479.7,288.0 C481.5,288.2 483.2,288.4 485.1,289.1 C487.0,289.8 489.2,291.0 491.2,292.2 C493.2,293.4 495.4,294.5 497.3,296.2 C499.2,297.9 500.7,300.2 502.4,302.4 C504.1,304.6 506.0,307.1 507.5,309.4 C509.0,311.7 510.2,314.0 511.6,316.4 C513.0,318.8 514.1,320.9 515.6,323.6 C517.1,326.3 519.5,330.6 520.7,332.8 C521.9,335.0 522.6,336.3 523.0,337.0" stroke="#000" stroke-width="1.75" fill="none" stroke-linecap="round" stroke-linejoin="round"/>
<path d="M433.5,364.0 C433.8,363.0 434.5,360.5 435.3,358.2 C436.1,355.9 437.0,353.3 438.3,350.1 C439.6,346.9 441.7,342.6 443.4,338.9 C445.1,335.2 446.8,331.2 448.5,327.7 C450.2,324.2 451.9,321.2 453.6,318.0 C455.3,314.8 457.1,311.2 458.7,308.4 C460.3,305.5 461.8,303.3 463.3,300.9 C464.8,298.5 466.5,296.0 467.8,294.2 C469.1,292.4 470.1,291.1 471.2,290.2 C472.3,289.3 473.2,288.6 474.3,288.6 C475.4,288.6 476.5,289.1 477.8,290.0 C479.1,290.9 480.5,292.3 482.1,294.2 C483.8,296.1 485.9,298.9 487.7,301.3 C489.5,303.7 491.3,305.9 493.2,308.4 C495.1,310.8 497.3,313.5 499.3,316.0 C501.3,318.5 503.5,321.3 505.4,323.6 C507.3,325.9 508.8,327.7 510.5,329.6 C512.2,331.5 513.9,333.2 515.6,334.8 C517.3,336.4 519.5,337.9 520.7,338.9 C521.9,339.8 522.6,340.2 523.0,340.5" stroke="#000" stroke-width="1.75" fill="none" stroke-linecap="round" stroke-linejoin="round"/>
<path d="M434.1,364.0 C434.4,363.0 435.1,360.5 435.9,358.2 C436.6,355.9 437.5,353.3 438.8,350.2 C440.2,347.0 442.2,342.8 443.9,339.1 C445.6,335.4 447.3,331.4 449.0,327.9 C450.7,324.5 452.4,321.5 454.1,318.3 C455.8,315.1 457.5,311.6 459.1,308.7 C460.7,305.9 462.1,303.5 463.7,301.3 C465.3,299.1 467.3,296.9 468.8,295.4 C470.2,294.0 471.3,293.3 472.2,292.6 C473.1,291.9 473.5,291.4 474.3,291.4 C475.1,291.4 475.6,291.9 476.8,292.5 C478.0,293.1 479.6,293.6 481.4,295.2 C483.1,296.7 485.4,299.4 487.3,301.7 C489.2,304.0 490.9,306.4 492.8,308.8 C494.8,311.2 496.9,313.9 498.9,316.4 C500.9,318.9 503.1,321.7 505.0,324.0 C506.9,326.3 508.4,328.1 510.1,330.0 C511.8,331.9 513.5,333.7 515.2,335.2 C516.9,336.7 519.0,338.3 520.3,339.3 C521.6,340.2 522.5,340.8 523.0,341.1" stroke="#000" stroke-width="1.75" fill="none" stroke-linecap="round" stroke-linejoin="round"/>
<path d="M446.8,364.0 C447.1,363.0 447.4,361.7 448.5,358.2 C449.6,354.7 451.8,348.1 453.5,343.0 C455.2,337.9 457.2,332.0 458.7,327.7 C460.2,323.4 461.3,320.2 462.7,317.0 C464.1,313.8 465.5,311.0 466.8,308.4 C468.1,305.8 469.2,303.1 470.5,301.6 C471.8,300.1 473.0,299.5 474.3,299.4 C475.6,299.3 476.9,299.9 478.2,301.2 C479.5,302.5 480.8,304.8 482.1,307.4 C483.4,310.0 484.8,313.6 486.1,317.0 C487.5,320.4 488.9,323.4 490.2,327.7 C491.5,331.9 492.8,337.4 494.2,342.5 C495.6,347.6 497.4,354.6 498.3,358.2 C499.2,361.8 499.3,363.0 499.5,364.0" stroke="#000" stroke-width="1.75" fill="none" stroke-linecap="round" stroke-linejoin="round"/>
<path d="M447.4,364.0 C447.6,363.0 447.9,361.7 449.1,358.2 C450.2,354.7 452.3,348.2 454.0,343.2 C455.7,338.1 457.6,332.3 459.2,328.0 C460.7,323.7 461.7,320.2 463.1,317.4 C464.4,314.6 465.9,312.9 467.3,311.0 C468.7,309.0 470.3,306.8 471.5,305.6 C472.7,304.4 473.4,303.6 474.3,303.5 C475.2,303.4 476.0,304.1 477.2,305.2 C478.4,306.3 480.2,308.1 481.7,310.2 C483.1,312.2 484.4,314.4 485.7,317.4 C487.1,320.4 488.4,323.8 489.8,328.0 C491.1,332.2 492.4,337.7 493.7,342.7 C495.0,347.8 496.9,354.7 497.8,358.2 C498.6,361.7 498.8,363.0 498.9,364.0" stroke="#000" stroke-width="1.75" fill="none" stroke-linecap="round" stroke-linejoin="round"/>
<path d="M419.0,330.0 C419.4,330.6 420.5,332.3 421.5,333.8 C422.5,335.3 423.7,337.2 424.8,338.9 C425.9,340.6 427.1,342.3 428.2,344.0 C429.3,345.7 430.3,347.4 431.3,349.1 C432.3,350.8 433.3,352.6 434.3,354.1 C435.3,355.6 436.5,357.1 437.3,358.2 C438.1,359.3 438.7,360.5 439.0,361.0" stroke="#000" stroke-width="1.75" fill="none" stroke-linecap="round" stroke-linejoin="round"/>
<path d="M419.0,358.5 C419.4,358.4 420.3,358.1 421.5,357.8 C422.7,357.6 424.6,357.3 426.0,357.0 C427.4,356.7 429.0,356.4 430.2,356.2 C431.4,355.9 432.5,355.6 433.0,355.5" stroke="#000" stroke-width="1.75" fill="none" stroke-linecap="round" stroke-linejoin="round"/>
<path d="M448.0,362.0 C448.4,361.4 449.1,359.6 450.5,358.2 C451.9,356.8 454.5,355.1 456.5,353.8 C458.5,352.5 460.7,351.2 462.7,350.1 C464.7,349.0 466.6,348.0 468.5,347.4 C470.4,346.8 472.3,346.5 474.3,346.3 C476.3,346.1 478.6,346.3 480.7,346.3 C482.8,346.3 485.0,346.3 487.1,346.4 C489.2,346.5 491.2,346.6 493.2,346.7 C495.2,346.8 497.3,347.1 499.3,347.0 C501.3,346.9 503.4,346.7 505.4,346.4 C507.4,346.1 509.7,345.6 511.5,345.0 C513.3,344.4 514.5,343.7 516.0,342.8 C517.5,341.9 519.5,340.7 520.7,339.9 C521.9,339.1 522.6,338.3 523.0,338.0" stroke="#000" stroke-width="1.75" fill="none" stroke-linecap="round" stroke-linejoin="round"/>
<path d="M462.0,362.0 C463.0,361.3 465.9,358.6 468.0,357.6 C470.1,356.6 472.2,355.8 474.3,355.8 C476.4,355.8 478.7,356.6 480.6,357.6 C482.6,358.6 485.1,361.3 486.0,362.0" stroke="#000" stroke-width="1.75" fill="none" stroke-linecap="round" stroke-linejoin="round"/>
<path d="M511.0,362.0 C511.4,361.4 512.6,359.4 513.6,358.2 C514.6,356.9 515.8,355.9 517.0,354.5 C518.2,353.1 519.7,351.4 520.7,350.1 C521.7,348.9 522.6,347.5 523.0,347.0" stroke="#000" stroke-width="1.75" fill="none" stroke-linecap="round" stroke-linejoin="round"/>
</g>
<g clip-path="url(#cd4)">
<path d="M545.0,215.2 C546.2,215.3 549.5,215.7 552.0,216.0 C554.5,216.3 557.0,216.7 560.0,217.0 C563.0,217.3 566.7,217.7 570.0,218.0 C573.3,218.3 576.7,218.5 580.0,218.8 C583.3,219.1 587.5,219.3 590.0,219.6 C592.5,219.8 593.5,220.1 595.0,220.3 C596.5,220.5 597.7,220.6 599.0,220.6 C600.3,220.6 601.2,220.5 603.0,220.3 C604.8,220.1 607.2,219.8 610.0,219.6 C612.8,219.3 616.3,219.1 620.0,218.8 C623.7,218.5 627.7,218.3 632.0,218.0 C636.3,217.7 643.7,217.3 646.0,217.2" stroke="#000" stroke-width="3.40" fill="none" stroke-linecap="round" stroke-linejoin="round"/>
<path d="M545.0,213.8 C546.7,213.9 551.7,214.2 555.0,214.5 C558.3,214.8 561.7,215.2 565.0,215.5 C568.3,215.8 570.8,216.1 575.0,216.3 C579.2,216.5 586.0,216.7 590.0,216.8 C594.0,216.9 594.8,217.1 599.0,217.0 C603.2,216.9 609.8,216.7 615.0,216.5 C620.2,216.3 624.8,215.9 630.0,215.6 C635.2,215.3 643.3,214.9 646.0,214.8" stroke="#000" stroke-width="1.90" fill="none" stroke-linecap="round" stroke-linejoin="round"/>
<path d="M583.0,212.5 C583.8,213.1 586.3,215.0 588.0,216.0 C589.7,217.0 591.2,218.0 593.0,218.6 C594.8,219.2 597.0,219.6 599.0,219.6 C601.0,219.6 603.2,219.2 605.0,218.6 C606.8,218.0 608.5,217.0 610.0,216.0 C611.5,215.0 613.3,213.1 614.0,212.5" stroke="#000" stroke-width="1.80" fill="none" stroke-linecap="round" stroke-linejoin="round"/>
<path d="M545.0,218.5 C546.2,218.4 549.8,218.1 552.0,217.8 C554.2,217.5 556.2,216.9 558.0,216.5 C559.8,216.1 561.3,215.6 563.0,215.2 C564.7,214.8 566.2,214.4 568.0,214.0 C569.8,213.6 573.0,213.2 574.0,213.0" stroke="#000" stroke-width="1.80" fill="none" stroke-linecap="round" stroke-linejoin="round"/>
<path d="M545.0,222.7 C545.8,222.6 548.2,222.3 550.0,222.0 C551.8,221.7 553.8,221.4 556.0,221.0 C558.2,220.6 560.7,219.9 563.0,219.5 C565.3,219.1 568.8,218.8 570.0,218.6" stroke="#000" stroke-width="1.90" fill="none" stroke-linecap="round" stroke-linejoin="round"/>
<path d="M545.0,224.5 C546.2,224.4 549.8,224.3 552.0,224.2 C554.2,224.1 556.1,223.9 558.0,223.8 C559.9,223.7 561.0,223.5 563.1,223.8 C565.2,224.1 567.9,224.6 570.5,225.8 C573.1,227.0 576.4,229.2 579.0,231.1 C581.6,233.0 584.1,235.4 586.4,237.5 C588.7,239.6 590.6,242.1 592.7,243.6 C594.8,245.1 597.2,246.2 599.0,246.6 C600.8,247.0 602.0,246.8 603.7,246.1 C605.4,245.3 607.4,243.2 609.0,242.1 C610.6,241.0 611.9,240.5 613.2,239.6 C614.5,238.7 615.6,237.9 617.0,236.5 C618.4,235.1 620.2,232.7 621.7,231.1 C623.2,229.5 624.8,228.1 626.0,227.0 C627.2,225.9 627.7,225.7 629.1,224.8 C630.5,223.9 632.8,222.5 634.4,221.6 C636.0,220.7 637.1,220.2 639.0,219.5 C640.9,218.8 644.8,217.8 646.0,217.5" stroke="#000" stroke-width="2.00" fill="none" stroke-linecap="round" stroke-linejoin="round"/>
<path d="M545.0,228.6 C546.2,228.7 549.9,228.9 552.0,229.3 C554.1,229.8 556.0,230.6 557.8,231.3 C559.6,232.1 561.2,232.9 563.0,233.8 C564.8,234.8 566.6,236.0 568.4,237.0 C570.2,238.0 572.2,239.0 574.0,240.0 C575.8,241.0 577.3,241.8 579.0,242.8 C580.7,243.8 582.5,244.8 584.3,246.2 C586.0,247.6 587.8,249.4 589.5,251.2 C591.2,253.0 593.3,255.3 594.8,257.2 C596.3,259.1 597.2,262.6 598.7,262.4 C600.2,262.2 602.0,258.1 603.7,256.0 C605.4,253.8 607.2,251.6 609.0,249.5 C610.8,247.4 612.8,245.1 614.3,243.2 C615.8,241.3 616.9,239.7 618.0,238.0 C619.1,236.3 620.0,234.5 621.0,233.0 C622.0,231.5 622.8,230.2 624.0,229.0 C625.2,227.8 626.5,226.6 628.0,225.5 C629.5,224.4 631.0,223.3 633.0,222.5 C635.0,221.7 637.8,221.0 640.0,220.5 C642.2,220.0 645.0,219.7 646.0,219.5" stroke="#000" stroke-width="2.60" fill="none" stroke-linecap="round" stroke-linejoin="round"/>
<path d="M545.0,230.5 C546.3,230.7 550.4,231.2 552.6,231.6 C554.8,232.0 556.2,232.3 558.0,233.0 C559.8,233.7 561.0,234.4 563.1,235.6 C565.2,236.8 568.4,238.4 570.5,240.2 C572.6,242.0 574.0,244.2 575.8,246.3 C577.6,248.4 579.3,250.6 581.1,252.7 C582.9,254.8 584.7,256.9 586.4,259.0 C588.1,261.1 589.8,263.4 591.1,265.0 C592.5,266.6 593.2,267.3 594.5,268.3 C595.8,269.3 598.0,270.4 598.7,270.8" stroke="#000" stroke-width="2.00" fill="none" stroke-linecap="round" stroke-linejoin="round"/>
<path d="M545.0,224.0 C545.7,224.4 547.7,225.5 549.0,226.5 C550.3,227.5 551.8,228.7 553.0,230.0 C554.2,231.3 555.3,232.8 556.5,234.5 C557.7,236.2 558.4,238.0 560.0,240.0 C561.6,242.0 564.2,244.0 566.3,246.3 C568.4,248.6 570.5,251.2 572.6,253.7 C574.7,256.2 577.0,258.8 579.0,261.1 C581.0,263.4 582.5,265.6 584.3,267.3 C586.0,269.1 587.8,270.7 589.5,271.6 C591.2,272.5 593.3,272.5 594.8,272.6 C596.3,272.7 597.4,272.4 598.7,272.4 C600.0,272.4 601.3,272.5 602.5,272.6 C603.7,272.7 604.8,273.2 605.9,273.0 C607.0,272.8 608.5,271.5 609.0,271.2" stroke="#000" stroke-width="1.90" fill="none" stroke-linecap="round" stroke-linejoin="round"/>
<path d="M545.0,244.6 C546.0,244.8 548.9,245.4 551.0,245.8 C553.1,246.2 555.8,246.7 557.8,247.0 C559.8,247.3 561.1,247.5 563.1,247.9 C565.1,248.3 567.7,248.8 570.0,249.2 C572.3,249.6 574.9,250.2 576.9,250.6 C578.9,251.0 580.4,251.2 582.0,251.6 C583.6,252.0 584.9,252.2 586.4,252.9 C587.9,253.6 589.6,254.6 591.0,255.6 C592.4,256.6 593.7,257.9 595.0,259.0 C596.3,260.1 597.5,261.2 598.7,262.4 C599.9,263.6 600.8,264.6 602.0,266.0 C603.2,267.4 605.3,270.0 606.0,270.8" stroke="#000" stroke-width="1.90" fill="none" stroke-linecap="round" stroke-linejoin="round"/>
<path d="M545.0,253.0 C546.0,253.1 548.9,253.1 551.0,253.3 C553.1,253.5 555.8,253.7 557.8,254.3 C559.8,254.9 561.3,255.8 563.1,256.9 C564.9,258.0 566.6,259.7 568.4,261.1 C570.2,262.5 571.9,264.0 573.7,265.4 C575.5,266.8 577.2,268.4 579.0,269.6 C580.8,270.9 582.5,272.0 584.3,272.9 C586.0,273.8 587.9,274.6 589.5,275.2 C591.1,275.8 592.5,276.2 594.0,276.6 C595.5,277.0 597.1,277.6 598.7,277.7 C600.3,277.8 602.0,277.5 603.5,277.2 C605.0,276.9 607.2,275.9 608.0,275.6" stroke="#000" stroke-width="2.50" fill="none" stroke-linecap="round" stroke-linejoin="round"/>
<path d="M545.0,251.4 C546.0,251.4 548.9,251.5 551.0,251.7 C553.1,251.9 556.7,252.4 557.8,252.6" stroke="#000" stroke-width="1.80" fill="none" stroke-linecap="round" stroke-linejoin="round"/>
<path d="M545.0,253.5 C546.0,253.6 548.9,253.8 551.0,254.2 C553.1,254.6 556.0,255.1 557.8,256.0 C559.6,256.9 560.6,258.2 562.0,259.6 C563.4,261.0 565.0,262.9 566.3,264.3 C567.6,265.8 568.8,267.0 570.0,268.3 C571.2,269.6 572.4,270.8 573.7,271.9 C575.0,273.0 576.5,274.1 578.0,275.0 C579.5,275.9 581.0,276.6 582.7,277.6 C584.4,278.6 586.1,279.7 588.0,281.0 C589.9,282.3 592.5,284.4 594.3,285.3 C596.1,286.2 597.1,286.2 598.7,286.3 C600.3,286.4 601.9,286.4 603.8,285.6 C605.7,284.8 607.8,282.4 610.1,281.4 C612.4,280.3 615.2,279.9 617.5,279.3 C619.8,278.7 621.5,278.8 624.0,277.6 C626.5,276.4 630.0,273.5 632.3,272.0 C634.6,270.5 635.7,269.8 638.0,268.5 C640.3,267.2 644.7,265.2 646.0,264.5" stroke="#000" stroke-width="2.00" fill="none" stroke-linecap="round" stroke-linejoin="round"/>
<path d="M598.7,262.4 C599.1,261.7 600.0,259.1 601.0,258.0 C602.0,256.9 603.2,256.0 604.5,255.5 C605.8,255.0 607.0,255.1 609.0,254.8 C611.0,254.5 613.8,253.5 616.4,253.7 C619.0,253.9 622.2,254.9 624.9,255.8 C627.5,256.7 630.0,257.9 632.3,259.0 C634.6,260.1 636.6,261.1 638.6,262.2 C640.6,263.3 643.2,264.7 644.4,265.4 C645.6,266.1 645.7,266.1 646.0,266.2" stroke="#000" stroke-width="2.20" fill="none" stroke-linecap="round" stroke-linejoin="round"/>
<path d="M600.6,274.2 C601.5,273.9 604.0,274.0 605.8,272.7 C607.5,271.4 609.3,268.7 611.1,266.4 C612.9,264.1 614.6,261.5 616.4,259.0 C618.2,256.5 619.9,253.9 621.7,251.6 C623.5,249.3 625.2,247.2 627.0,245.3 C628.8,243.4 630.8,241.5 632.3,240.0 C633.8,238.5 634.7,237.4 636.0,236.5 C637.3,235.6 638.3,235.0 640.0,234.5 C641.7,234.0 645.0,233.7 646.0,233.5" stroke="#000" stroke-width="2.00" fill="none" stroke-linecap="round" stroke-linejoin="round"/>
<path d="M606.0,276.0 C607.2,275.6 611.1,275.4 613.2,273.8 C615.3,272.2 616.7,269.0 618.5,266.4 C620.3,263.8 622.0,260.6 623.8,258.0 C625.6,255.4 627.3,252.9 629.1,250.6 C630.9,248.3 632.6,246.0 634.4,244.2 C636.1,242.4 638.2,240.9 639.6,240.0 C641.0,239.1 641.9,238.8 643.0,238.5 C644.1,238.2 645.5,238.1 646.0,238.0" stroke="#000" stroke-width="2.00" fill="none" stroke-linecap="round" stroke-linejoin="round"/>
<path d="M590.0,275.0 C590.8,275.3 593.0,276.3 594.5,276.6 C596.0,276.9 597.4,277.1 599.0,277.0 C600.6,276.9 602.0,276.6 604.0,276.2 C606.0,275.8 608.1,275.5 611.1,274.9 C614.1,274.3 618.2,273.6 621.7,272.7 C625.2,271.8 629.6,270.5 632.3,269.6 C635.0,268.7 635.7,268.2 638.0,267.4 C640.3,266.6 644.7,265.2 646.0,264.8" stroke="#000" stroke-width="1.90" fill="none" stroke-linecap="round" stroke-linejoin="round"/>
<path d="M605.8,279.1 C607.0,278.9 610.4,278.1 613.0,277.6 C615.6,277.1 619.2,276.5 621.7,275.9 C624.2,275.3 625.9,274.7 628.0,274.0 C630.1,273.3 632.4,272.6 634.4,271.7 C636.4,270.8 638.1,269.5 640.0,268.5 C641.9,267.5 645.0,266.2 646.0,265.8" stroke="#000" stroke-width="1.80" fill="none" stroke-linecap="round" stroke-linejoin="round"/>
<path d="M620.0,231.5 C621.0,231.1 624.0,229.7 626.0,229.0 C628.0,228.3 630.1,228.0 632.0,227.5 C633.9,227.0 636.0,225.9 637.5,226.0 C639.0,226.1 639.6,227.1 641.0,228.0 C642.4,228.9 645.2,231.1 646.0,231.7" stroke="#000" stroke-width="1.90" fill="none" stroke-linecap="round" stroke-linejoin="round"/>
<path d="M630.0,250.0 C631.0,249.6 634.2,248.0 636.0,247.5 C637.8,247.0 639.3,246.8 641.0,247.0 C642.7,247.2 645.2,248.2 646.0,248.5" stroke="#000" stroke-width="1.70" fill="none" stroke-linecap="round" stroke-linejoin="round"/>
<path d="M544.0,335.5 C544.4,334.9 545.1,333.6 546.1,331.8 C547.1,330.0 548.6,326.9 550.0,324.5 C551.4,322.1 552.7,319.9 554.2,317.5 C555.7,315.1 557.5,312.6 559.2,310.2 C560.9,307.8 562.5,305.4 564.4,303.3 C566.3,301.2 568.5,299.3 570.5,297.4 C572.5,295.5 574.6,293.5 576.6,292.1 C578.6,290.7 580.7,289.9 582.7,289.1 C584.7,288.3 586.9,287.6 588.8,287.1 C590.6,286.6 592.1,286.5 593.8,286.3 C595.5,286.1 597.2,286.1 598.9,286.1 C600.6,286.1 602.3,286.1 604.0,286.3 C605.7,286.5 607.2,286.4 609.1,287.1 C611.0,287.8 613.2,289.2 615.2,290.4 C617.2,291.6 619.4,292.5 621.3,294.2 C623.2,295.9 624.7,298.3 626.4,300.5 C628.1,302.7 630.0,305.1 631.5,307.4 C633.0,309.7 634.2,312.1 635.6,314.5 C637.0,316.9 638.2,319.1 639.6,321.6 C641.0,324.1 643.0,327.6 644.1,329.7 C645.2,331.8 645.7,333.3 646.0,334.0" stroke="#000" stroke-width="1.75" fill="none" stroke-linecap="round" stroke-linejoin="round"/>
<path d="M556.0,364.0 C556.2,363.0 556.9,359.8 557.3,358.2 C557.7,356.6 557.5,356.1 558.3,354.1 C559.1,352.1 560.8,349.1 562.3,346.0 C563.8,342.9 565.7,339.2 567.4,335.8 C569.1,332.4 570.8,328.9 572.5,325.7 C574.2,322.5 575.9,319.6 577.6,316.5 C579.3,313.4 581.0,310.2 582.7,307.4 C584.4,304.6 586.0,302.2 587.7,299.6 C589.4,297.1 591.4,293.9 592.8,292.1 C594.2,290.3 595.0,289.4 596.0,288.6 C597.0,287.9 597.8,287.5 598.9,287.6 C600.0,287.7 601.3,288.1 602.5,289.0 C603.7,289.9 604.5,291.2 606.0,293.1 C607.5,295.0 609.7,297.9 611.6,300.3 C613.5,302.7 615.2,305.0 617.2,307.4 C619.2,309.8 621.3,312.1 623.3,314.5 C625.3,316.9 627.5,319.5 629.4,321.6 C631.3,323.7 632.8,325.3 634.5,327.0 C636.2,328.7 638.0,330.7 639.6,331.8 C641.2,332.9 642.9,333.3 644.1,333.8 C645.3,334.3 646.5,334.8 647.0,335.0" stroke="#000" stroke-width="1.75" fill="none" stroke-linecap="round" stroke-linejoin="round"/>
<path d="M556.5,364.0 C556.8,363.0 557.5,359.8 557.8,358.2 C558.2,356.6 558.0,356.2 558.8,354.2 C559.7,352.1 561.3,349.2 562.8,346.1 C564.3,343.1 566.2,339.4 567.9,336.0 C569.6,332.6 571.3,329.1 573.0,325.9 C574.7,322.7 576.4,319.8 578.1,316.8 C579.8,313.7 581.5,310.5 583.1,307.7 C584.8,304.9 586.4,302.2 588.1,300.0 C589.8,297.7 591.8,295.7 593.3,294.2 C594.7,292.7 596.0,291.7 596.9,291.0 C597.8,290.3 598.1,289.8 598.9,289.8 C599.7,289.8 600.5,290.3 601.5,291.0 C602.5,291.7 603.5,292.4 605.2,294.0 C606.8,295.6 609.2,298.4 611.2,300.7 C613.1,303.0 614.8,305.4 616.8,307.7 C618.7,310.1 620.8,312.5 622.9,314.8 C624.9,317.2 627.1,319.8 628.9,321.9 C630.8,324.0 632.3,325.6 634.0,327.3 C635.7,329.0 637.7,331.0 639.1,332.1 C640.6,333.2 641.5,333.3 642.9,333.8 C644.2,334.4 646.3,335.3 647.0,335.6" stroke="#000" stroke-width="1.75" fill="none" stroke-linecap="round" stroke-linejoin="round"/>
<path d="M573.0,364.0 C573.2,363.0 573.6,361.9 574.5,358.2 C575.4,354.5 577.2,347.4 578.6,342.0 C580.0,336.6 581.4,330.3 582.7,325.7 C584.1,321.1 585.4,317.9 586.7,314.5 C588.1,311.1 589.4,307.8 590.8,305.3 C592.1,302.8 593.4,300.8 594.8,299.4 C596.1,298.0 597.5,297.1 598.9,297.1 C600.3,297.1 601.6,297.8 603.0,299.2 C604.4,300.6 605.8,302.8 607.1,305.3 C608.5,307.9 609.8,311.1 611.1,314.5 C612.5,317.9 613.9,321.1 615.2,325.7 C616.6,330.3 617.9,336.6 619.2,342.0 C620.6,347.4 622.4,354.5 623.3,358.2 C624.2,361.9 624.3,363.0 624.5,364.0" stroke="#000" stroke-width="1.75" fill="none" stroke-linecap="round" stroke-linejoin="round"/>
<path d="M573.5,364.0 C573.8,363.0 574.1,361.8 575.0,358.2 C576.0,354.6 577.8,347.5 579.1,342.1 C580.5,336.8 581.8,330.6 583.1,326.0 C584.5,321.5 585.8,317.9 587.1,314.9 C588.4,311.9 589.6,309.8 591.0,307.9 C592.5,305.9 594.5,304.2 595.8,303.1 C597.1,301.9 597.9,301.1 598.9,301.1 C599.9,301.1 600.7,301.8 602.0,303.0 C603.3,304.1 605.3,305.9 606.8,307.9 C608.2,309.9 609.4,311.9 610.7,314.9 C612.1,317.9 613.4,321.5 614.8,326.0 C616.1,330.6 617.4,336.9 618.7,342.2 C620.0,347.6 621.9,354.6 622.8,358.2 C623.6,361.8 623.8,363.0 624.0,364.0" stroke="#000" stroke-width="1.75" fill="none" stroke-linecap="round" stroke-linejoin="round"/>
<path d="M544.0,328.0 C544.4,328.6 545.2,330.5 546.1,331.8 C547.0,333.1 548.2,334.6 549.2,336.0 C550.2,337.4 551.2,338.4 552.2,339.9 C553.2,341.4 554.3,343.3 555.3,345.0 C556.3,346.7 557.5,348.6 558.3,350.1 C559.1,351.6 559.6,352.6 560.3,354.0 C561.0,355.4 561.7,357.0 562.3,358.2 C562.9,359.4 563.7,360.5 564.0,361.0" stroke="#000" stroke-width="1.75" fill="none" stroke-linecap="round" stroke-linejoin="round"/>
<path d="M544.0,357.0 C544.4,356.9 545.1,356.4 546.1,356.2 C547.1,356.0 548.6,355.9 550.0,355.7 C551.4,355.5 553.0,355.5 554.2,355.2 C555.4,354.9 556.3,354.3 557.3,353.8 C558.3,353.3 559.8,352.4 560.3,352.1" stroke="#000" stroke-width="1.75" fill="none" stroke-linecap="round" stroke-linejoin="round"/>
<path d="M570.0,362.0 C570.4,361.4 571.1,359.8 572.5,358.2 C573.9,356.6 576.6,354.3 578.6,352.6 C580.6,350.9 582.5,349.3 584.7,348.0 C586.9,346.7 589.4,345.7 591.8,345.0 C594.2,344.3 596.5,344.0 598.9,343.8 C601.3,343.6 603.6,343.9 606.0,344.0 C608.4,344.1 610.8,344.2 613.2,344.4 C615.6,344.6 617.9,344.8 620.3,345.0 C622.7,345.2 625.4,345.4 627.4,345.4 C629.4,345.4 630.8,345.2 632.5,345.0 C634.2,344.8 636.2,344.5 637.6,344.0 C639.0,343.5 639.9,342.7 641.0,342.0 C642.1,341.3 643.3,340.6 644.1,339.9 C644.9,339.2 645.7,338.3 646.0,338.0" stroke="#000" stroke-width="1.75" fill="none" stroke-linecap="round" stroke-linejoin="round"/>
<path d="M587.0,362.0 C588.0,361.3 591.0,358.8 593.0,358.0 C595.0,357.2 596.9,357.0 598.9,357.0 C600.9,357.0 602.8,357.2 604.8,358.0 C606.8,358.8 610.0,361.3 611.0,362.0" stroke="#000" stroke-width="1.75" fill="none" stroke-linecap="round" stroke-linejoin="round"/>
<path d="M633.0,362.0 C633.4,361.4 634.4,359.9 635.5,358.2 C636.6,356.5 638.4,354.0 639.8,352.0 C641.2,350.0 643.1,347.5 644.1,346.0 C645.1,344.5 645.7,343.5 646.0,343.0" stroke="#000" stroke-width="1.75" fill="none" stroke-linecap="round" stroke-linejoin="round"/>
</g>
<rect x="47.50" y="18.40" width="212.30" height="145.00" fill="none" stroke="#585858" stroke-width="1"/>
<line x1="153.60" y1="18.40" x2="153.60" y2="163.40" stroke="#585858" stroke-width="1.00"/>
<line x1="103.80" y1="18.40" x2="103.80" y2="163.40" stroke="#8a8a8a" stroke-width="1.20" stroke-opacity="0.85"/>
<line x1="210.20" y1="18.40" x2="210.20" y2="163.40" stroke="#8a8a8a" stroke-width="1.20" stroke-opacity="0.85"/>
<rect x="292.40" y="18.40" width="213.20" height="145.00" fill="none" stroke="#585858" stroke-width="1"/>
<line x1="399.20" y1="18.40" x2="399.20" y2="163.40" stroke="#585858" stroke-width="1.00"/>
<line x1="349.60" y1="18.40" x2="349.60" y2="163.40" stroke="#8a8a8a" stroke-width="1.20" stroke-opacity="0.85"/>
<line x1="456.20" y1="18.40" x2="456.20" y2="163.40" stroke="#8a8a8a" stroke-width="1.20" stroke-opacity="0.85"/>
<rect x="537.30" y="18.40" width="105.30" height="145.00" fill="none" stroke="#585858" stroke-width="1"/>
<line x1="594.20" y1="18.40" x2="594.20" y2="163.40" stroke="#8a8a8a" stroke-width="1.20" stroke-opacity="0.85"/>
<rect x="48.50" y="213.50" width="100.60" height="144.80" fill="none" stroke="#6e6e6e" stroke-width="1"/>
<line x1="149.10" y1="213.50" x2="149.10" y2="358.30" stroke="#a4a4a4" stroke-width="1.00"/>
<rect x="172.50" y="213.50" width="101.20" height="144.80" fill="none" stroke="#6e6e6e" stroke-width="1"/>
<line x1="273.70" y1="213.50" x2="273.70" y2="358.30" stroke="#a4a4a4" stroke-width="1.00"/>
<rect x="297.10" y="213.50" width="99.70" height="144.80" fill="none" stroke="#6e6e6e" stroke-width="1"/>
<line x1="396.80" y1="213.50" x2="396.80" y2="358.30" stroke="#a4a4a4" stroke-width="1.00"/>
<rect x="421.20" y="213.50" width="100.10" height="144.80" fill="none" stroke="#6e6e6e" stroke-width="1"/>
<line x1="521.30" y1="213.50" x2="521.30" y2="358.30" stroke="#a4a4a4" stroke-width="1.00"/>
<rect x="545.60" y="213.50" width="98.80" height="144.80" fill="none" stroke="#6e6e6e" stroke-width="1"/>
<line x1="644.40" y1="213.50" x2="644.40" y2="358.30" stroke="#a4a4a4" stroke-width="1.00"/>
<line x1="45.50" y1="18.60" x2="47.50" y2="18.60" stroke="#666" stroke-width="0.80"/>
<text transform="translate(28.80,21.90) scale(1.005,1)" font-family="'Liberation Sans', sans-serif" font-size="9.59" font-weight="normal" font-style="normal" fill="#262626" stroke="#262626" stroke-width="0.28">1.5</text>
<line x1="290.40" y1="18.60" x2="292.40" y2="18.60" stroke="#666" stroke-width="0.80"/>
<line x1="535.30" y1="18.60" x2="537.30" y2="18.60" stroke="#666" stroke-width="0.80"/>
<line x1="45.50" y1="42.80" x2="47.50" y2="42.80" stroke="#666" stroke-width="0.80"/>
<text transform="translate(28.80,46.10) scale(1.005,1)" font-family="'Liberation Sans', sans-serif" font-size="9.59" font-weight="normal" font-style="normal" fill="#262626" stroke="#262626" stroke-width="0.28">1.0</text>
<line x1="290.40" y1="42.80" x2="292.40" y2="42.80" stroke="#666" stroke-width="0.80"/>
<line x1="535.30" y1="42.80" x2="537.30" y2="42.80" stroke="#666" stroke-width="0.80"/>
<line x1="45.50" y1="66.90" x2="47.50" y2="66.90" stroke="#666" stroke-width="0.80"/>
<text transform="translate(28.80,70.20) scale(1.005,1)" font-family="'Liberation Sans', sans-serif" font-size="9.59" font-weight="normal" font-style="normal" fill="#262626" stroke="#262626" stroke-width="0.28">0.5</text>
<line x1="290.40" y1="66.90" x2="292.40" y2="66.90" stroke="#666" stroke-width="0.80"/>
<line x1="535.30" y1="66.90" x2="537.30" y2="66.90" stroke="#666" stroke-width="0.80"/>
<line x1="45.50" y1="91.10" x2="47.50" y2="91.10" stroke="#666" stroke-width="0.80"/>
<text transform="translate(28.80,94.40) scale(1.005,1)" font-family="'Liberation Sans', sans-serif" font-size="9.59" font-weight="normal" font-style="normal" fill="#262626" stroke="#262626" stroke-width="0.28">0.0</text>
<line x1="290.40" y1="91.10" x2="292.40" y2="91.10" stroke="#666" stroke-width="0.80"/>
<line x1="535.30" y1="91.10" x2="537.30" y2="91.10" stroke="#666" stroke-width="0.80"/>
<line x1="45.50" y1="115.30" x2="47.50" y2="115.30" stroke="#666" stroke-width="0.80"/>
<text transform="translate(21.60,118.60) scale(1.088,1)" font-family="'Liberation Sans', sans-serif" font-size="9.59" font-weight="normal" font-style="normal" fill="#262626" stroke="#262626" stroke-width="0.26">−0.5</text>
<line x1="290.40" y1="115.30" x2="292.40" y2="115.30" stroke="#666" stroke-width="0.80"/>
<line x1="535.30" y1="115.30" x2="537.30" y2="115.30" stroke="#666" stroke-width="0.80"/>
<line x1="45.50" y1="139.40" x2="47.50" y2="139.40" stroke="#666" stroke-width="0.80"/>
<text transform="translate(21.60,142.70) scale(1.088,1)" font-family="'Liberation Sans', sans-serif" font-size="9.59" font-weight="normal" font-style="normal" fill="#262626" stroke="#262626" stroke-width="0.26">−1.0</text>
<line x1="290.40" y1="139.40" x2="292.40" y2="139.40" stroke="#666" stroke-width="0.80"/>
<line x1="535.30" y1="139.40" x2="537.30" y2="139.40" stroke="#666" stroke-width="0.80"/>
<line x1="45.50" y1="163.50" x2="47.50" y2="163.50" stroke="#666" stroke-width="0.80"/>
<text transform="translate(21.60,166.80) scale(1.088,1)" font-family="'Liberation Sans', sans-serif" font-size="9.59" font-weight="normal" font-style="normal" fill="#262626" stroke="#262626" stroke-width="0.26">−1.5</text>
<line x1="290.40" y1="163.50" x2="292.40" y2="163.50" stroke="#666" stroke-width="0.80"/>
<line x1="535.30" y1="163.50" x2="537.30" y2="163.50" stroke="#666" stroke-width="0.80"/>
<text transform="translate(26.40,217.70) scale(0.917,1)" font-family="'Liberation Sans', sans-serif" font-size="10.90" font-weight="normal" font-style="normal" fill="#262626" stroke="#262626" stroke-width="0.31">1.5</text>
<line x1="48.50" y1="213.90" x2="57.00" y2="213.90" stroke="#8a8a8a" stroke-width="0.90"/>
<line x1="172.50" y1="213.90" x2="181.00" y2="213.90" stroke="#8a8a8a" stroke-width="0.90"/>
<line x1="297.10" y1="213.90" x2="305.60" y2="213.90" stroke="#8a8a8a" stroke-width="0.90"/>
<line x1="421.20" y1="213.90" x2="429.70" y2="213.90" stroke="#8a8a8a" stroke-width="0.90"/>
<line x1="545.60" y1="213.90" x2="554.10" y2="213.90" stroke="#8a8a8a" stroke-width="0.90"/>
<text transform="translate(26.40,241.80) scale(0.917,1)" font-family="'Liberation Sans', sans-serif" font-size="10.90" font-weight="normal" font-style="normal" fill="#262626" stroke="#262626" stroke-width="0.31">1.0</text>
<line x1="48.50" y1="238.00" x2="57.00" y2="238.00" stroke="#8a8a8a" stroke-width="0.90"/>
<line x1="172.50" y1="238.00" x2="181.00" y2="238.00" stroke="#8a8a8a" stroke-width="0.90"/>
<line x1="297.10" y1="238.00" x2="305.60" y2="238.00" stroke="#8a8a8a" stroke-width="0.90"/>
<line x1="421.20" y1="238.00" x2="429.70" y2="238.00" stroke="#8a8a8a" stroke-width="0.90"/>
<line x1="545.60" y1="238.00" x2="554.10" y2="238.00" stroke="#8a8a8a" stroke-width="0.90"/>
<text transform="translate(26.40,265.90) scale(0.917,1)" font-family="'Liberation Sans', sans-serif" font-size="10.90" font-weight="normal" font-style="normal" fill="#262626" stroke="#262626" stroke-width="0.31">0.5</text>
<line x1="48.50" y1="262.10" x2="57.00" y2="262.10" stroke="#8a8a8a" stroke-width="0.90"/>
<line x1="172.50" y1="262.10" x2="181.00" y2="262.10" stroke="#8a8a8a" stroke-width="0.90"/>
<line x1="297.10" y1="262.10" x2="305.60" y2="262.10" stroke="#8a8a8a" stroke-width="0.90"/>
<line x1="421.20" y1="262.10" x2="429.70" y2="262.10" stroke="#8a8a8a" stroke-width="0.90"/>
<line x1="545.60" y1="262.10" x2="554.10" y2="262.10" stroke="#8a8a8a" stroke-width="0.90"/>
<text transform="translate(26.40,289.90) scale(0.917,1)" font-family="'Liberation Sans', sans-serif" font-size="10.90" font-weight="normal" font-style="normal" fill="#262626" stroke="#262626" stroke-width="0.31">0.0</text>
<line x1="48.50" y1="286.10" x2="57.00" y2="286.10" stroke="#8a8a8a" stroke-width="0.90"/>
<line x1="172.50" y1="286.10" x2="181.00" y2="286.10" stroke="#8a8a8a" stroke-width="0.90"/>
<line x1="297.10" y1="286.10" x2="305.60" y2="286.10" stroke="#8a8a8a" stroke-width="0.90"/>
<line x1="421.20" y1="286.10" x2="429.70" y2="286.10" stroke="#8a8a8a" stroke-width="0.90"/>
<line x1="545.60" y1="286.10" x2="554.10" y2="286.10" stroke="#8a8a8a" stroke-width="0.90"/>
<text transform="translate(18.90,314.00) scale(0.994,1)" font-family="'Liberation Sans', sans-serif" font-size="10.90" font-weight="normal" font-style="normal" fill="#262626" stroke="#262626" stroke-width="0.28">−0.5</text>
<line x1="48.50" y1="310.20" x2="57.00" y2="310.20" stroke="#8a8a8a" stroke-width="0.90"/>
<line x1="172.50" y1="310.20" x2="181.00" y2="310.20" stroke="#8a8a8a" stroke-width="0.90"/>
<line x1="297.10" y1="310.20" x2="305.60" y2="310.20" stroke="#8a8a8a" stroke-width="0.90"/>
<line x1="421.20" y1="310.20" x2="429.70" y2="310.20" stroke="#8a8a8a" stroke-width="0.90"/>
<line x1="545.60" y1="310.20" x2="554.10" y2="310.20" stroke="#8a8a8a" stroke-width="0.90"/>
<text transform="translate(18.90,338.00) scale(0.994,1)" font-family="'Liberation Sans', sans-serif" font-size="10.90" font-weight="normal" font-style="normal" fill="#262626" stroke="#262626" stroke-width="0.28">−1.0</text>
<line x1="48.50" y1="334.20" x2="57.00" y2="334.20" stroke="#8a8a8a" stroke-width="0.90"/>
<line x1="172.50" y1="334.20" x2="181.00" y2="334.20" stroke="#8a8a8a" stroke-width="0.90"/>
<line x1="297.10" y1="334.20" x2="305.60" y2="334.20" stroke="#8a8a8a" stroke-width="0.90"/>
<line x1="421.20" y1="334.20" x2="429.70" y2="334.20" stroke="#8a8a8a" stroke-width="0.90"/>
<line x1="545.60" y1="334.20" x2="554.10" y2="334.20" stroke="#8a8a8a" stroke-width="0.90"/>
<text transform="translate(18.90,362.10) scale(0.994,1)" font-family="'Liberation Sans', sans-serif" font-size="10.90" font-weight="normal" font-style="normal" fill="#262626" stroke="#262626" stroke-width="0.28">−1.5</text>
<line x1="48.50" y1="358.30" x2="57.00" y2="358.30" stroke="#8a8a8a" stroke-width="0.90"/>
<line x1="172.50" y1="358.30" x2="181.00" y2="358.30" stroke="#8a8a8a" stroke-width="0.90"/>
<line x1="297.10" y1="358.30" x2="305.60" y2="358.30" stroke="#8a8a8a" stroke-width="0.90"/>
<line x1="421.20" y1="358.30" x2="429.70" y2="358.30" stroke="#8a8a8a" stroke-width="0.90"/>
<line x1="545.60" y1="358.30" x2="554.10" y2="358.30" stroke="#8a8a8a" stroke-width="0.90"/>
<text transform="translate(14.60,108.60) rotate(-90)" font-family="Liberation Sans, sans-serif" font-size="8.66" fill="#1a1a1a" stroke="#1a1a1a" stroke-width="0.25" textLength="39.2" lengthAdjust="spacingAndGlyphs">E-E<tspan font-size="6.06" font-style="italic" dy="1.2">F</tspan><tspan dy="-1.2"> (eV)</tspan></text>
<text transform="translate(9.60,307.90) rotate(-90)" font-family="Liberation Sans, sans-serif" font-size="8.66" fill="#1a1a1a" stroke="#1a1a1a" stroke-width="0.25" textLength="39.9" lengthAdjust="spacingAndGlyphs">E-E<tspan font-size="6.06" font-style="italic" dy="1.2">F</tspan><tspan dy="-1.2"> (eV)</tspan></text>
<text transform="translate(6.60,21.95) scale(0.880,1)" font-family="'Liberation Sans', sans-serif" font-size="15.15" font-weight="bold" font-style="normal" fill="#000">a</text>
<text transform="translate(275.60,21.96) scale(0.953,1)" font-family="'Liberation Sans', sans-serif" font-size="14.42" font-weight="bold" font-style="normal" fill="#000">b</text>
<text transform="translate(519.70,22.25) scale(0.973,1)" font-family="'Liberation Sans', sans-serif" font-size="14.60" font-weight="bold" font-style="normal" fill="#000">c</text>
<text transform="translate(5.80,213.16) scale(0.848,1)" font-family="'Liberation Sans', sans-serif" font-size="14.29" font-weight="bold" font-style="normal" fill="#000">d</text>
<text transform="translate(56.90,10.20) scale(1.006,1)" font-family="'Liberation Sans', sans-serif" font-size="12.65" font-weight="normal" font-style="normal" fill="#1c1c1c" stroke="#1c1c1c" stroke-width="0.28">Normal phase, U=0 eV</text>
<text transform="translate(302.90,10.00) scale(1.029,1)" font-family="'Liberation Sans', sans-serif" font-size="12.35" font-weight="normal" font-style="normal" fill="#1c1c1c" stroke="#1c1c1c" stroke-width="0.27">Normal phase, U=4.5 eV</text>
<text transform="translate(527.90,10.20) scale(1.031,1)" font-family="'Liberation Sans', sans-serif" font-size="12.35" font-weight="normal" font-style="normal" fill="#1c1c1c" stroke="#1c1c1c" stroke-width="0.27">Distorted phase, U=4.5 eV</text>
<text transform="translate(76.60,205.20) scale(0.934,1)" font-family="'Liberation Sans', sans-serif" font-size="13.08" font-weight="normal" font-style="normal" fill="#1c1c1c" stroke="#1c1c1c" stroke-width="0.30">U=4.5 eV</text>
<text transform="translate(201.80,204.70) scale(0.956,1)" font-family="'Liberation Sans', sans-serif" font-size="12.79" font-weight="normal" font-style="normal" fill="#1c1c1c" stroke="#1c1c1c" stroke-width="0.29">U=3.9 eV</text>
<text transform="translate(325.60,205.20) scale(0.955,1)" font-family="'Liberation Sans', sans-serif" font-size="12.65" font-weight="normal" font-style="normal" fill="#1c1c1c" stroke="#1c1c1c" stroke-width="0.29">U=3.2 eV</text>
<text transform="translate(448.80,205.70) scale(0.941,1)" font-family="'Liberation Sans', sans-serif" font-size="12.94" font-weight="normal" font-style="normal" fill="#1c1c1c" stroke="#1c1c1c" stroke-width="0.30">U=2.6 eV</text>
<text transform="translate(578.70,205.70) scale(0.966,1)" font-family="'Liberation Sans', sans-serif" font-size="12.50" font-weight="normal" font-style="normal" fill="#1c1c1c" stroke="#1c1c1c" stroke-width="0.29">U=2 eV</text>
<text transform="translate(44.35,179.50) scale(0.859,1)" font-family="'Liberation Serif', serif" font-size="14.50" font-weight="normal" font-style="italic" fill="#1e1e1e" stroke="#1e1e1e" stroke-width="0.23">K</text>
<text transform="translate(100.70,179.70) scale(0.775,1)" font-family="'Liberation Serif', serif" font-size="14.96" font-weight="normal" font-style="normal" fill="#1e1e1e" stroke="#1e1e1e" stroke-width="0.26">Γ</text>
<text transform="translate(139.86,179.60) scale(0.913,1)" font-family="'Liberation Serif', serif" font-size="14.50" font-weight="normal" font-style="italic" fill="#1e1e1e" stroke="#1e1e1e" stroke-width="0.22">M</text>
<text transform="translate(152.30,178.72) scale(0.568,1)" font-family="'Liberation Serif', serif" font-size="14.79" font-weight="normal" font-style="italic" fill="#1e1e1e" stroke="#1e1e1e" stroke-width="0.35">,</text>
<text transform="translate(155.45,179.60) scale(0.920,1)" font-family="'Liberation Serif', serif" font-size="14.50" font-weight="normal" font-style="italic" fill="#1e1e1e" stroke="#1e1e1e" stroke-width="0.22">H</text>
<text transform="translate(204.68,179.90) scale(0.843,1)" font-family="'Liberation Serif', serif" font-size="14.70" font-weight="normal" font-style="italic" fill="#1e1e1e" stroke="#1e1e1e" stroke-width="0.24">A</text>
<text transform="translate(254.03,179.90) scale(0.749,1)" font-family="'Liberation Serif', serif" font-size="14.81" font-weight="normal" font-style="italic" fill="#1e1e1e" stroke="#1e1e1e" stroke-width="0.27">L</text>
<text transform="translate(290.84,179.80) scale(0.779,1)" font-family="'Liberation Serif', serif" font-size="15.11" font-weight="normal" font-style="italic" fill="#1e1e1e" stroke="#1e1e1e" stroke-width="0.26">K</text>
<text transform="translate(347.40,179.80) scale(0.778,1)" font-family="'Liberation Serif', serif" font-size="15.11" font-weight="normal" font-style="normal" fill="#1e1e1e" stroke="#1e1e1e" stroke-width="0.26">Γ</text>
<text transform="translate(386.45,179.60) scale(0.874,1)" font-family="'Liberation Serif', serif" font-size="14.50" font-weight="normal" font-style="italic" fill="#1e1e1e" stroke="#1e1e1e" stroke-width="0.23">M</text>
<text transform="translate(398.40,178.72) scale(0.568,1)" font-family="'Liberation Serif', serif" font-size="14.79" font-weight="normal" font-style="italic" fill="#1e1e1e" stroke="#1e1e1e" stroke-width="0.35">,</text>
<text transform="translate(401.44,179.60) scale(0.903,1)" font-family="'Liberation Serif', serif" font-size="14.50" font-weight="normal" font-style="italic" fill="#1e1e1e" stroke="#1e1e1e" stroke-width="0.22">H</text>
<text transform="translate(451.55,179.90) scale(0.802,1)" font-family="'Liberation Serif', serif" font-size="14.70" font-weight="normal" font-style="italic" fill="#1e1e1e" stroke="#1e1e1e" stroke-width="0.25">A</text>
<text transform="translate(500.72,179.90) scale(0.701,1)" font-family="'Liberation Serif', serif" font-size="14.81" font-weight="normal" font-style="italic" fill="#1e1e1e" stroke="#1e1e1e" stroke-width="0.29">L</text>
<text transform="translate(535.84,179.80) scale(0.877,1)" font-family="'Liberation Serif', serif" font-size="13.59" font-weight="normal" font-style="italic" fill="#1e1e1e" stroke="#1e1e1e" stroke-width="0.23">K</text>
<path d="M547.65,170.00 L547.65,173.70 M546.05,170.93 L549.25,172.77 M549.25,170.93 L546.05,172.77 " stroke="#333" stroke-width="0.9" fill="none"/>
<text transform="translate(592.00,179.80) scale(0.899,1)" font-family="'Liberation Serif', serif" font-size="14.05" font-weight="normal" font-style="normal" fill="#1e1e1e" stroke="#1e1e1e" stroke-width="0.22">Γ</text>
<path d="M601.60,170.00 L601.60,173.80 M599.95,170.95 L603.25,172.85 M603.25,170.95 L599.95,172.85 " stroke="#333" stroke-width="0.9" fill="none"/>
<text transform="translate(635.25,179.80) scale(0.879,1)" font-family="'Liberation Serif', serif" font-size="14.05" font-weight="normal" font-style="italic" fill="#1e1e1e" stroke="#1e1e1e" stroke-width="0.23">M</text>
<path d="M648.35,170.00 L648.35,173.80 M646.70,170.95 L650.00,172.85 M650.00,170.95 L646.70,172.85 " stroke="#333" stroke-width="0.9" fill="none"/>
<text transform="translate(45.11,375.50) scale(0.758,1)" font-family="'Liberation Serif', serif" font-size="12.06" font-weight="normal" font-style="italic" fill="#1e1e1e" stroke="#1e1e1e" stroke-width="0.26">K</text>
<path d="M54.75,367.80 L54.75,370.70 M53.49,368.53 L56.01,369.97 M56.01,368.53 L53.49,369.97 " stroke="#333" stroke-width="0.9" fill="none"/>
<text transform="translate(99.30,375.60) scale(0.814,1)" font-family="'Liberation Serif', serif" font-size="11.91" font-weight="normal" font-style="normal" fill="#1e1e1e" stroke="#1e1e1e" stroke-width="0.25">Γ</text>
<text transform="translate(141.72,375.60) scale(0.811,1)" font-family="'Liberation Serif', serif" font-size="11.91" font-weight="normal" font-style="italic" fill="#1e1e1e" stroke="#1e1e1e" stroke-width="0.25">M</text>
<path d="M152.25,367.80 L152.25,370.70 M150.99,368.53 L153.51,369.97 M153.51,368.53 L150.99,369.97 " stroke="#333" stroke-width="0.9" fill="none"/>
<text transform="translate(169.11,375.50) scale(0.758,1)" font-family="'Liberation Serif', serif" font-size="12.06" font-weight="normal" font-style="italic" fill="#1e1e1e" stroke="#1e1e1e" stroke-width="0.26">K</text>
<path d="M178.75,367.80 L178.75,370.70 M177.49,368.53 L180.01,369.97 M180.01,368.53 L177.49,369.97 " stroke="#333" stroke-width="0.9" fill="none"/>
<text transform="translate(223.50,375.60) scale(0.814,1)" font-family="'Liberation Serif', serif" font-size="11.91" font-weight="normal" font-style="normal" fill="#1e1e1e" stroke="#1e1e1e" stroke-width="0.25">Γ</text>
<text transform="translate(266.32,375.60) scale(0.811,1)" font-family="'Liberation Serif', serif" font-size="11.91" font-weight="normal" font-style="italic" fill="#1e1e1e" stroke="#1e1e1e" stroke-width="0.25">M</text>
<path d="M276.85,367.80 L276.85,370.70 M275.59,368.53 L278.11,369.97 M278.11,368.53 L275.59,369.97 " stroke="#333" stroke-width="0.9" fill="none"/>
<text transform="translate(293.71,375.50) scale(0.758,1)" font-family="'Liberation Serif', serif" font-size="12.06" font-weight="normal" font-style="italic" fill="#1e1e1e" stroke="#1e1e1e" stroke-width="0.26">K</text>
<path d="M303.35,367.80 L303.35,370.70 M302.09,368.53 L304.61,369.97 M304.61,368.53 L302.09,369.97 " stroke="#333" stroke-width="0.9" fill="none"/>
<text transform="translate(347.60,375.60) scale(0.814,1)" font-family="'Liberation Serif', serif" font-size="11.91" font-weight="normal" font-style="normal" fill="#1e1e1e" stroke="#1e1e1e" stroke-width="0.25">Γ</text>
<text transform="translate(389.42,375.60) scale(0.811,1)" font-family="'Liberation Serif', serif" font-size="11.91" font-weight="normal" font-style="italic" fill="#1e1e1e" stroke="#1e1e1e" stroke-width="0.25">M</text>
<path d="M399.95,367.80 L399.95,370.70 M398.69,368.53 L401.21,369.97 M401.21,368.53 L398.69,369.97 " stroke="#333" stroke-width="0.9" fill="none"/>
<text transform="translate(417.81,375.50) scale(0.758,1)" font-family="'Liberation Serif', serif" font-size="12.06" font-weight="normal" font-style="italic" fill="#1e1e1e" stroke="#1e1e1e" stroke-width="0.26">K</text>
<path d="M427.45,367.80 L427.45,370.70 M426.19,368.53 L428.71,369.97 M428.71,368.53 L426.19,369.97 " stroke="#333" stroke-width="0.9" fill="none"/>
<text transform="translate(471.30,375.60) scale(0.814,1)" font-family="'Liberation Serif', serif" font-size="11.91" font-weight="normal" font-style="normal" fill="#1e1e1e" stroke="#1e1e1e" stroke-width="0.25">Γ</text>
<text transform="translate(513.92,375.60) scale(0.811,1)" font-family="'Liberation Serif', serif" font-size="11.91" font-weight="normal" font-style="italic" fill="#1e1e1e" stroke="#1e1e1e" stroke-width="0.25">M</text>
<path d="M524.45,367.80 L524.45,370.70 M523.19,368.53 L525.71,369.97 M525.71,368.53 L523.19,369.97 " stroke="#333" stroke-width="0.9" fill="none"/>
<text transform="translate(542.21,375.50) scale(0.758,1)" font-family="'Liberation Serif', serif" font-size="12.06" font-weight="normal" font-style="italic" fill="#1e1e1e" stroke="#1e1e1e" stroke-width="0.26">K</text>
<path d="M551.85,367.80 L551.85,370.70 M550.59,368.53 L553.11,369.97 M553.11,368.53 L550.59,369.97 " stroke="#333" stroke-width="0.9" fill="none"/>
<text transform="translate(595.90,375.60) scale(0.814,1)" font-family="'Liberation Serif', serif" font-size="11.91" font-weight="normal" font-style="normal" fill="#1e1e1e" stroke="#1e1e1e" stroke-width="0.25">Γ</text>
<text transform="translate(637.02,375.60) scale(0.811,1)" font-family="'Liberation Serif', serif" font-size="11.91" font-weight="normal" font-style="italic" fill="#1e1e1e" stroke="#1e1e1e" stroke-width="0.25">M</text>
<path d="M647.55,367.80 L647.55,370.70 M646.29,368.53 L648.81,369.97 M648.81,368.53 L646.29,369.97 " stroke="#333" stroke-width="0.9" fill="none"/>
<rect x="657.0" y="44.0" width="10.9" height="101.4" fill="url(#vir)"/>
<text transform="translate(651.30,38.70) scale(0.917,1)" font-family="'Liberation Sans', sans-serif" font-size="13.23" font-weight="normal" font-style="normal" fill="#1c1c1c" stroke="#1c1c1c" stroke-width="0.31">Ti 3d</text>
<text transform="translate(651.90,159.60) scale(0.942,1)" font-family="'Liberation Sans', sans-serif" font-size="12.79" font-weight="normal" font-style="normal" fill="#1c1c1c" stroke="#1c1c1c" stroke-width="0.30">Se 4p</text>
</svg>
</body></html>
